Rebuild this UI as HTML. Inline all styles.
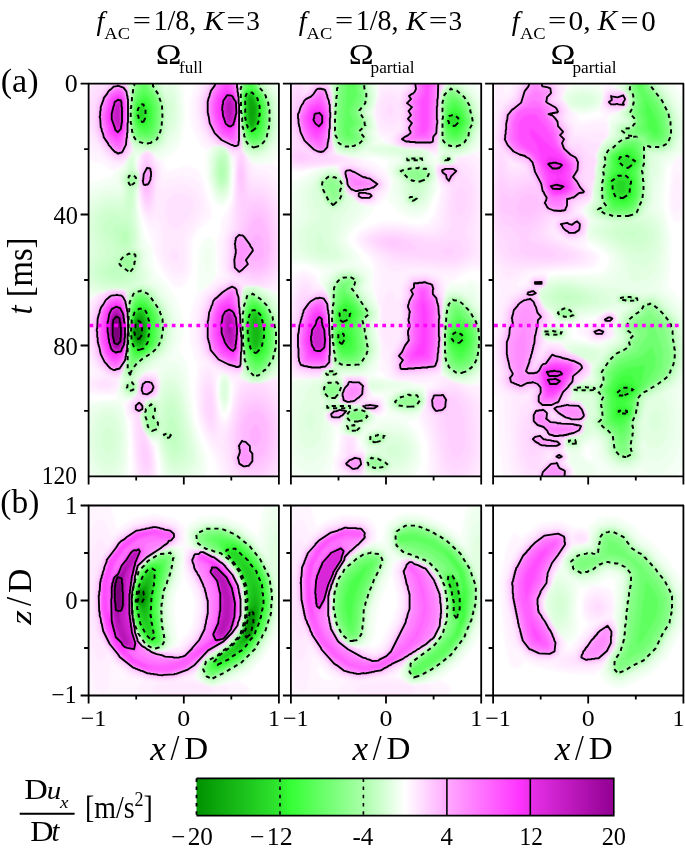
<!DOCTYPE html><html><head><meta charset="utf-8"><style>html,body{margin:0;padding:0;background:#fff}svg{display:block}</style></head><body>
<svg width="685" height="853" viewBox="0 0 685 853" font-family="Liberation Serif">
<defs>
<filter id="bl" x="-5%" y="-5%" width="110%" height="110%"><feGaussianBlur stdDeviation="0.9"/></filter>
<clipPath id="ca0"><rect x="88.6" y="83.6" width="190.3" height="392.8"/></clipPath>
<clipPath id="cb0"><rect x="88.6" y="505.5" width="190.3" height="190.0"/></clipPath>
<clipPath id="ca1"><rect x="290.9" y="83.6" width="190.3" height="392.8"/></clipPath>
<clipPath id="cb1"><rect x="290.9" y="505.5" width="190.3" height="190.0"/></clipPath>
<clipPath id="ca2"><rect x="493.1" y="83.6" width="190.3" height="392.8"/></clipPath>
<clipPath id="cb2"><rect x="493.1" y="505.5" width="190.3" height="190.0"/></clipPath>
<filter id="gs" x="0" y="0" width="100%" height="100%" filterUnits="userSpaceOnUse"><feOffset dx="0" dy="0"/></filter>
<linearGradient id="cbg" x1="0" x2="1" y1="0" y2="0">
<stop offset="0.0000" stop-color="#009100"/>
<stop offset="0.0250" stop-color="#069c06"/>
<stop offset="0.0500" stop-color="#0ca70c"/>
<stop offset="0.0750" stop-color="#12b212"/>
<stop offset="0.1000" stop-color="#18bc18"/>
<stop offset="0.1250" stop-color="#1ec71e"/>
<stop offset="0.1500" stop-color="#24d224"/>
<stop offset="0.1750" stop-color="#2add2a"/>
<stop offset="0.2000" stop-color="#30e830"/>
<stop offset="0.2250" stop-color="#34ff34"/>
<stop offset="0.2500" stop-color="#45ff45"/>
<stop offset="0.2750" stop-color="#56ff56"/>
<stop offset="0.3000" stop-color="#67ff67"/>
<stop offset="0.3250" stop-color="#77ff77"/>
<stop offset="0.3500" stop-color="#88ff88"/>
<stop offset="0.3750" stop-color="#99ff99"/>
<stop offset="0.4000" stop-color="#aaffaa"/>
<stop offset="0.4250" stop-color="#bfffbf"/>
<stop offset="0.4500" stop-color="#d4ffd4"/>
<stop offset="0.4750" stop-color="#eaffea"/>
<stop offset="0.5000" stop-color="#ffffff"/>
<stop offset="0.5250" stop-color="#ffeaff"/>
<stop offset="0.5500" stop-color="#ffd4ff"/>
<stop offset="0.5750" stop-color="#ffbfff"/>
<stop offset="0.6000" stop-color="#ffaaff"/>
<stop offset="0.6250" stop-color="#ff99ff"/>
<stop offset="0.6500" stop-color="#ff88ff"/>
<stop offset="0.6750" stop-color="#ff77ff"/>
<stop offset="0.7000" stop-color="#ff67ff"/>
<stop offset="0.7250" stop-color="#ff56ff"/>
<stop offset="0.7500" stop-color="#ff45ff"/>
<stop offset="0.7750" stop-color="#ff34ff"/>
<stop offset="0.8000" stop-color="#e830e8"/>
<stop offset="0.8250" stop-color="#dd2add"/>
<stop offset="0.8500" stop-color="#d224d2"/>
<stop offset="0.8750" stop-color="#c71ec7"/>
<stop offset="0.9000" stop-color="#bc18bc"/>
<stop offset="0.9250" stop-color="#b212b2"/>
<stop offset="0.9500" stop-color="#a70ca7"/>
<stop offset="0.9750" stop-color="#9c069c"/>
<stop offset="1.0000" stop-color="#910091"/>
</linearGradient>
</defs>
<g clip-path="url(#ca0)"><g filter="url(#bl)"><path fill="#fff5ff" fill-rule="evenodd" d="M115 171l-6-2-8-6-8-1-6-7 0-74 40 0 1 3 2 12-1 34 4 21-9 14-9 6zM281 479l-63 0-3-20-12-24-5-14-3-28 3-29-4-7-4-15 0-23 2-12 5-13 9-6 8-8 4-6-1-33 4-13 0-8 8-13 3-9 2-27-2-13-6-9-4-3-9 0-6 5-7-7-7-13-3-15 0-15 5-19 44-1 1 43 3 27 10 13 20 0 8 7 0 122-7-1-16-6-13 0-2 2-2 25 2 57-4 7 12 6 10 0 20-7 0 103zM181 287l-5 0-4-2-9-13-8-16-5-20-9-22-3-17 1-24-3-9 4-9 7-5 6 3 4 5 6 3 4 10 20-5 10 3 6 11 8 29 1 9-13 11-6 9-1 7 0 19-1 9-4 9-6 5zM111 395l-13 0-11-2 0-19 2-2-2-6-1-5 0-60 21-11 15-1 4 1 1 3 1 11-1 53-5 18-3 5 1 4-2 7-2 3-5 1zM158 479l-25 0-2-56-4-6-3-14 7-4 6-6 0-13 3-3 6-5 10-2 4 11-1 12-3 5-7 1-4 3-1 8-4 7 3 12 12 18 2 16 1 16zM226 419l5-11 2-21-5-11-5-3-4 4 0 2-2 0 0 16 4 21 3 3 2 0z"/><path fill="#ffefff" fill-rule="evenodd" d="M119 167l-7-2-12-10-6-2-6-9-2-14 1-48 40-1 1 3 2 12-1 34 4 21-9 14-5 2zM281 479l-57 0-6-23-13-22-6-15-1-15 0-17 2-14 4-10-5-7-4-15 0-21 2-12 6-15 12-11 9-6-3-12 1-21 11-45 2-37-9-13-4-2-12 1-6-6-6-12-3-14 0-15 6-18 38-1 1 43 3 27 11 16 16 6 11 12 0 102-7 5-16-6-13 0-2 2-2 25 2 57-4 7 12 6 10 0 20-7 0 103zM181 279l-4 0-4-1-9-11-6-14-2-22-9-9-5-11-3-17 0-21-2-9 3-9 7-5 6 4 7 10 3 16 19-4 11 2 7 6 5 15 1 13-16 24-2 8 0 24-3 7-4 4zM110 393l-14-1-5-1-4-4 0-7 9-6-7-14-2-8 0-43 3-9 7-6 14-5 11 0 4 1 1 3 1 11-1 53-5 18-3 5 1 4-2 6-8 3zM156 479l-20 0-5-60-4-5-1-4 2-9 9-8 0-13 7-7 5-1 6 0 3 2 2 7 0 9-4 8-7 1-4 3-1 8-4 7 3 12 10 16 3 18 0 16zM225 423l4-6 2-8 4-28-4-2-6-6-5 2-4-2 2 38 4 11 3 1z"/><path fill="#ffe9ff" fill-rule="evenodd" d="M121 164l-6-1-7-3-10-13-4-2-4-8-3-12 0-21 0-10 3-12 37-1 1 3 2 12-1 34 4 21-7 11-5 2zM239 378l-10-3-17-8-11-12-3-15 0-20 1-10 5-13 12-12 13-8-5-8 0-26 2-8 2-4 6-30 2-44-4-1-3-4-7-6-10 0-6-7-6-11-2-13-1-14 4-13 4-6 34-1 1 43 3 27 5 9 5 15 11 2 6 4 6 6 5 9 0 84-12 10-11-4-13 0-2 2-2 25 2 57-4 8zM180 272l-4 0-4-2-7-10-2-9 0-18-4-13-2-3-6 3-3-1-6-10-3-17 0-19-1-6 2-4 1-8 6-5 7 5 1 6 4 5 1 11-1 7 2 7 15-6 10 0 10 5 5 10 0 6-1 6-16 25 1 26-2 6-3 3zM109 391l-12-1-4-2-2-3 3-6 9-3-7-8-5-11-4-19 1-21 3-13 6-9 14-6 11 0 4 1 1 3 1 11-1 53-5 18-5 6 0 5-8 5zM281 479l-52 0-9-29-13-17-6-16-2-15 1-16 3-12 5-7 3 1 2 4 5 42 2 10 3 4 4-3 3-7 9-40 12 5 10 0 14-4 4 5 2 3 0 7 0 85zM154 479l-16 0-3-19-2-43-5-7 2-8 7-9 0-13 9-7 10 2 4 6 0 9-3 7-11 4-2 9-4 5 3 14 8 12 2 8 2 17-1 13z"/><path fill="#ffe2ff" fill-rule="evenodd" d="M120 162l-6-1-9-7-14-24-3-13 1-15 2-13 4-7 6 0 3 2 3-2 5-1 15 0 1 3 2 12-1 34 4 20-6 9-7 3zM240 375l-5 0-9-3-13-7-10-11-4-15 0-18 2-10 6-15 11-10 15-8-6-7-1-12 1-7-1-9 2-8 3-4 3-25 3-51-6-1-5-6-4-2-7 0-7-8-6-11-3-13 0-13 4-13 4-6 32-1 2 57 2 13 3 4 4 21 3 5 11 2 7 5 5 9 5 11 0 65-7 9-8 5-5 1-3-2-13 0-2 2-2 25 2 57-3 5zM150 215l-3-1-3-4-5-21 0-21 2-13 3-3 3-2 5 4 6 18-2 12 0 20-3 8-3 3zM178 229l-4 0-5-4-3-9-1-9 2-6 4-5 5-3 6 0 9 4 2 5 1 5-5 11-11 11zM177 263l-4-2-3-4 1-6 3-3 3 2 2 5 0 5-2 3zM118 378l-6 0-5-2-9-9-5-10-5-25 2-15 4-14 6-9 11-5 15 1 2 14-1 53-5 18-4 3zM151 479l-10 0-2-5-3-18-2-40-4-6 0-6 7-11 1-13 4-4 4-1 9 1 5 7 0 7-3 7-11 4-2 9-4 5 3 14 6 10 4 14 1 16-3 10zM217 435l-4 0-5-5-6-17 0-25 3-9 4-4 3 3 2 11 4 40-1 6zM108 388l-8 0-3-2 0-3 5-4 8 1 2 5-4 3zM277 479l-43 0-4-8-5-21-1-11 7-20 7-31 5-8 8 3 10 0 7-2 7 7 6 10 0 74-4 7z"/><path fill="#ffdcff" fill-rule="evenodd" d="M121 160l-5 0-4-2-8-8-7-10-6-21 0-14 3-12 3-4 5 0 7-7 18 0 2 6 1 11-1 31 3 19-5 8-6 3zM261 285l-8 0-7-2-11-6-7-7 0-27 1-7 5-6 2-15 0-47 2-14-8-3-8-5-4-1-8-7-7-12-2-12 0-13 3-12 5-7 30-1 2 57 8 45 3 4 10 1 7 5 5 8 4 11 3 15 0 38-8 13-5 4-7 3zM150 211l-3 0-2-3-4-18-2-2 0-17 2-4 2-14 4-2 3 1 7 20-3 29-4 10zM239 374l-12-3-13-7-9-10-4-15 0-19 2-10 5-13 11-10 13-7 7 2 4 5-2 26 2 57-2 3-2 1zM116 377l-9-3-8-8-5-9-3-13-1-15 3-20 8-13 6-5 15-1 4 1 1 2 1 51-2 19-3 9-1 3-6 2zM148 478l-3 0-2-2-4-8-2-17-1-35-4-3-1-4 0-5 5-5 2-11 0-7 5-4 3-1 9 2 4 9-3 9-12 5 0 9-4 5 3 14 4 7 5 21 0 14-4 7zM213 429l-3-2-3-4-4-14 1-17 2-6 3-3 3 4 3 24 0 13-2 5zM272 479l-33 0-5-10-4-13-2-19 10-40 4-9 8-5 12 0 6 4 7 10 6 12 0 52-4 10-5 8z"/><path fill="#ffd6ff" fill-rule="evenodd" d="M120 159l-4 0-5-3-12-15-4-12-1-11 2-18 8-12 8-6 12 0 3 1 3 13-1 34 2 16-5 10-6 3zM239 151l-6 0-14-6-9-8-5-11-3-12 0-13 4-12 4-7 29 0 1 42 3 21-1 4-3 2zM149 208l-2-1-3-2-4-18 0-15 4-16 3-3 3 4 2 7 2 3 2 5-3 27-4 9zM260 282l-8 0-9-5-6 0-8-8 1-29 1-5 6-5 0-6 0-55 1-11 3-5 2 2 2 7 4 29 3 2 10 1 6 5 6 10 3 15 3 25-2 15-7 12-11 6zM241 372l-6 0-20-9-9-10-4-14 0-18 2-10 5-13 11-10 12-7 7 3 3 7-1 13 0 27 2 37-2 4zM118 375l-5 0-5-2-8-7-5-10-4-24 1-15 4-12 7-10 6-4 6-1 9 1 3 2 1 11-1 53-4 15-1 2-4 1zM149 399l-8-1-3-5 1-11 6-5 9 1 4 8-2 8-7 5zM265 479l-20 0-10-12-3-8-1-23 7-32 6-12 10-4 9 2 8 7 6 13 3 15 1 19-3 14-6 13-7 8zM212 421l-2 0-2-3-2-9 0-11 3-6 2 2 2 12 0 10-1 5zM148 473l-3 0-2-3-3-11-1-43-5-3-2-3 0-6 7-5 6 3-1 8-4 5 0 2 11 39 0 11-3 6z"/><path fill="#ffcfff" fill-rule="evenodd" d="M120 158l-4-1-4-2-12-15-4-12-1-10 1-11 4-11 11-13 6-1 10 2 2 4 1 8-1 34 1 16-4 9-6 3zM239 150l-6 0-14-7-8-7-5-11-3-11 0-13 4-11 4-8 28 0 1 42 3 21-1 3-3 2zM149 204l-2 0-2-2-3-13-2-5 0-10 4-14 3-3 4 8 3 3 1 4-3 25-3 7zM260 279l-8 0-8-5-6 2-8-7 1-29 2-5 6-5 1-10 1-12-4-33 2-13 2-5 3 9 3 31 3 2 11-1 5 4 6 10 3 15 2 22-1 13-6 11-10 6zM241 371l-6 0-19-8-9-10-4-14 0-18 2-10 5-13 10-9 12-7 7 3 3 7-1 39 2 35 0 4-2 1zM118 374l-5 0-4-2-8-7-5-11-4-23 1-13 5-13 5-8 6-5 8-2 7 2 3 3 1 23 0 26-2 19-3 9-5 2zM149 398l-8-1-3-5 1-9 6-5 9 1 3 7-1 7-7 5zM258 477l-8-1-12-8-3-2-2-7 2-6-1-21 5-24 6-10 5-4 5-1 9 3 7 8 5 13 2 16-1 16-4 13-7 10-8 5zM141 414l-4-1-4-3 0-6 6-4 6 3-1 7-3 4zM147 467l-3-2-2-7-1-11 2-6 3 4 3 10 0 9-2 3z"/><path fill="#ffc9ff" fill-rule="evenodd" d="M239 149l-6 0-14-6-7-7-5-11-3-11 0-13 4-11 4-8 27 0 1 42 2 21-3 4zM120 157l-7-3-12-15-4-11-1-10 1-11 4-10 5-8 6-5 6-2 8 3 3 4 1 7-1 50-4 8-5 3zM148 201l-3-3-5-17 4-17 3-4 6 8 1 4-3 23-3 6zM242 193l-2-4-2-11 1-10 2-6 2 3 1 12 0 11-2 5zM259 276l-7-1-6-3-5 3-3 0-6-5-1-7 2-26 4-5 5-1 5-22 5-4 6-2 6 4 5 8 4 14 2 20-1 10-3 8-5 6-7 3zM241 370l-7 0-18-8-8-10-4-13 0-18 6-21 10-10 12-7 7 5 3 8-1 35 2 35 0 2-2 2zM118 373l-5 0-4-2-7-7-5-9-4-24 1-13 4-12 9-11 10-4 7 2 3 4 1 21 0 26-2 19-3 7-5 3zM149 397l-7 0-3-5 1-9 5-4 8 1 3 6-1 7-6 4zM259 471l-17-2-6-3-2-7 2-7 0-23 4-16 6-10 9-4 7 2 7 7 4 11 2 13-1 14-3 12-5 8-7 5zM141 413l-3 0-5-3 1-6 5-4 6 5-1 5-3 3z"/><path fill="#ffc2ff" fill-rule="evenodd" d="M236 149l-16-7-8-7-5-11-2-10 0-13 3-11 5-8 26 0 3 60-2 5-4 2zM120 156l-7-2-12-15-3-11-1-10 1-11 3-10 11-12 6-2 7 3 4 4 1 6-2 50-4 8-4 2zM148 197l-3-2-5-14 2-7 5-10 5 3 1 5 0 9-5 16zM242 182l-2-5 1-9 1 6 0 8zM242 274l-4 0-6-5 1-31 5-6 6 1 6-18 5-5 5 0 6 6 3 11 3 20-1 13-3 7-6 5-8 1-7-4-5 5zM238 370l-10-3-11-6-9-9-3-13 0-18 6-21 10-10 11-6 7 4 3 13-1 30 2 35-2 3-3 1zM115 373l-6-2-3-4-8-11-3-13-1-13 1-12 4-12 9-11 9-3 6 2 4 4 1 46-3 22-4 5-6 2zM148 397l-6-1-3-5 2-8 5-4 7 1 3 7-2 6-6 4zM140 413l-6-3 0-5 5-4 3 2 2 3-1 5-3 2zM249 469l-6 0-6-4-2-6 2-7-1-6 3-5 0-14 4-13 6-8 7-2 7 3 5 9 4 12 0 13-3 11-4 8-5 5-7 1-4 3z"/><path fill="#ffbfff" fill-rule="evenodd" d="M237 148l-6-1-11-6-7-6-5-11-2-10 0-13 3-10 5-9 25 0 2 59-1 5-3 2zM121 155l-3 0-4-2-12-14-3-11-1-10 1-11 3-10 10-11 6-2 7 2 3 5 2 8-1 34-1 12-4 8-3 2zM148 192l-2-1-5-10 1-7 5-8 4 2 2 4-1 8-4 12zM240 274l-7-6 1-30 5-5 8 2 5-14 4-4 3 0 5 4 4 12 2 15-2 11-3 6-4 3-6 1-6-2-9 7zM239 369l-11-3-11-5-8-10-3-12 0-18 1-9 5-12 10-9 10-6 6 4 3 12 0 30 2 28-1 8-3 2zM116 372l-7-2-6-6-4-8-3-13-1-13 1-12 4-12 8-10 9-3 6 1 4 6 1 34-2 29-5 7-5 2zM148 396l-6-1-2-4 1-7 5-4 7 1 2 6-1 5-6 4zM141 412l-3 0-4-2 1-5 4-4 5 5 0 4-3 2zM250 468l-7 0-5-3-2-6 2-7-1-6 5-7 0-11 3-10 5-6 6-2 6 3 4 7 2 10 0 10-4 14-4 4-5 2-5 8z"/><path fill="#ffbaff" fill-rule="evenodd" d="M237 148l-6-1-11-6-7-6-5-11-2-10 0-13 3-10 5-9 25 0 2 59-1 5-3 2zM121 155l-3 0-4-2-12-14-3-11-1-10 1-11 3-10 10-11 6-2 7 2 3 5 2 8-1 34-1 12-4 8-3 2zM148 192l-2-1-5-10 1-7 5-8 4 2 2 4-1 8-4 12zM240 274l-7-6 1-30 5-5 8 2 5-14 4-4 3 0 5 4 4 12 2 15-2 11-3 6-4 3-6 1-6-2-9 7zM239 369l-11-3-11-5-8-10-3-12 0-18 1-9 5-12 10-9 10-6 6 4 3 12 0 30 2 28-1 8-3 2zM116 372l-7-2-6-6-4-8-3-13-1-13 1-12 4-12 8-10 9-3 6 1 4 6 1 34-2 29-5 7-5 2zM148 396l-6-1-2-4 1-7 5-4 7 1 2 6-1 5-6 4zM141 412l-3 0-4-2 1-5 4-4 5 5 0 4-3 2zM250 468l-7 0-5-3-2-6 2-7-1-6 5-7 0-11 3-10 5-6 6-2 6 3 4 7 2 10 0 10-4 14-4 4-5 2-5 8z"/><path fill="#ffafff" fill-rule="evenodd" d="M237 147l-3 0-13-7-7-6-5-10-2-11 0-12 3-10 5-9 23 0 2 21 0 38-1 5-2 1zM121 154l-3 0-4-1-11-15-4-20 1-11 3-9 6-8 5-4 4-1 6 2 1 2 2 3 2 8-2 45-4 8-2 1zM146 186l-2-1-2-4 1-7 5-7 3 2 1 8-3 7-3 2zM240 273l-6-5 1-30 4-4 4 0 7 8 5-7 4-1 3 3 2 8 0 7-1 6-3 3-4 1-4-1-2-4-3 4 2 4-9 8zM239 368l-10-3-11-5-8-9-3-13 0-17 6-20 9-9 10-6 5 4 3 12 2 50-1 13-2 3zM116 371l-5-2-4-3-7-11-3-12-1-13 1-12 4-11 7-10 9-3 6 1 3 7 2 32-2 27-5 8-5 2zM148 395l-5-1-2-3 1-7 4-3 6 1 2 5-1 4-5 4zM141 411l-2 1-4-2 0-4 4-4 4 4 0 4-2 1zM257 446l-5-2-3-7 2-9 4-4 4 2 2 8-1 8-3 4zM249 467l-5 0-6-4 0-17 4-6 5 1 4 5 0 4 2 4 0 8-4 5z"/><path fill="#ffa6ff" fill-rule="evenodd" d="M236 146l-15-6-6-6-5-10-2-11 0-13 2-7 6-11 21 0 2 23 0 36-1 4-2 1zM120 153l-5-2-11-13-3-9-1-11 1-12 3-8 6-8 8-4 5 1 2 3 3 10 0 23-2 22-4 7-2 1zM146 185l-2 0-1-4 1-7 3-5 3-1 1 4-1 8-2 4-2 1zM241 271l-2 0-4-3-1-5 2-9-1-13 1-3 4-3 4 2 9 13-7 10 2 4-7 7zM238 367l-10-3-9-5-8-8-3-13 0-19 6-19 9-8 9-5 4 2 1 3 3 23 1 44-1 7-2 1zM115 370l-4-2-6-5-4-8-3-11-1-14 1-13 4-11 4-6 5-4 6-1 5 1 1 2 4 11 1 35-3 17-5 7-5 2zM148 394l-4 0-2-3 0-5 4-4 5 0 2 5-1 4-4 3zM140 411l-4-2 0-3 3-3 3 4 0 2-2 2zM249 466l-6 0-4-2-1-4 2-7-1-7 4-5 3 1 4 4 0 5 2 3 0 8-3 4z"/><path fill="#ff9dff" fill-rule="evenodd" d="M236 146l-15-6-6-6-6-13-1-19 2-9 6-11 21 0 2 23 0 23 0 13-1 4-2 1zM120 153l-2 0-5-4-9-11-3-9-1-12 1-11 3-8 6-8 8-4 5 1 2 3 3 10-1 38-1 7-4 7-2 1zM148 184l-3 0-1-3 1-7 4-5 1 7-2 8zM241 270l-1 0-4-2-1-6 2-23 3-3 3 1 9 13-7 10 2 4-6 6zM238 367l-10-3-9-5-8-8-3-13 0-19 5-17 10-10 9-4 4 1 1 3 3 23 1 36-1 14-2 2zM115 370l-4-2-6-5-4-8-3-13-1-12 1-13 4-11 4-6 5-4 6-1 5 1 3 5 2 11 1 22-3 27-5 7-5 2zM147 394l-3-1-1-5 1-4 5-1 2 1 2 4-2 3-4 3zM140 410l-3-1 2-5 3 3 0 2-2 1zM249 465l-4 1-5-4 0-16 3-4 6 4 0 5 3 4 0 6-3 4z"/><path fill="#ff95ff" fill-rule="evenodd" d="M237 145l-5-1-10-5-6-6-6-10-2-10 0-11 3-10 6-10 19 0 3 25-1 34-1 4zM121 152l-3 0-3-1-10-14-4-10-1-10 1-9 4-10 5-7 4-3 4-1 6 3 4 10-2 38-1 7-4 7zM147 183l-2 0 0-5 4-8 0 6-2 7zM240 267l-2-6 1-7 0-11 2-4 8 11-6 9 0 5-3 3zM239 366l-11-2-9-5-7-9-4-12 1-22 6-16 8-7 9-5 4 2 4 25 1 36-2 15zM116 369l-2 0-5-3-7-12-4-12-1-12 1-11 5-13 4-6 4-3 6-2 5 1 3 6 3 16 0 16-4 27-4 6-4 2zM147 392l-2-1 0-4 2-3 2 1 2 3-4 4zM247 463l-4-1-2-3 3-14 3 3 0 4 2 4 0 4-2 3z"/><path fill="#ff8cff" fill-rule="evenodd" d="M237 144l-2 1-13-7-6-5-5-10-2-10 0-11 3-10 5-10 19 0 3 25-2 37zM119 152l-6-4-8-11-4-20 4-18 5-8 8-4 5 1 2 4 2 9-1 40-4 9-3 2zM238 366l-9-3-10-5-7-8-3-12 0-16 6-21 8-7 9-5 3 1 2 8 2 17 2 36-2 13-1 2zM115 369l-4-2-5-5-4-8-4-24 1-11 3-11 5-8 5-3 5-1 5 1 3 5 3 16 0 16-3 25-6 8-4 2z"/><path fill="#ff80ff" fill-rule="evenodd" d="M236 144l-14-6-6-5-5-10-2-11 1-10 3-10 5-10 17 0 4 25-1 29-2 8zM119 151l-8-6-6-8-4-20 4-18 5-7 8-4 4 1 3 3 2 10-1 35-2 8-3 5-2 1zM238 365l-9-2-11-6-5-7-4-13 1-18 5-17 8-7 9-5 2 1 3 7 2 17 2 36-3 14zM116 368l-7-3-6-10-4-13-1-12 1-11 3-11 8-9 7-3 5 2 3 5 2 10 1 20-4 26-5 8-3 1z"/><path fill="#ff6fff" fill-rule="evenodd" d="M235 141l-12-4-6-5-4-10-2-19 3-10 6-11 13 0 4 12 1 20 0 14-3 13zM119 149l-7-5-6-8-4-19 1-8 4-10 4-6 7-4 4 1 2 3 3 14-1 25-3 12-4 5zM237 363l-7-1-10-6-6-7-3-12 1-20 5-15 15-10 4 11 4 22 0 26-3 12zM117 366l-3 0-3-2-7-10-4-13-1-10 1-11 3-11 7-9 7-2 4 0 3 5 2 10 1 15-2 25-2 7-6 6z"/><path fill="#ff5eff" fill-rule="evenodd" d="M233 139l-9-3-5-5-4-9-2-10 0-9 2-7 8-14 7 0 6 12 2 8-1 25-4 12zM119 145l-5-3-6-7-4-18 4-17 4-6 6-3 3 0 3 4 2 12-1 24-3 9-3 5zM236 361l-6-1-9-5-5-7-4-12 1-16 3-12 3-5 12-8 6 14 2 17 0 24-3 11zM116 364l-7-4-4-7-4-12 0-11 0-10 3-11 5-6 4-3 4-1 3 0 2 4 3 7 2 23-1 12-2 10-2 4-6 5z"/><path fill="#ff4dff" fill-rule="evenodd" d="M232 135l-6-1-5-5-4-8-3-10 1-7 2-9 10-12 8 11 3 13-2 19-4 9zM118 142l-9-8-3-17 3-17 9-7 6 5 1 10-1 23-6 11zM234 359l-5-2-8-5-3-6-4-11 2-21 4-9 9-6 7 11 3 16-1 24-4 9zM116 361l-5-2-5-6-3-12-1-15 3-16 5-6 7-3 5 3 3 9 1 20-2 19-4 6-4 3z"/><path fill="#ff3cff" fill-rule="evenodd" d="M230 132l-4-1-5-4-4-16 1-12 8-10 8 5 3 13-2 19-5 6zM117 138l-6-6-3-11-1-7 4-13 7-6 4 3 2 3 0 20-1 10-3 5-3 2zM116 358l-3-1-5-6-3-11-1-14 4-17 3-4 6-3 5 4 2 7 2 20-1 10-2 9-7 6zM233 356l-10-6-3-5-3-11 1-19 4-8 6-4 7 8 3 15 0 23-5 7z"/><path fill="#f432f4" fill-rule="evenodd" d="M230 129l-6-4-4-14 1-11 5-7 7 2 3 8 1 10-3 12-4 4zM119 134l-3 0-2-2-4-13 3-17 5-4 4 2 1 8-1 21-3 5zM116 355l-4-2-3-3-3-19 1-17 4-6 5-3 5 2 2 4 3 17-2 20-2 4-6 3zM233 353l-7-4-4-5-3-10 2-19 3-6 5-2 5 5 4 14-2 23-3 4z"/><path fill="#e32de3" fill-rule="evenodd" d="M232 126l-3 0-4-3-3-13 1-8 5-7 4 1 4 7 0 12-3 10-1 1zM118 132l-3-2-3-13 2-13 4-4 3 1 1 7-1 21-3 3zM119 352l-3 1-5-4-3-13 1-21 2-4 5-4 4 1 3 6 2 14-1 17-3 6-2 1zM233 351l-8-8-3-8 0-16 2-5 5-4 5 4 3 12-2 23-2 2z"/><path fill="#d827d8" fill-rule="evenodd" d="M231 126l-5-3-3-13 1-8 4-6 4 0 4 7 0 12-3 10-2 1zM119 131l-1 0-2-1-4-11 0-5 3-11 5-2 2 7-1 15-1 6-1 2zM119 352l-3 0-4-3-4-17 2-17 2-5 4-2 4 0 3 6 2 14-1 17-3 6-2 1zM233 351l-7-8-4-10 1-14 2-6 4-2 5 3 3 12-2 22-2 3z"/><path fill="#cd21cd" fill-rule="evenodd" d="M231 125l-4-2-3-13 1-8 3-5 4 1 3 5 0 5-2 13-2 4zM118 130l-5-11 0-4 3-11 4-2 1 20-1 6-2 2zM120 351l-4 0-4-2-4-17 2-17 3-5 3-2 4 2 2 4 2 9 0 19-4 9zM234 349l-3-1-5-6-3-9 1-16 2-4 3-2 3 3 3 9 1 11-2 15z"/><path fill="#c21bc2" fill-rule="evenodd" d="M231 123l-3-1-3-12 1-7 3-5 2 1 1 3 2 6-3 15zM118 127l-3-12 2-10 2-2 0 18-1 6zM120 350l-4 0-3-2-4-16 0-9 2-8 2-4 4-2 2 1 3 6 2 13 0 13-4 8zM233 348l-6-6-3-10 1-12 2-6 2-1 3 2 3 12-2 21z"/><path fill="#b715b7" fill-rule="evenodd" d="M230 121l-3-11 1-7 2-2 2 8-2 12zM119 349l-4 0-2-3-4-14 2-14 3-6 3-2 5 6 2 13-1 13-4 7zM232 344l-3-3-3-9 1-14 2-3 3 5 1 8-1 16z"/><path fill="#ac0fac" fill-rule="evenodd" d="M119 348l-3 0-3-3-3-13 1-13 3-5 3-2 4 5 2 12-1 13-3 6zM230 336l-2-5 0-7 2-4 1 8-1 8z"/><path fill="#a109a1" fill-rule="evenodd" d="M118 347l-5-3-2-13 1-11 2-4 3-2 4 3 1 12 0 13-4 5z"/><path fill="#960396" fill-rule="evenodd" d="M118 346l-4-3-2-8 1-15 4-5 3 4 2 10-1 13-3 4z"/><path fill="#8d008d" fill-rule="evenodd" d="M118 344l-4-1-1-7 0-15 3-4 3 2 2 9-1 13-2 3z"/><path fill="#840084" fill-rule="evenodd" d="M118 344l-3-1-2-7 1-15 3-3 2 1 1 10 0 12-2 3z"/><path fill="#7b007b" fill-rule="evenodd" d="M118 342l-2-1-1-6 0-10 2-6 2 10-1 13z"/><path fill="#f5fff5" fill-rule="evenodd" d="M205 479l2-10 0-10-13-37-6-55-3-8-6-8 5-19-2-18-6-16-10-15-9-9-4-8 0-16-3-6-5-5-7-34 1-32-3-9 4-9 7-5 6 3 4 5 6 2 13-9 5-9 4-26-2-31 0-3-4-1-51 0 2 15-1 34 4 21-9 14-10 7-1 4-26 8-1 116 13-7 12-4 15 1 1 3 1 11 0 30-2 29-7 17 1 4-4 11 2 4-31 3-1 77 42 0 0-52-5-24 8-4 6-6 1-7-1-6 6-6 6-3 7-1 4 11 0 9-4 8-4 0-7 4-1 8-4 7 4 14 14 18 4 30 43 0zM263 164l9-1 9-9 0-72-41-1 0 43 3 27 10 13 10 0zM223 206l5-5 3-8 2-31-2-7-5-7-4-2-9 0-7 7 1 25 7 23 5 4 4 1zM199 292l7-4 7-7 3-7 0-27-2-7-4-3-6 2-5 8-2 43 0 2 2 0zM261 383l20-8 0-81-17-5-6-3-13 0-3 6-1 12 2 66-4 7 12 6 10 0zM226 413l4-13 1-18-3-6-5-3-4 7 0 16 3 15 2 2 2 0z"/><path fill="#efffef" fill-rule="evenodd" d="M197 479l5-9 1-11-10-36-7-42-3-10-4-7-5-3-7-1 4-5 5-12 2-12-1-15-8-19-8-11-7-6-6-17 0-10-5-9-6-40 2-27-3-12 1-8 2 1 1-3 7-5 6 3 4 4 9-5 10-9 4-9 2-13-1-29-3-10-50-1 2 15-1 34 4 21-9 14-5 6-2 12-18 4-12 7 0 101 6 2 6-4 12-4 11 0 4 2 2 13-1 53-5 18-3 5 1 4-2 8 7 7 6 0 6-6 1-7-1-6 7-7 8-2 8-4-2 5 2 9-1 12-3 5-4 0-7 4-1 8-4 5 3 14 10 13 3 0 2 2 6 35 33 0zM260 162l11-5 10-14 0-50-7-11-34-1 0 43 3 27 9 11 8 0zM224 202l5-6 2-9 1-29-6-10-4-2-9 0-3 3-2 11 2 23 6 17 5 3 3-1zM208 273l3-16-1-6-2-3-3 3-1 6 2 11 2 5zM261 383l20-8 0-76-6-6-5-3-12-4-13 0-3 6-1 12 2 66-4 7 12 6 10 0zM226 410l3-11 1-17-2-6-5-3-3 6-1 18 3 11 2 2 2 0zM124 479l2-15 1-21-2-23-2-13-3-4-6-1-13 0-9 3-5 4 0 66 2 4 35 0z"/><path fill="#e9ffe9" fill-rule="evenodd" d="M132 398l5-5 1-7-1-6 7-7 15-10 8-8 5-10 3-13-1-14-3-10-12-20-9-6 0-8-5-11 1-10-5-7-4-40 2-33-3-8-1-10 1-2 4 2 7-5 9 4 9-6 5-8 3-1 2-3 4-12 1-16-2-16-4-10-46-1 2 15-1 34 4 21-6 8-2 9-5 6-1 8 2 6-3 2-9 0-9 2-7 5-6 6 0 87 9 4 15-5 11 0 4 1 1 3 1 41-1 23-5 18-2 5 1 3-2 5 5 9 4 1 4 0zM259 159l10-5 9-12 3-12-1-31-9-17-31-1 0 43 3 27 6 7 10 1zM222 200l5-4 3-8 1-30-5-10-4-2-9 1-3 15 0 18 6 15 3 4 3 1zM261 383l13-5 7-9 0-63-4-7-8-8-11-5-13 0-3 6-1 12 2 66-3 7 11 6 10 0zM188 479l6-4 4-6 2-7-1-8-8-29-8-42-6-11-4-3-4 0-5 3-4 6 0 12-3 7-1 1-4 0-7 4-1 8-4 7 3 12 5 8 4 3 6-1 6 29 4 10 20 1zM226 407l3-9 0-14-2-8-4-2-3 9 0 14 3 9 2 2 1-1zM118 479l4-9 3-14 0-21-2-19-3-6-3-4-6-1-9 1-9 5-5 10-1 6 1 31 4 12 6 9 20 0z"/><path fill="#e2ffe2" fill-rule="evenodd" d="M142 153l5-3 5 2 2 0 9-5 3-3 4-10 3-1 3-6 2-17-2-17-4-7-2-1-4 3-4-6-35 0 3 14-1 28 1 16 4 10 8 3zM257 157l10-4 8-11 4-17 0-15-2-11-9-17-28-1 0 43 4 27 6 5 7 1zM224 197l4-5 2-9 0-28-4-7-4-2-7 1-4 14 0 18 6 15 3 3 4 0zM132 397l5-4 1-7-1-6 6-8 23-19 5-11 1-17-1-12-7-13-9-13-9-4 1-8-4-10 0-12-4-6 0-12-3-21 0-21 3-6 0-14-3-5-2-12-2-3-4 6-2 10-5 8 0 6 2 6-1 4-3 2-10 0-9 3-8 6-5 9-1 60 1 12 6 4 8 3 10-3 11 0 4 1 1 3 1 41-1 23-6 21 2 3-2 7 4 8 7 1zM261 383l11-6 9-13 0-52-7-12-12-11-4-2-13 0-3 5-1 12 2 66-2 6 10 7 10 0zM182 476l8-4 4-5 2-6 0-8-14-63-5-10-7-3-4 1-4 5-5 16-5-1-7 4-1 8-4 7 3 12 6 8 3 1 6 0 6 23 4 11 6 4 8 0zM226 404l2-15-1-9-2-4-3 6-1 11 2 9 1 2 2 0zM112 474l5-4 4-9 2-25-5-21-3-5-7-1-8 2-5 7-4 12-1 15 3 13 5 10 7 6 7 0z"/><path fill="#dcffdc" fill-rule="evenodd" d="M152 151l11-7 7-16 4-4 2-13-2-14-3-5-4 3-6-13-33 0 2 14-1 34 3 15 2 3 8 3 5-1 5 1zM258 155l8-4 8-10 3-16-1-25-10-18-26-1 0 43 4 27 8 4 6 0zM223 195l4-4 2-7 1-23-2-10-6-4-4 0-5 11-1 17 4 15 4 4 3 1zM131 396l6-3 1-8-2-5 6-10 22-18 5-10 2-12-1-12-5-13-11-16-12-6 2-6-3-10 1-12-1-4-4-3 1-12-3-23 0-22 4-4 0-14-4-4-3-13-2 2-3 12-4 7-1 6 3 6-2 9-3 2-10 0-7 2-7 5-5 8-2 13 4 22-6 15 0 7 0 7 9 7 10 4 16-1 4 1 1 3 1 51-2 19-4 13 2 5-2 7 4 6 5 2zM261 383l12-10 8-13 0-43-7-15-8-9-10-6-7 0-5 1-3 16 2 66-1 4 9 9 10 0zM225 400l2-10-2-9-2 3-1 9 1 7 2 0zM179 472l6-3 5-4 3-6 0-8-12-56-5-9-6-3-4 2-3 4-4 13-7-3-6 3-2 8-4 7 4 12 3 5 5 3 7-1 6 22 4 10 4 3 6 1zM111 465l4-3 3-6 2-19-4-17-4-3-4-2-6 3-4 6-2 9-1 11 2 10 4 7 5 4 5 0z"/><path fill="#d6ffd6" fill-rule="evenodd" d="M149 150l9-4 5-4 5-12 1-10 2 0 2-4-1-12-1-4-3 2-9-20-31 0 2 14-1 34 3 14 10 5 7 1zM256 154l9-4 7-9 4-16-2-25-9-18-25-1-1 21 3 42 2 4 2 2 6 3 4 1zM224 192l5-9 1-17-3-13-2-4-3-2-4 3-3 6-2 17 4 16 4 3 3 0zM131 395l6-3 1-9-3-4 3-6 6-7 18-14 5-10 2-12 0-12-3-8-12-19-11-6-13 2 6-3 4-5-1-10 2-11-1-6-5-3 1-13-3-21 2-25 4-4 0-13-5-3-2-9-2 2-2 8-3 3-2 6 3 9-2 15-3 2-9-2-7 2-6 4-4 7-2 12 5 22-8 21 3 8 9 6 13 2 15 0-3 4 1 42-1 23-4 16 3 7-3 5 0 5 4 4 4 1zM259 382l13-10 7-11 2-7 0-31-3-8-6-13-8-8-7-6-4-1-7 2-3 3-2 22 2 38 0 20 8 9 8 1zM179 467l6-3 3-4 2-12-10-46-5-9-5-3-6 5-4 12-3-4-4-3-3 0-4 3-2 7-3 7 3 12 5 5 4 2 7-2 6 21 4 9 4 3 5 0zM225 392l0-2 0 2zM110 454l4-6 1-10-2-8-5-4-5 5-2 11 3 9 3 3 3 0z"/><path fill="#cfffcf" fill-rule="evenodd" d="M153 148l9-6 4-12 1-25-4-12-5-11-28 0-1 48 3 13 4 3 7 2 10 0zM258 152l7-3 6-9 4-15-1-15-1-10-9-15 0-3-24-1 0 43 3 20 1 3 4 3 5 2 5 0zM224 190l4-8 1-15-2-13-5-4-3 2-3 6-2 15 4 14 3 3 3 0zM121 286l8-2 6-4 5-21-1-6-6-4 2-13-4-22 3-25 5-5 0-9-6-4-1-6-3 7-4 3-1 5 3 9-1 21-3 2-10-3-7 2-6 5-2 8 1 9 7 17-1 4-10 14 0 8 4 4 6 3 16 3zM132 394l4-2 2-5-5-8 7-11 22-17 4-10 2-10-1-13-4-12-11-16-10-4-10 2-4 7 0 49-2 19-3 10 3 5 4 2-4 2-2 6 3 6 5 0zM258 381l5-2 8-7 7-11 3-12 0-21-4-13-6-12-7-8-11-6-7 1-3 4-2 20 2 38-1 9 3 13 7 6 6 1zM178 462l6-5 2-9-5-31-4-14-5-6-5 2-4 7-2 14-3-3 0-12-5-4-3 0-4 3-2 6-3 5 3 14 6 5 4 1 6-3 2-6 0 6-1 4 7 19 5 6 5 1z"/><path fill="#c9ffc9" fill-rule="evenodd" d="M152 147l9-6 4-11 1-11 0-15-9-22-26 0-2 27 2 30 6 6 7 2 8 0zM258 151l6-3 6-8 3-15 0-15-1-10-5-9-4-5-1-4-22-1 0 43 3 19 4 5 5 3 6 0zM223 188l4-6 1-13-1-11-2-4-3-1-5 6-2 13 3 12 3 4 2 0zM131 197l2-9 6-5-1-7-6-5-5 3-2 7 4 7 1 7 1 2zM120 283l9-3 7-9 3-16-2-4-6-2 2-14-4-14-17-6-7 5-2 8 2 6 9 13 1 7-12 11-3 8 2 4 5 3 13 3zM133 378l6-11 22-17 4-9 2-10-1-12-4-12-11-16-9-4-10 3-4 7 0 47-2 19-2 8 4 7 5 0zM257 380l5-2 6-5 8-12 4-13 0-18-4-14-6-12-7-8-10-6-8 3-3 11-1 27 2 21 0 9 3 12 6 6 5 1zM133 393l3-2 1-5-3-5-2-1-6 3-2 5 4 5 5 0zM154 434l6-3 1-8-4-6 1-11-7-5-5 4-4 11 3 13 6 5 3 0zM177 456l5-6 0-13-6-25-3-6-3-1-5 7-1 19-3 4 2 5 3 1 5 12 3 3 3 0z"/><path fill="#c2ffc2" fill-rule="evenodd" d="M152 146l8-5 4-12 2-16-2-10-3-9-5-9 0-3-24 0-2 10 1 45 6 7 7 3 8-1zM258 150l5-2 6-9 4-14-2-24-5-10-4-5 0-4-22-1 1 43 2 17 5 7 5 2 5 0zM224 185l3-6 0-11-1-9-4-4-5 6-1 12 3 10 3 2 2 0zM133 187l5-4 0-5-3-5-3-1-5 3-1 7 3 5 4 0zM125 250l3-2 2-5 0-12-4-6-10 0-3 3 1 7 6 11 5 4zM120 279l5-2 2-3 5 0 3-3 3-13 0-4-2-2-5-2-8 3-7 8 0 3-9 5-1 4 3 3 5 2 6 1zM132 377l7-11 21-16 4-8 2-11-1-12-4-12-11-15-8-4-10 3-4 8 0 45-3 27 3 6 4 0zM257 379l4-1 9-8 6-10 3-12 0-18-4-14-6-12-7-7-9-6-7 2-4 11 0 27 1 21 0 9 3 12 7 6 4 0zM131 393l4-2 1-4-3-7-6 2-2 6 3 4 3 1zM155 433l4-2 1-8-4-6 1-3 0-8-6-4-6 5-2 9 3 12 5 5 4 0zM176 447l2-6-1-10-3-11-3-4-3 5-1 10-5 4 2 4 5 2 4 6 3 0z"/><path fill="#bfffbf" fill-rule="evenodd" d="M149 146l10-5 4-9 2-12-1-15-4-11-5-9 0-3-22 0-3 16 1 38 6 7 12 3zM255 150l8-3 6-8 3-14-2-24-4-9-4-6-1-4-21 0 1 42 2 16 5 7 7 3zM223 183l3-5 1-9-2-8-3-3-4 5-1 9 2 8 2 2 2 1zM134 186l3-3 1-5-4-4-2-1-4 2-2 7 4 5 4-1zM126 243l2-3 0-5-1-3-3-1-3 3 0 4 3 5 2 0zM131 274l4-5 2-11 0-4-5-3-9 3-6 8 4 6 7 5 3 1zM131 377l7-11 21-17 5-9 1-9 0-12-5-11-9-14-9-5-9 2-5 11 0 42-2 26 2 6 3 1zM259 378l10-8 6-10 3-12 0-18-4-14-5-12-7-7-9-5-7 2-4 13 0 24 2 21-1 9 5 12 6 5 5 0zM133 392l3-6-4-5-5 2-2 5 4 4 4 0zM155 432l4-3 1-6-5-6 2-10-6-4-6 5-2 8 3 12 6 5 3-1zM170 439l2-4-3-4-6 3 2 5 5 0z"/><path fill="#baffba" fill-rule="evenodd" d="M149 146l10-5 4-9 2-12-1-15-4-11-5-9 0-3-22 0-3 16 1 38 6 7 12 3zM255 150l8-3 6-8 3-14-2-24-4-9-4-6-1-4-21 0 1 42 2 16 5 7 7 3zM223 183l3-5 1-9-2-8-3-3-4 5-1 9 2 8 2 2 2 1zM134 186l3-3 1-5-4-4-2-1-4 2-2 7 4 5 4-1zM126 243l2-3 0-5-1-3-3-1-3 3 0 4 3 5 2 0zM131 274l4-5 2-11 0-4-5-3-9 3-6 8 4 6 7 5 3 1zM131 377l7-11 21-17 5-9 1-9 0-12-5-11-9-14-9-5-9 2-5 11 0 42-2 26 2 6 3 1zM259 378l10-8 6-10 3-12 0-18-4-14-5-12-7-7-9-5-7 2-4 13 0 24 2 21-1 9 5 12 6 5 5 0zM133 392l3-6-4-5-5 2-2 5 4 4 4 0zM155 432l4-3 1-6-5-6 2-10-6-4-6 5-2 8 3 12 6 5 3-1zM170 439l2-4-3-4-6 3 2 5 5 0z"/><path fill="#afffaf" fill-rule="evenodd" d="M151 144l7-4 4-11 1-24-4-11-5-8 0-4-20 0-4 27 0 14 2 13 6 6 6 2 7 0zM257 148l5-2 5-6 3-11 0-18-1-10-5-9-4-5-1-5-18 0-1 19 4 39 5 6 5 2 3 0zM223 177l1-7-2-5-2 8 1 3 2 1zM131 186l6-4 0-4-3-4-5 1-2 6 2 4 2 1zM131 273l3-4 2-11 0-4-4-2-8 3-6 7 3 6 10 5zM131 375l6-10 21-16 4-9 2-9-1-12-3-10-10-14-8-5-8 2-5 10-2 68 2 5 2 0zM256 377l4-1 7-6 7-11 3-11 0-17-4-14-6-12-14-12-6 2-3 7-2 12 0 17 2 30 4 11 6 5 2 0zM133 391l2-5-2-4-5 1-2 5 2 3 5 0zM153 432l4-2 2-7-5-6 2-3-1-7-4-3-6 5-1 6 3 12 6 5zM170 438l1-3-2-3-6 3 2 3 5 0z"/><path fill="#a6ffa6" fill-rule="evenodd" d="M151 143l6-4 4-9 1-24-4-12-5-7 0-5-18 0-4 27 0 17 2 10 5 5 6 2 7 0zM256 147l6-3 5-8 3-11-2-23-4-9-4-5-1-6-16-1-2 2 0 30 3 23 1 4 5 5 4 2 2 0zM131 185l5-3 0-4-3-3-4 2-1 4 3 4zM130 272l3-3 2-11 0-3-3-2-8 3-5 6 3 4 8 6zM131 373l5-9 16-11 6-6 3-6 2-11-1-12-3-8-10-14-7-5-6 1-3 3-4 13-1 62 2 3 1 0zM256 376l6-3 5-5 6-9 3-12 0-16-4-15-5-10-6-7-8-5-6 3-3 8-1 41 2 16 3 8 7 6 1 0zM130 391l3-1 1-3-2-5-5 4 0 3 3 2zM153 431l4-2 1-6-5-5 2-10-4-3-5 4-1 6 3 12 5 4zM169 438l1-3-1-2-5 2 1 3 4 0z"/><path fill="#9dff9d" fill-rule="evenodd" d="M151 143l6-4 4-9 1-24-4-12-5-7 0-5-18 0-4 27 0 14 2 12 5 6 7 2 6 0zM256 147l6-3 5-8 2-12-1-22-4-9-5-5-1-6-15-1-2 8 0 24 3 23 1 4 5 5 6 2zM132 183l2-2-1-4-3 3 1 3 1 0zM130 269l2-8 0-5-6 2-4 5 8 6zM131 373l6-10 20-15 4-7 2-11-1-12-3-8-10-14-7-5-8 3-5 14-1 62 3 3zM256 376l10-7 7-10 3-12 0-16-4-15-5-10-14-12-5 2-4 9-1 10 0 31 2 16 3 8 8 6zM131 388l0-3-1 3 1 0zM155 429l2-5-5-6 2-9-2-3-5 4 0 6 3 11 3 2 2 0z"/><path fill="#95ff95" fill-rule="evenodd" d="M148 143l8-4 4-8 2-12-1-13-4-12-5-7 0-5-16 0-5 27 0 14 2 12 5 5 10 3zM257 146l4-1 3-4 4-13 1-17-1-9-4-9-5-5-1-6-15 0-2 7 0 24 4 26 6 6 3 2 3-1zM131 371l6-8 20-15 3-7 2-11 0-10-4-10-9-14-7-4-8 2-4 14-2 43 1 19 1 2 1-1zM258 375l8-7 6-9 3-12 0-16-3-15-6-10-13-11-5 1-4 15-1 35 2 14 4 10 6 5 3 0z"/><path fill="#8cff8c" fill-rule="evenodd" d="M148 142l8-4 4-10 1-22-4-11-5-8-1-5-15 0-5 27 2 20 1 6 4 5 7 2 3 0zM256 146l5-2 3-4 4-10 1-19-2-9-4-9-5-5 0-6-15 0-2 7 1 24 4 26 4 5 6 2zM130 370l6-7 20-15 5-9 0-6 0-13-3-10-10-14-6-3-7 1-4 9-3 43 2 24zM258 374l8-6 6-11 3-10 0-16-3-14-6-11-13-11-4 1-5 15 0 35 2 14 4 9 5 5 3 0z"/><path fill="#80ff80" fill-rule="evenodd" d="M150 141l5-3 4-9 2-11-1-12-3-10-6-9-1-5-13 0-5 22 0 19 3 12 3 4 7 2 5 0zM257 145l3-1 4-5 4-11 0-16-1-10-4-9-5-5-1-6-14 0-2 19 4 32 1 6 4 4 4 2 3 0zM131 368l5-6 20-14 4-9 1-9 0-10-4-10-9-14-7-3-6 3-5 12-2 38 3 22zM258 373l8-6 5-9 3-12 1-15-4-13-5-12-13-10-4 1-2 4-3 14 0 30 2 15 5 9 4 4 3 0z"/><path fill="#6fff6f" fill-rule="evenodd" d="M149 139l5-3 4-9 1-20-4-11-6-8-2-6-7 0-6 18-1 22 3 12 3 3 6 2 4 0zM255 144l7-4 3-7 2-10 0-17-3-10-7-8-2-6-10 0-3 15 2 30 3 12 4 4 4 1zM132 363l16-9 7-7 3-7 2-11-1-10-3-9-9-13-6-2-4 1-3 4-4 14-1 32 3 17zM257 371l7-5 6-10 3-10 1-14-4-14-5-11-5-5-8-5-4 5-4 13 0 30 4 16 4 8 5 2z"/><path fill="#5eff5e" fill-rule="evenodd" d="M255 142l7-5 2-6 2-9 0-16-4-10-9-14-6 0-5 13 2 27 4 16 7 4zM149 136l3-2 3-7 2-19-4-12-9-11-7 11-3 9 0 17 5 12 6 2 4 0zM136 359l11-6 7-7 3-6 1-11 0-10-3-8-8-11-6-3-3 1-5 6-3 16 0 26 3 13 3 0zM257 368l6-4 6-10 3-8 0-14-3-14-5-10-5-5-7-3-5 6-2 9 0 30 4 14 6 8 2 1z"/><path fill="#4dff4d" fill-rule="evenodd" d="M256 139l4-3 3-9 1-21-3-11-11-12-6 9-1 25 3 12 2 6 5 4 3 0zM148 133l4-5 2-6 0-14-4-10-6-6-8 11-2 13 1 6 3 6 5 5 5 0zM138 356l9-4 6-7 2-6 1-11 0-8-3-8-6-9-6-3-5 3-3 6-3 23 2 19 3 6 3-1zM258 364l5-4 5-8 2-20-5-19-6-8-6-3-4 5-3 9 0 29 5 13 5 5 2 1z"/><path fill="#3cff3c" fill-rule="evenodd" d="M256 136l4-6 3-8 0-16-5-11-4-5-4-2-4 2-2 7 0 22 4 13 4 3 4 1zM147 129l4-8 1-13-4-8-3-3-9 8-1 11 3 9 7 4 2 0zM139 354l7-3 6-7 2-16-2-15-5-7-5-3-4 1-4 6-4 16 1 17 1 6 4 5 3 0zM258 360l8-10 2-19-4-17-6-7-4-2-5 4-3 11 1 24 3 10 4 4 4 2z"/><path fill="#32f432" fill-rule="evenodd" d="M254 133l5-4 2-8 0-15-4-10-4-5-3 0-4 1-1 5 0 22 2 10 4 3 3 1zM145 125l3-5 1-11-3-6-2-2-6 4-2 10 3 8 6 2zM140 352l5-2 4-5 2-11 0-13-1-7-4-7-4-1-3 1-5 5-4 20 3 16 4 3 3 1zM258 356l6-7 2-11 0-11-3-12-6-6-2-1-5 3-3 9 0 13 1 12 3 7 4 3 3 1z"/><path fill="#2de32d" fill-rule="evenodd" d="M253 131l4-3 2-8 0-15-3-9-3-3-5 0-3 5 0 21 3 9 4 3 1 0zM143 122l2-3 1-10-3-5-4 3-1 8 2 6 3 1zM140 350l4-2 3-4 2-9 0-14-2-7-3-5-5 0-4 3-4 14 1 17 4 5 3 2 1 0zM257 353l5-7 2-8 0-11-3-11-5-6-6 3-2 8 0 12 2 15 4 4 3 1z"/><path fill="#27d827" fill-rule="evenodd" d="M252 131l4-3 3-8 0-13-3-10-3-4-5 0-3 5 0 21 3 9 4 3zM143 120l1-10-1-4-3 1-1 7 2 6 2 0zM141 349l3-1 4-6 1-21-5-11-4-1-4 3-3 7-2 13 1 10 3 5 4 2 2 0zM257 352l4-6 2-8 1-11-4-11-4-6-5 2-2 7-1 14 3 15 3 3 3 1z"/><path fill="#21cd21" fill-rule="evenodd" d="M253 130l2-2 3-8 1-13-4-10-3-3-4-1-2 5 0 20 3 10 4 2zM142 348l5-7 1-19-4-11-3-1-5 3-2 4-3 15 1 10 3 3 4 3 3 0zM256 351l5-6 2-8 0-9-3-12-5-4-3 1-3 8 0 11 1 12 3 6 3 1z"/><path fill="#1bc21b" fill-rule="evenodd" d="M253 129l4-9 1-13-4-10-2-3-3 0-2 5 0 19 3 9 3 2zM142 347l4-6 1-15-2-10-2-4-2-1-4 2-3 5-2 14 2 10 3 5 5 0zM256 349l2-2 3-10 0-9-3-10-3-5-4 9 0 10 1 11 2 6 2 0z"/><path fill="#15b715" fill-rule="evenodd" d="M254 127l3-8 0-11-2-8-5-5-2 4 0 19 2 9 4 0zM141 346l4-5 2-14-2-9-4-5-3 1-3 5-3 13 2 10 4 4 3 0zM256 346l3-10 0-7-3-10-1-2-2 5 0 9 1 12 2 3z"/><path fill="#0fac0f" fill-rule="evenodd" d="M253 126l2-7 1-11-2-7-3-5-2 3 0 18 2 9 2 0zM141 344l4-7 1-10-2-7-3-5-6 5-2 12 2 9 4 3 2 0z"/><path fill="#09a109" fill-rule="evenodd" d="M253 122l1-13-3-10-1 18 3 5zM140 343l3-3 2-7-1-10-3-6-4 2-2 3-2 10 2 8 5 3z"/><path fill="#039603" fill-rule="evenodd" d="M140 341l3-6 0-8-1-6-3-2-4 6-1 8 2 6 4 2z"/><path fill="#008d00" fill-rule="evenodd" d="M139 339l3-4 0-8-3-6-4 5-1 7 2 5 3 1z"/><path fill="#008400" fill-rule="evenodd" d="M139 338l2-3 0-7-2-6-3 4-1 6 2 5 2 1z"/><path fill="#007b00" fill-rule="evenodd" d="M139 335l0-11-2 8 1 3 1 0z"/></g><path fill="none" stroke="#000" stroke-width="1.85" stroke-linejoin="round" d="M236.1,146 234.1,146 232.6,145 231.6,145 221.6,140 214.7,133.1 209.7,123.1 208.7,116.1 208.2,115.6 208.2,113.6 207.7,113.1 207.7,101.1 208.2,100.6 208.2,99.1 209.7,95.6 209.7,94.1 210.7,92.1 210.7,91.1 214.7,85.6 216.2,81.6 237,81.6 237,87.6 237.5,88.1 237.5,92.1 238,92.6 238.1,96.1 238.6,96.6 238.6,103.6 239.1,104.1 239,141.1 238.5,141.6 238.5,144.1 238,145.1 236.1,146ZM118.6,153.5 117.6,153.5 116.6,152.5 115.1,152 111.2,148.1 111.2,147.6 108.7,145.1 108.2,143.6 103.7,137.1 103.2,134.1 101.7,130.6 101.7,129.1 100.7,127.1 100.2,118.1 99.7,117.6 99.7,116.1 100.2,115.6 100.2,111.1 100.7,110.6 100.7,107.1 103.7,99.1 103.7,98.1 107.2,93.6 108.2,91.6 110.1,89.7 110.6,89.7 113.6,86.7 117.1,86.2 117.6,85.7 123.5,87.6 126.5,91.6 127,95.6 127.5,96.1 127.5,98.6 128,99.1 128,122.6 127.5,123.1 127.5,132.6 127,133.1 127,137.6 126.5,138.1 126,144.6 122.5,151.6 121.6,152.5 119.1,153 118.6,153.5ZM145.6,185 143.7,184.6 142.7,180.6 143.2,180.1 143.7,174.1 147.1,167.7 147.6,168.2 149.6,168.2 150.5,169.1 150.5,171.1 151,171.6 151,176.6 150.5,177.1 150.5,179.6 148.5,183.6 147.6,184.5 146.1,184.5 145.6,185ZM239.1,271.9 234.8,267.6 234.3,259.1 234.8,258.6 234.8,256.6 235.3,256.1 235.3,254.1 235.8,253.6 235.8,249.1 235.3,248.6 235.3,245.1 234.8,244.6 234.8,243.6 235.3,243.1 235.3,240.6 235.8,240.1 235.8,238.1 239.1,234.8 239.6,234.8 240.1,235.3 242.6,235.3 244.4,237.1 249.9,244.6 250.4,246.1 252.4,248.6 252.9,250.6 245.9,260.1 247.9,264.1 242.6,269.4 239.1,271.9ZM238.1,367 236.1,367 235.6,366.5 228.6,364.5 218.6,359.5 210.7,350.1 209.2,342.6 208.7,342.1 208.7,340.6 208.2,340.1 208.2,338.6 207.7,338.1 207.7,321.1 208.2,320.6 209.2,312.1 210.2,310.6 210.2,309.6 211.2,307.6 211.2,306.6 212.2,305.1 213.2,301.1 215.6,298.2 216.1,298.2 222.6,292.2 227.1,289.2 232.1,286.7 235.1,288.2 236.5,289.6 237,293.1 238.5,297.1 239,307.1 239.5,307.6 239.6,313.6 240.1,314.1 240.6,331.6 241.1,332.1 241.1,336.6 241.6,337.1 241.5,351.6 241,352.1 240.5,364.6 239.6,366.5 238.6,366.5 238.1,367ZM115.1,370 113.6,370 110.6,368.5 107.2,365.1 107.2,364.6 104.7,362.1 100.7,354.1 99.2,346.6 98.7,346.1 98.7,344.6 98.2,344.1 98.2,342.6 97.7,342.1 97.7,337.6 97.2,337.1 97.2,331.6 96.7,331.1 96.7,329.1 97.2,328.6 97.7,318.1 98.2,317.6 98.2,316.1 98.7,315.6 98.7,314.6 99.7,312.6 99.7,311.1 101.2,307.1 103.2,304.6 105.7,300.1 109.1,297.2 111.1,295.7 116.1,295.2 117.1,294.7 117.6,295.2 121.6,295.7 123,297.1 125.5,301.6 125.5,303.6 126,304.1 126.5,308.1 127,308.6 127.1,311.1 127.6,311.6 127.6,317.1 128.1,317.6 128.1,333.6 127.6,334.1 127.6,344.1 127.2,344.6 127.1,350.1 126.6,350.6 126.5,353.1 126.1,353.6 126,356.1 125.5,356.6 125.5,359.1 125,359.6 125,360.6 119.6,368.5 115.6,369.5 115.1,370ZM147.1,394.4 142.8,393.6 142.8,392.6 141.8,390.6 141.8,387.6 142.3,387.1 142.8,384.1 143.6,383.3 144.1,383.3 145.6,381.8 149.1,381.8 149.6,382.3 151.4,382.6 153.4,386.6 153.4,388.1 152.4,389.6 152.4,390.6 151.1,391.9 147.1,394.4ZM139.6,410.9 138.6,410.9 135.8,409.1 135.8,405.6 139.1,402.8 140.9,404.1 142.4,406.1 142.4,409.1 140.6,409.9 139.6,410.9ZM245.6,466.4 243.6,466.4 239.3,463.6 238.3,458.6 237.8,458.1 239.8,452.6 239.8,449.6 239.3,449.1 239.3,446.6 238.8,446.1 242.1,440.8 242.6,441.3 245.6,441.8 249.9,446.1 249.9,450.6 252.4,453.6 252.4,461.1 248.6,465.9 246.1,465.9 245.6,466.4Z"/><path fill="none" stroke="#000" stroke-width="1.95" stroke-dasharray="4.2 3.9" d="M148.5,143.1 150.6,143 151.6,142 156.6,139.5 157.5,138.6 157.5,137.6 160.5,131.1 161,128.6 161.5,128.1 162,119.6 162.5,119.1 162,105.1 158.5,95.6 158.5,94.6 155.5,90.1 155,88.6 153,86.1 153,81.6 134.7,81.6 134.2,85.6 133.7,86.1 133.7,88.6 133.2,89.1 132.7,93.6 132.2,94.1 131.7,102.6 131.2,103.1 131.2,107.6 130.7,108.1 130.7,123.1 131.2,123.6 132.2,132.1 132.7,132.6 132.7,135.1 135.7,139.6 137.6,141.5 143.1,143 143.6,143.5 148.1,143.5 148.5,143.1ZM255,147.1 260.6,145.5 265,140.6 266.5,138.1 268,130.6 268.5,130.1 268.5,128.6 269,128.1 269,125.1 269.5,124.6 269.5,110.1 269,109.6 268,101.1 266,97.6 266,96.6 264,92.6 259,87.1 259,83.6 258.5,83.1 258.5,81.6 241.7,81.6 241.2,82.6 241.2,87.6 240.7,88.1 241.1,112.6 241.6,113.1 241.6,117.6 242.1,118.1 242.6,127.1 243.1,127.6 243.6,133.1 244.1,133.6 244.2,136.1 244.7,136.6 244.7,139.1 247.7,143.6 249.6,145.5 253.6,147.5 255,147.1ZM131.4,184.6 132.6,184.4 135.9,181.6 135.9,177.6 133.1,174.8 131.6,174.8 128.8,176.1 128.3,180.1 127.8,180.6 129.3,184.1 130.1,184.9 131.4,184.6ZM130.4,271.6 133.4,268.1 133.9,264.6 134.4,264.1 134.4,262.1 134.9,261.6 134.9,258.6 135.4,258.1 135.4,255.1 134.6,254.3 133.6,254.3 131.1,252.8 129.6,253.8 128.6,253.8 126.1,255.3 124.1,255.8 118.8,262.1 119.8,264.6 122.1,266.9 128.6,271.4 129.6,271.9 130.4,271.6ZM130.5,374.1 130.5,373.1 132.5,369.1 137,363.1 137.6,363 142.1,359 151.6,353 157.5,347.6 161.5,339.1 162.5,330.6 163,330.1 162.5,319.1 162,318.6 161.5,315.6 160,312.6 160,311.6 158.5,308.6 149.5,295.6 147.6,293.7 144.6,292.2 143.6,292.2 141.1,290.7 140.6,291.2 139.1,291.2 137.1,292.2 134.1,292.7 129.7,302.1 129.1,312.6 128.6,313.1 128.6,336.1 128.1,336.6 128.1,344.1 127.6,344.6 127.7,370.1 129.7,374.1 130.1,374.5 130.5,374.1ZM256,375.6 258.1,375.5 259.1,375 264.6,370 265.1,370 267.5,367.6 272,359.6 273,358.6 274,353.6 274.5,353.1 274.5,351.6 275,351.1 275,349.6 275.5,349.1 275.5,347.6 276,347.1 276,330.1 274.5,326.1 274.5,324.6 273.5,322.1 273.5,320.6 273,320.1 272.5,316.6 267,305.6 260.1,298.7 252.6,293.7 252.1,294.2 250.1,294.2 247.7,295.1 246.7,297.1 246.7,298.1 245.2,300.6 244.7,304.1 244.2,304.6 243.1,313.1 242.7,313.6 242.6,332.6 243.1,333.1 243.1,345.6 243.6,346.1 243.7,350.6 244.2,351.1 244.7,360.1 246.2,363.1 248.2,369.6 248.7,370.6 254.1,376 255.6,376 256,375.6ZM130.3,390.6 132.1,390.3 133.3,389.6 133.3,388.6 134.3,386.6 134.3,385.6 132.1,382.4 128.1,383.9 127.4,385.6 127.4,387.1 126.9,387.6 129.1,390.8 130.3,390.6ZM152.9,430.6 156.9,429.1 157.4,428.1 157.4,425.6 157.9,425.1 157.9,422.6 152.9,417.1 154.9,413.6 154.9,407.1 151.1,404.3 145.8,409.1 145.8,411.1 145.3,411.6 145.3,414.1 144.8,415.1 147.3,421.6 147.8,426.6 152.1,430.9 152.9,430.6ZM169.3,437.6 170.8,435.1 168.1,432.9 163.9,434.6 165.1,437.8 169.3,437.6Z"/><path fill="none" stroke="#000" stroke-width="1.85" stroke-linejoin="round" d="M230.6,126.5 228.6,126 225.6,123.6 223.6,117.1 223.1,116.6 222.6,110.6 222.1,110.1 222.6,104.6 223.1,104.1 223.1,101.1 227.1,95.2 231.6,95.7 233,97.1 233.5,98.6 235.9,102.1 236.4,113.1 235.5,115.6 235.5,117.1 235,117.6 235,119.1 234.5,119.6 234.5,121.1 233.5,123.1 233.5,124.6 230.6,126.5ZM118.1,132 117.6,132 115.1,129.6 115.1,128.6 111.7,119.1 111.7,117.1 111.7,113.1 112.2,112.6 112.2,111.1 112.6,110.6 112.7,109.1 113.1,108.6 113.2,107.1 114.1,105.1 114.7,102.1 118.1,99.7 118.6,100.2 120.6,100.2 121,100.6 121,101.6 121.5,102.1 121.5,106.6 122,107.1 122,122.6 121.5,123.1 121.5,125.6 121,126.1 121,128.6 118.1,132ZM116.6,352.5 115.6,352.5 114.6,351.6 113.1,351.1 111.1,348.6 109.6,343.1 109.1,342.6 109.1,339.6 108.6,339.1 108.1,333.1 107.6,332.6 107.6,321.6 108.1,321.1 109.2,314.1 111.7,309.1 116.1,306.7 120.1,308.2 123,313.6 123,314.6 123.5,315.1 123.5,318.1 124,318.6 124,321.6 124.5,322.1 124.5,327.1 125,327.6 125,337.6 124.5,338.1 124.5,342.6 124,343.1 124,344.6 121.5,349.6 121.5,350.6 120.6,351.5 117.1,352 116.6,352.5ZM233.1,351 230.6,349.6 227.6,346.6 224.6,342.1 224.6,341.1 221.6,333.1 221.6,321.6 222.1,321.1 222.6,316.1 225.1,311.6 229.1,309.7 232.1,311.2 233.5,312.6 234.5,314.6 234.5,315.6 236,318.1 236.5,325.1 237,325.6 237,334.6 236.5,335.1 236.5,340.1 236,340.6 236,344.1 235.5,344.6 235.5,348.1 233.1,351Z"/><path fill="none" stroke="#000" stroke-width="1.95" stroke-dasharray="4.2 3.9" d="M252.6,130.6 256.6,127.6 256.6,126.6 259.1,120.1 259.1,116.1 259.6,115.6 259.6,106.1 258.1,102.1 257.6,98.6 256.1,96.6 252.1,92.6 247.1,92.7 245.2,97.1 245.2,105.1 244.7,105.6 244.7,108.6 245.2,109.1 245.2,118.6 245.7,119.1 245.7,120.6 246.2,121.1 246.2,122.6 246.7,123.1 246.7,124.6 247.7,126.6 247.7,127.6 251.6,131 252.6,130.6ZM143.5,121.6 145,118.6 145,116.6 145.5,116.1 145.5,108.1 144,106.1 143.5,104.6 142.1,104.2 138.7,106.1 138.7,107.6 137.7,110.1 137.7,115.1 138.2,115.6 139.2,120.6 140.1,121.5 141.6,121.5 142.1,122 143.5,121.6ZM140,349.6 143.6,348.5 147,343.6 148,341.6 148.6,335.1 149.1,334.6 149.1,320.6 148.6,320.1 147.5,314.6 145,310.1 143.6,308.7 139.1,308.7 134.7,312.1 131.7,320.1 131.7,324.6 131.2,325.1 131.2,330.6 130.7,331.1 130.7,332.6 131.2,333.1 131.7,342.1 134.2,347.1 135.6,348.5 138.6,350 140,349.6ZM256.6,352.6 261.6,347.6 263.1,340.1 263.6,339.6 263.6,338.1 264,337.6 264,326.1 263.5,325.6 263.5,324.1 262.5,322.1 262.5,320.6 262,320.1 262,318.6 261.5,318.1 261,315.6 255.6,309.7 255.1,310.2 253.1,310.2 250.7,311.1 250.7,312.1 247.7,320.1 247.7,333.1 248.2,333.6 248.7,344.1 250.2,346.6 250.2,347.6 252.6,351.5 255.6,353 256.6,352.6Z"/><path fill="none" stroke="#000" stroke-width="1.85" stroke-linejoin="round" d="M117.6,344.5 115.1,343.5 114.2,342.6 113.7,339.1 113.2,338.6 113.2,336.6 112.7,336.1 112.7,323.1 113.2,322.6 113.2,320.1 116.1,316.7 118.6,317.7 119.5,318.6 120,322.6 120.5,323.1 120.5,327.1 120.9,327.6 120.9,337.1 120.5,337.6 120.5,341.1 117.6,344.5Z"/><path fill="none" stroke="#000" stroke-width="1.95" stroke-dasharray="4.2 3.9" d="M139.5,338.6 142,334.6 142,326.6 141.5,326.1 140.5,322.1 138.1,320.7 135.3,325.1 135.3,327.6 134.8,328.1 134.3,332.6 134.8,333.1 134.8,334.6 135.7,336.6 135.8,337.6 136.6,338.5 137.6,338.5 138.1,339 139.5,338.6Z"/></g>
<g clip-path="url(#cb0)"><g filter="url(#bl)"><path fill="#fff5ff" fill-rule="evenodd" d="M242 698l-154 0-2-12 0-150 1-20 3-12 20 0 7 25 15-10 21-5 7 1 16 4 9 8 0 17-2 2-12 1-14 6-9 6-8 8-4 7-4 18 1 28 7 20 5 6 9 5 12 0 11-6 11-13 4-6 3-22-3-12-8-16 0-30 18 3 13 5 11 7 8 9 7 14 2 12 0 20-3 12-5 8-9 9-18 11-6 6-7 14 7 7 7 3 8 0 20-6 4 2 6 4 3 4-2 4-6 4zM126 678l-7-5 3 5 4 0z"/><path fill="#ffefff" fill-rule="evenodd" d="M219 698l-73-1-8-3-2-4 2-4 7-4-16-6-17-14-3 10 0 16-6 5-6-3-3-8-7-36-1-56 1-40 5-20 6-10 4-1 3 3 6 16 5-4 17-12 19-4 7 0 15 4 4 2 4 6 1 8-3 6-2 2-7 1-12 5-11 7-9 9-5 14-2 10 0 22 3 14 8 16 11 7 12 0 7-3 7-1 11-13 4-8 3-14 0-10-3-10-9-20-2-7 0-9 4-8 3-1 11 2 13 5 11 7 8 9 7 14 2 12 0 20-3 12-5 8-9 9-18 11-6 6-6 12-3 4 16 8 16-2 3 2 2 4-1 2-10 6z"/><path fill="#ffe9ff" fill-rule="evenodd" d="M164 683l-18-3-16-6-14-11-9-11-5 8-4 0-6-14-3-25-1-25 1-24 3-20 5-10 2-2 3 0 5 8 9-12 16-11 20-5 7 0 16 5 5 5 1 8-2 4-4 4-4 1-12 5-11 7-9 9-2 4-5 20 0 22 5 20 8 12 9 5 12 0 3-2 12 0 12-13 4-8 3-16 0-10-3-12-10-20-2-8 2-10 4-4 14 2 14 6 7 5 11 15 4 8 2 12 0 20-3 12-5 8-9 9-18 11-6 6-6 11-3 2-17 7-12 1zM187 698l-25-2-8-4-1-2 3-4 6-2 21-2 21 2 6 2 3 4-1 2-5 3-20 3z"/><path fill="#ffe2ff" fill-rule="evenodd" d="M170 681l-9 0-15-2-15-6-14-11-15-21-4-3-5-18 0-35 2-15 3-8 3-2 0-2 17-22 17-11 17-4 6 0 17 5 4 6 1 6-5 7-16 7-11 7-9 9-3 6-4 18 0 22 5 20 8 12 9 5 23 1 4-2 13-14 5-8 3-16 0-10-3-12-10-20-3-10 3-8 4-3 12 1 14 6 7 5 11 15 4 8 2 12 0 20-3 12-5 8-9 9-18 11-6 6-5 9-9 5-18 5z"/><path fill="#ffdcff" fill-rule="evenodd" d="M170 680l-9 0-16-3-14-5-14-10-11-15-7-13-4-18-1-20 1-14 8-24 15-20 17-12 17-4 6 0 16 5 4 5 1 6-2 4-7 6-13 5-9 6-9 9-3 6-4 18 0 22 5 20 8 12 9 5 22 2 6-1 13-14 5-10 3-16 0-10-3-12-10-20-3-10 3-8 3-2 12 0 14 6 7 5 11 15 4 8 2 12 0 20-3 12-5 8-9 9-18 11-6 6-4 7-11 6-17 5z"/><path fill="#ffd6ff" fill-rule="evenodd" d="M170 679l-9 0-16-3-13-5-14-11-11-14-7-12-4-18-1-20 1-14 8-24 15-20 16-11 18-4 21 5 3 4 1 6-2 3-9 7-10 5-9 6-9 9-3 6-4 18 0 22 5 20 8 12 9 5 24 3 6-2 12-14 5-10 3-16 0-10-3-12-10-20-3-8 2-8 4-3 6-2 5 1 14 6 7 5 11 15 4 8 2 12 0 20-3 12-5 8-9 9-18 11-10 11-8 6-12 4-8 2z"/><path fill="#ffcfff" fill-rule="evenodd" d="M170 678l-9 0-14-2-15-6-13-10-12-14-7-14-4-20 0-16 1-14 7-24 15-20 17-10 17-4 20 4 3 4 1 6-3 4-9 7-17 10-9 9-3 6-4 18 0 22 5 20 8 12 9 5 24 4 6-3 13-14 5-10 3-16 0-10-4-12-10-20-2-8 2-8 3-3 5-1 6 0 12 5 8 7 10 12 6 10 2 12 0 20-3 12-6 8-9 8-15 9-12 13-7 5-14 6-7 1z"/><path fill="#ffc9ff" fill-rule="evenodd" d="M164 678l-17-2-14-6-14-11-11-13-7-14-4-20-1-16 2-14 7-24 15-19 16-11 17-3 20 4 3 5 0 4-2 4-11 8-15 9-9 9-3 6-4 18 0 22 5 20 8 12 9 5 24 4 7-2 12-15 5-10 3-16 0-10-3-12-10-20-2-8 4-10 7-2 4 0 10 5 9 7 10 12 6 12 3 11 0 19-4 12-5 7-9 9-15 9-13 13-8 6-14 5-11 1z"/><path fill="#ffc2ff" fill-rule="evenodd" d="M169 677l-8 0-15-2-13-6-14-10-11-13-7-14-4-20 0-16 1-14 7-24 15-18 16-11 17-4 19 4 3 3 1 6-3 4-11 8-14 9-9 9-3 6-4 18 0 22 5 20 8 12 9 5 24 5 7-3 13-14 5-13 3-14 0-10-3-12-11-22-2-8 4-8 10-2 20 12 10 12 6 12 2 12 0 18-3 10-6 8-8 9-16 10-12 13-7 4-13 6-8 1z"/><path fill="#ffbfff" fill-rule="evenodd" d="M163 677l-15-2-12-5-17-12-10-13-7-13-4-20-1-16 2-14 7-23 16-20 14-9 17-4 18 3 3 3 1 4-2 5-32 24-5 9-4 18 0 22 7 26 6 6 13 7 20 3 7-2 13-14 5-12 3-16 0-10-3-12-10-22-2-8 4-7 9-2 11 5 8 6 11 12 5 12 3 12 0 18-4 10-14 16-15 10-13 14-8 5-13 5-12 1z"/><path fill="#ffbaff" fill-rule="evenodd" d="M163 677l-15-2-12-5-17-12-10-13-7-13-4-20-1-16 2-14 7-23 16-20 14-9 17-4 18 3 3 3 1 4-2 5-32 24-5 9-4 18 0 22 7 26 6 6 13 7 20 3 7-2 13-14 5-12 3-16 0-10-3-12-10-22-2-8 4-7 9-2 11 5 8 6 11 12 5 12 3 12 0 18-4 10-14 16-15 10-13 14-8 5-13 5-12 1z"/><path fill="#ffafff" fill-rule="evenodd" d="M163 676l-15-2-14-6-14-10-11-14-6-12-4-20-1-16 2-14 6-22 13-17 7-6 11-7 16-3 18 3 3 4 1 2-3 5-31 23-3 2-2 8-4 18 0 22 6 26 4 6 14 7 10 3 13 1 6-3 14-14 5-12 3-14 0-12-3-14-12-26 0-4 3-4 9-2 19 11 10 11 5 12 3 12 0 18-3 10-14 16-14 8-14 15-9 5-12 5-12 1z"/><path fill="#ffa6ff" fill-rule="evenodd" d="M169 675l-11 0-14-3-10-4-14-10-10-14-6-12-5-20 1-30 7-22 16-20 13-9 17-4 18 4 3 3 0 2-2 4-25 17-9 9-6 26 0 22 5 24 5 8 11 7 6 2 20 3 6-2 14-16 6-12 3-14 0-14-3-12-10-18-3-10 4-6 7-2 11 5 9 7 9 10 6 12 2 12 0 18-3 10-4 6-10 10-13 8-15 15-10 6-16 4z"/><path fill="#ff9dff" fill-rule="evenodd" d="M169 675l-11 0-14-3-10-4-14-10-10-14-7-14-4-18 1-30 7-22 16-20 13-9 17-4 18 4 3 3 0 2-2 4-25 17-10 9-5 26 0 22 4 24 6 8 15 9 9 2 13 1 6-2 14-16 6-12 3-14 0-14-3-12-12-28 3-6 7-2 11 5 11 9 7 8 6 12 2 14-1 20-2 6-6 8-8 8-14 8-14 14-6 5-13 5-7 1z"/><path fill="#ff95ff" fill-rule="evenodd" d="M165 675l-21-3-10-4-13-10-10-14-7-14-4-18 0-30 7-22 16-20 13-9 17-4 18 4 3 3 0 2-2 4-22 14-13 12-5 26 0 22 4 24 6 9 13 8 10 2 14 1 6-2 15-16 6-14 3-12 0-14-3-12-12-26 2-7 7-3 11 5 11 9 7 9 6 11 2 14 0 14-3 12-13 15-15 9-14 14-9 6-12 4-9 1z"/><path fill="#ff8cff" fill-rule="evenodd" d="M162 675l-15-3-13-5-13-10-10-13-6-12-5-22 1-28 7-22 15-19 13-9 17-4 18 3 3 3 0 2-2 4-18 9-8 7-8 9-3 9-3 18 0 22 5 26 9 12 7 3 12 3 14 0 6-2 5-4 14-18 6-20 0-14-3-12-13-26 2-7 7-2 11 5 11 8 6 8 6 11 3 15 0 14-4 12-12 15-14 8-15 15-10 6-11 3-12 2z"/><path fill="#ff80ff" fill-rule="evenodd" d="M168 674l-6 0-16-2-12-5-13-10-10-13-6-13-5-21 1-28 7-22 15-19 13-9 17-4 17 4 3 2 0 2-2 4-19 8-14 17-4 11-2 16 0 22 5 26 8 12 7 4 11 3 16 0 9-5 17-20 6-20 0-14-3-14-13-24 1-6 5-3 13 5 14 12 9 16 2 14 0 14-2 10-9 12-4 5-16 9-13 13-8 5-19 6z"/><path fill="#ff6fff" fill-rule="evenodd" d="M168 673l-21-2-17-7-8-8-8-8-9-18-4-22 0-26 7-22 15-19 13-9 17-4 17 4 2 2 1 2-2 4-16 1-9 3-1 8-9 16-4 24-1 22 8 40 12 6 11 2 17-2 9-5 20-19 6-20 1-18-3-14-6-10-1-6-8-8 0-4 4-3 15 7 12 11 8 15 2 14 1 10-4 16-8 10-3 4-16 10-23 18-17 5z"/><path fill="#ff5eff" fill-rule="evenodd" d="M167 672l-20-1-16-7-5-4-11-12-3-4-7-16-4-20 1-26 7-22 12-17 6-5 10-6 17-3 16 3 2 2 0 4-4 1-16-3-13 3-6 4-7 5-10 14-6 20-1 26 1 6 0-28 2-8 5-4 3-8 8-12 6-5 5-1 3 2-1 2-4 12-6 30 0 24 2 14 4 12-1 4-2 3-7-1 7 8 14 6 7 1 11 0 12-3 35-24-1-4 5-12 2-12 0-16-3-12-7-10 2-6-12-6-1-4 3-2 15 6 12 12 7 14 3 18 0 8-4 16-10 12-16 9-24 18-17 5z"/><path fill="#ff4dff" fill-rule="evenodd" d="M153 668l-6 0-15-6-16-14-10-22-4-18 0-14 1-12 7-22 12-15 15-11 18-3 7 3-9-1-14 5-14 10-6 8-6 10-5 18 0 10 0 14 2 6 0-28 2-8 5-4 3-8 10-14 4-3 5-1 2 4-5 12-5 30 0 24 2 14 4 12-1 4-2 3-8-1 8 8 13 8 7 2-1 0zM195 656l-2 0 20-18-1-4 5-12 2-12 0-16-2-10-8-12 2-6-10-8 1-3 13 6 12 11 8 15 3 21-4 20-7 8-3 4-29 16z"/><path fill="#ff3cff" fill-rule="evenodd" d="M126 655l-8-7-10-22-3-18 0-12 1 12 4 9 1-1 0-30 2-8 4-4 4-8 9-14 4-2 5-2 2 4-5 12-6 30 1 24 5 26-2 6-10-2 2 7zM213 644l-3 0 4-6-2-4 5-12 2-12 0-16-3-12-6-10 2-6-2-4 1-1 7 4 10 11 6 12 3 20-6 22-8 10-10 4zM108 577l0-2 0 2zM107 580l0-2 0 2zM106 592l0-10 0 10zM121 644l-2-2 0 2 2 0z"/><path fill="#f432f4" fill-rule="evenodd" d="M134 650l-11-3-2-5-5-2-7-18 2-6 0-30 2-8 18-26 8-3 1 3-7 22-3 20 0 20 2 16 4 14-2 6zM216 642l-3-8 5-14 2-26-3-12-7-10 2-5 4-1 11 10 6 11 3 21-1 10-4 12-8 10-7 2z"/><path fill="#e32de3" fill-rule="evenodd" d="M134 649l-10-3-9-10-3-14 0-34 2-10 4-4 5-10 10-13 6-2 1 3-8 22-3 20 0 20 2 16 4 14-1 5zM220 640l-3 0-4-6 6-14 1-26-2-12-7-10 2-5 4 1 10 10 5 10 3 14-1 16-3 12-7 8-4 2z"/><path fill="#d827d8" fill-rule="evenodd" d="M134 649l-10-3-8-10-4-22 0-26 2-10 5-6 4-8 10-13 6-1 0 4-8 22-2 18 0 22 5 28 0 5zM222 639l-5 0-3-5 5-14 2-20-3-18-7-10 2-5 4 1 10 10 4 10 3 14 0 14-4 14-8 9z"/><path fill="#cd21cd" fill-rule="evenodd" d="M132 647l-7-1-8-12-5-20 0-26 3-10 4-4 3-8 10-13 3-2 3 1 0 2-9 24-3 38 7 26-1 5zM222 638l-4 0-2-4 5-20 1-14-3-16-7-12 1-4 5 1 8 9 5 12 2 10 0 16-3 12-4 6-4 4z"/><path fill="#c21bc2" fill-rule="evenodd" d="M129 646l-3 0-3-2-8-18-2-20 0-18 2-10 4-4 4-8 12-15 3 1 0 2-9 16-3 10 0 26-2 8 1 12 6 16 0 2-2 2zM223 636l-4-1-2-3 5-16 1-16-3-16-8-12 2-3 4 1 9 12 5 18-1 18-4 12-4 6z"/><path fill="#b715b7" fill-rule="evenodd" d="M127 646l-3-2-8-18-3-20 0-20 3-8 4-4 3-7 12-15 2 2 0 2-10 14-3 8 1 28-2 4-3 2 2 14 6 16 0 2-1 2zM223 634l-3 0-1-2 5-16 1-16-4-16-8-12 1-3 3 1 8 10 5 20-1 20-6 14z"/><path fill="#ac0fac" fill-rule="evenodd" d="M120 629l-6-23-1-20 3-8 4-3 9-13-6 16 1 28-2 4-3 2 1 17zM121 631l0-2 0 2z"/><path fill="#a109a1" fill-rule="evenodd" d="M118 616l-3-8-1-22 3-8 6-4 1 30-2 6-3 2-1 4z"/><path fill="#960396" fill-rule="evenodd" d="M118 612l-2-1-1-5-1-20 3-8 5-1 1 27-2 6-3 2z"/><path fill="#8d008d" fill-rule="evenodd" d="M121 611l-4-1-2-4 0-18 3-11 4 3 1 24-2 7z"/><path fill="#840084" fill-rule="evenodd" d="M121 610l-4 0-1-4-1-18 3-10 3 2 1 24-1 6z"/><path fill="#7b007b" fill-rule="evenodd" d="M120 609l-2-1-1-8 0-12 2-9 1 1 1 12 0 12-1 5z"/><path fill="#f5fff5" fill-rule="evenodd" d="M217 686l22-6 11-7 15-17 16-28 0-125-17 1-6 32-15-12-20-8-21 0-12 7-4 4-1 19 11 3 6 0 20 9 12 12 8 18 1 28-4 14-13 15-18 11-6 6-7 14 1 2 6 5 7 3 8 0zM166 650l8-3 4-5-4-32 2-16 7-17 0-30-12 0-14 6-9 6-9 9-2 4-5 20 0 22 3 14 5 12 5 6 9 5 12-1z"/><path fill="#efffef" fill-rule="evenodd" d="M217 686l10-4 20-12 16-15 11-21 6-18 1-18 0-87-4-5-5 2-4 7-6 31-7-8-14-11-18-8-20 1-11 6-5 6 2 14 16 4 14 6 7 5 10 13 6 14 1 28-4 14-13 15-18 11-6 6-6 14 1 2 5 5 7 3 8 0zM166 650l6-2 2-6-3-32 1-14 6-16 5-20-1-6-4-6-7-1-14 6-9 6-9 9-2 4-5 20 0 22 3 14 5 12 5 6 9 5 12-1z"/><path fill="#e9ffe9" fill-rule="evenodd" d="M215 686l31-17 15-15 11-20 6-18 3-22 0-68-5-6-4 2-3 6-4 25-11-13-13-11-17-7-20 0-11 6-4 4 0 6 3 10 13 2 14 6 7 5 10 13 6 14 1 28-4 14-13 15-18 11-5 4-6 12 3 8 2 2 7 4 6 0zM166 650l3-2 3-6-3-18 0-18 2-12 6-16 4-20-1-4-4-6-5-1-14 6-9 6-8 8-4 7-4 18 0 22 3 14 5 12 5 6 9 5 12-1z"/><path fill="#e2ffe2" fill-rule="evenodd" d="M214 684l31-16 15-15 10-19 7-20 0-28 4-11 0-30-2-8-3-4-3 2-2 5-3 20-16-20-13-11-14-5-21-1-10 6-3 3-1 6 3 8 3 3 6 0 13 5 11 7 10 13 6 14 1 28-4 14-13 15-21 14-7 11 5 11 7 3 4 0zM166 650l5-10-4-22 1-20 7-20 4-20-1-4-5-6-16 5-9 6-9 9-7 24 0 22 3 14 5 12 5 6 9 5 12-1z"/><path fill="#dcffdc" fill-rule="evenodd" d="M213 684l31-17 15-15 11-18 6-20 1-14-3-24-10-20-12-14-13-11-17-7-18 0-10 6-3 4 2 10 3 4 6 1 17 7 10 8 7 10 6 14 1 28-4 14-13 15-18 11-6 6-3 6 4 11 7 4 3 1zM164 650l6-10-4-30 2-16 6-16 4-20-2-7-5-3-14 5-9 6-9 9-7 24 0 22 3 14 5 12 5 6 9 5 10-1z"/><path fill="#d6ffd6" fill-rule="evenodd" d="M213 682l30-16 15-14 11-18 5-18 2-24-3-16-9-18-12-16-14-11-13-5-19-1-13 7 1 12 5 4 20 8 11 8 6 10 5 10 2 12 0 20-4 14-13 15-18 11-5 6-3 5-1 3 4 8 7 4 3 0zM162 650l3-2 4-8-3-14-1-16 2-16 6-16 4-20-2-6-4-3-14 4-9 6-9 9-7 24 0 22 5 20 8 12 9 5 8-1z"/><path fill="#cfffcf" fill-rule="evenodd" d="M214 682l29-16 15-15 10-17 5-18 2-24-3-16-9-18-12-15-13-11-14-6-18 0-12 6 1 12 5 4 19 8 10 8 9 12 4 8 1 12 0 20-3 14-14 15-20 13-6 10 4 10 7 4 3 0zM159 650l5-2 4-8-3-14-1-16 3-18 5-14 5-20-3-6-3-2-14 3-9 6-9 9-7 24 0 22 5 20 8 12 9 5 5-1z"/><path fill="#c9ffc9" fill-rule="evenodd" d="M214 680l28-14 15-16 10-16 6-18 1-24-2-16-10-18-11-14-14-12-13-5-18-1-12 8 1 10 8 6 17 6 10 7 6 9 6 12 2 12 0 20-6 16-8 11-14 11-11 6-4 8 4 10 6 3 3-1zM158 650l6-2 3-8-3-14-1-16 2-16 7-16 4-20-5-8-14 3-9 6-8 9-8 24 0 22 5 20 8 12 9 5 4-1z"/><path fill="#c2ffc2" fill-rule="evenodd" d="M213 680l29-15 14-15 11-18 6-18 1-14-3-24-10-18-11-14-13-11-16-6-15 0-8 4-4 3 2 10 10 7 14 5 10 6 7 10 6 16 1 24-4 16-3 8-7 8-13 10-13 8-3 6 3 8 2 2 7 2zM156 650l7-2 4-8-3-14-1-16 2-16 6-16 4-20 0-2-4-5-14 2-9 6-8 9-8 24 0 22 6 20 7 12 11 4z"/><path fill="#bfffbf" fill-rule="evenodd" d="M214 680l28-16 14-14 10-18 5-14 2-26-3-16-8-16-12-16-13-10-11-5-5-2-15 0-11 7 1 10 10 6 15 5 10 9 7 8 5 14 2 18-1 14-5 16-8 10-14 11-13 7-2 8 3 6 7 4 2 0zM157 650l6-3 3-7-3-14-1-16 3-18 5-14 5-20 0-2-4-5-12 2-12 7-9 12-6 20 0 22 6 20 7 12 9 4 3 0z"/><path fill="#baffba" fill-rule="evenodd" d="M214 680l28-16 14-14 10-18 5-14 2-26-3-16-8-16-12-16-13-10-11-5-5-2-15 0-11 7 1 10 10 6 15 5 10 9 7 8 5 14 2 18-1 14-5 16-8 10-14 11-13 7-2 8 3 6 7 4 2 0zM157 650l6-3 3-7-3-14-1-16 3-18 5-14 5-20 0-2-4-5-12 2-12 7-9 12-6 20 0 22 6 20 7 12 9 4 3 0z"/><path fill="#afffaf" fill-rule="evenodd" d="M214 678l27-14 14-14 10-18 6-16 2-24-4-16-8-17-12-15-13-10-13-5-17-1-10 6 1 8 9 7 14 5 11 8 8 10 5 14 2 18-1 14-5 16-9 10-14 12-12 6-2 6 2 8 7 3 2-1zM157 648l5-2 3-6-2-14-1-18 2-14 6-18 4-18-3-6-12 2-12 8-9 10-6 20 0 22 6 20 8 11 8 4 3-1z"/><path fill="#a6ffa6" fill-rule="evenodd" d="M212 678l28-14 15-16 10-16 6-18 1-14-3-24-8-16-11-14-11-9-6-4-12-4-15 0-6 3-4 2 1 8 10 7 14 4 7 5 9 10 8 18 1 28-3 14-4 8-7 9-14 11-12 6-3 8 4 6 5 2zM155 648l7-2 2-6-3-32 2-16 9-26 1-8-2-5-11 1-13 8-9 10-6 20 0 22 6 20 9 11 8 3z"/><path fill="#9dff9d" fill-rule="evenodd" d="M212 678l28-14 15-16 10-16 6-18 1-14-3-24-8-16-11-14-11-9-6-4-12-4-14 0-7 4-3 1 1 8 9 7 14 4 7 5 9 10 8 18 1 28-3 14-4 8-7 9-14 11-12 6-3 8 3 6 6 2zM155 648l7-2 2-6-3-32 2-16 9-26 1-8-2-5-11 1-12 7-10 11-5 20 0 22 3 14 10 16 9 4z"/><path fill="#95ff95" fill-rule="evenodd" d="M213 678l27-15 14-13 11-18 6-18 1-14-3-23-9-17-11-14-11-8-17-9-14 1-4 2-6 4 2 6 8 6 17 7 9 8 6 9 6 14 1 28-3 14-4 8-7 9-14 11-11 6-3 8 3 6 5 2 1 0zM157 648l5-3 2-5-3-32 2-16 9-28 1-6-3-4-10 1-12 7-10 10-5 20 0 22 6 20 8 11 8 3 2 0z"/><path fill="#8cff8c" fill-rule="evenodd" d="M214 676l27-14 13-13 10-17 6-18 1-16-2-20-12-22-8-10-13-10-16-6-13 1-8 5 0 6 8 5 17 8 8 7 7 10 6 14 1 28-3 14-4 8-7 9-14 11-11 6-3 6 3 6 5 3 2-1zM156 648l5-2 3-6-4-32 2-16 9-26 1-8-2-3-11 1-13 8-7 8-6 20 0 22 6 20 8 10 8 4 1 0z"/><path fill="#80ff80" fill-rule="evenodd" d="M213 676l28-14 13-13 10-17 6-20 1-14-3-20-9-19-11-13-10-8-18-7-13 1-6 4-1 4 7 6 15 7 9 9 8 10 6 14 1 28-3 14-4 8-7 9-25 17-2 6 1 4 2 3 5 1zM155 648l6-3 2-5-3-32 2-16 8-26 1-8-2-3-9 1-11 6-10 10-5 15-1 23 1 10 5 14 7 9 9 5z"/><path fill="#6fff6f" fill-rule="evenodd" d="M215 674l25-13 13-13 11-18 5-18 1-14-3-20-9-18-10-13-11-7-17-7-12 2-4 3 0 1 5 5 12 7 9 8 9 13 6 14 2 18-1 14-5 16-9 11-24 18-2 5 3 6 3 1 3-1zM155 646l5-2 2-4-2-12-1-20 2-16 7-22 0-12-8 0-14 8-7 9-6 17 0 18 4 16 4 10 6 7 8 3z"/><path fill="#5eff5e" fill-rule="evenodd" d="M216 672l23-12 13-12 7-12 6-12 3-12 1-14-3-20-9-18-10-12-8-6-6-3-13-3-11 2 23 23 7 11 6 14 2 18-1 14-5 16-9 11-23 19-1 4 2 4 6 0zM155 646l4-2 2-4-3-32 2-16 6-28 0-4-4 0-12 3-9 9-6 16-2 14 2 18 6 13 7 10 7 3z"/><path fill="#4dff4d" fill-rule="evenodd" d="M217 670l22-11 12-12 11-18 6-25-2-22-8-18-11-12-8-8-7-3-7-1-7 0 6 14 16 17 5 13 2 20 0 10-6 20-9 11-22 19 2 6 5 0zM156 644l4-4-4-28 2-20 5-22 0-6-2-1-10 1-9 8-7 16-2 14 3 18 5 12 8 11 7 1z"/><path fill="#3cff3c" fill-rule="evenodd" d="M218 668l20-10 12-12 10-18 6-24-1-20-6-14-9-12-8-9-5-4-7-2-5 1-1 6 2 4 14 17 5 13 2 20-1 14-5 16-9 12-19 16 0 6 5 0zM153 642l5-4-4-26 2-18 5-24-1-4-6-1-7 3-6 8-5 14-2 12 3 18 5 12 7 10 4 0z"/><path fill="#32f432" fill-rule="evenodd" d="M218 666l20-11 10-9 7-9 4-9 6-24-2-20-5-14-13-16-10-8-8 2-2 2 1 4 14 16 6 14 2 18-1 16-5 16-10 12-12 8-6 8 2 4 2 0zM154 640l2-2 0-2-4-24 6-42-1-2-4-1-6 3-5 7-6 13-1 12 4 20 4 10 8 9 3-1z"/><path fill="#2de32d" fill-rule="evenodd" d="M218 664l23-13 9-11 10-20 3-14-1-20-5-14-9-12-13-11-8 1-1 2 14 18 6 14 2 18-1 16-5 16-10 12-12 8-6 8 4 2zM152 640l2-4-3-26 4-38-3-3-5 2-6 9-4 10-1 12 4 22 5 10 7 6z"/><path fill="#27d827" fill-rule="evenodd" d="M219 662l23-12 11-14 7-16 2-14 0-18-7-16-9-11-11-10-6 1 13 18 5 16 1 16-1 16-5 16-10 13-14 13-2 2 3 0zM153 638l-3-22 1-20 3-14 0-10-2-2-5 2-5 8-5 10-1 12 5 22 7 11 4 3 1 0z"/><path fill="#21cd21" fill-rule="evenodd" d="M224 658l18-10 10-10 7-18 2-8 1-12-3-14-6-12-13-14 4 8 5 18-2 32-5 16-9 14-10 10 1 0zM150 632l-1-16 4-34-1-11-3 1-6 8-6 10-1 12 7 20 7 10z"/><path fill="#1bc21b" fill-rule="evenodd" d="M146 622l5-30 0-12-1-5-6 5-6 10-2 12 10 20zM235 650l8-4 8-8 7-18 2-18-3-12-4-8-6 36-4 16-8 16z"/><path fill="#15b715" fill-rule="evenodd" d="M145 614l4-16 0-18-11 10-1 8 0 4 8 12zM242 644l10-8 6-16 1-14-4-12-6 14-2 10-7 26 2 0z"/><path fill="#0fac0f" fill-rule="evenodd" d="M145 608l3-10-1-13-9 5-1 12 5 6 2 1 1-1zM243 642l5-2 4-4 3-10 3-14-2-9-7 7-6 32z"/><path fill="#09a109" fill-rule="evenodd" d="M144 606l3-8 0-8-2-2-7 2-1 12 5 3 2 1zM248 638l4-4 3-10 1-12-1-4-5 1-6 21 0 8 4 0z"/><path fill="#039603" fill-rule="evenodd" d="M143 604l3-6-1-6-1-2-4 0-3 12 6 2zM248 638l3-4 3-10 1-12-4-3-6 21 0 8 3 0z"/><path fill="#008d00" fill-rule="evenodd" d="M142 602l2-4 0-4-1-2-3-2-2 12 4 0zM247 636l4-2 2-10 0-10-2-4-5 18-1 6 2 2z"/></g><path fill="none" stroke="#000" stroke-width="1.85" stroke-linejoin="round" d="M162.6,675.4 157.6,674.9 157.1,674.4 154.1,674.4 153.6,673.9 150.6,673.9 150.1,673.4 147.6,673.4 142.1,670.9 141.1,670.9 139.6,669.9 138.6,669.9 137.1,668.9 136.1,668.9 134.6,667.9 133.6,667.9 119.7,657 118.2,654.5 109.7,644 103.2,631 101.7,623.5 101.2,623 100.7,618.5 99.7,616 99.7,612 99.2,611.5 98.7,595.5 99.2,595 99.2,591.5 99.7,591 100.2,582 100.7,581.5 100.7,579.5 101.7,577.5 101.7,576 102.7,574 102.7,572.5 104.2,569 104.2,567.5 106.7,561.5 106.7,560 116.2,547.5 118.7,543.5 121.1,541.1 124.6,539.1 126.1,537.6 136.6,530.6 140.6,530.1 141.1,529.6 145.1,529.1 145.6,528.6 149.6,528.1 150.1,527.6 152.1,527.6 152.6,527.1 156.6,527.1 157.1,527.6 158.6,527.6 161.1,528.6 162.6,528.6 164.6,529.6 170.1,530.6 173.5,533.5 174,534.5 174,537 171.1,540.4 168.5,541 168,542.5 166.6,543.9 164.1,545.4 160.6,548.3 146.6,557.4 137.5,566 137.5,567.5 137,568 137,569.5 136.5,570 136.5,571.5 136,572 136,573.5 135,576 134.5,582 133.7,584 133.7,586 133.2,586.5 133.2,588.5 132.2,591.5 132.2,595 131.7,595.5 132.2,614.5 132.7,615.5 132.7,619 133.2,619.5 133.5,622.5 134,623 134,626.5 134.5,627 135,632.5 137.5,639.5 137.5,641 142.1,646.1 145.1,647.6 147.6,649.7 149.1,650.2 151.6,652.2 156.6,654.2 161.6,655.2 165.1,656.6 173.1,657.1 173.6,657.6 179.1,657.6 179.6,657.1 182.6,656.6 185.1,655.6 192.2,648.5 192.2,648 199.2,640 204.7,629 204.7,627 205.2,626.5 205.3,624.5 205.8,624 206.3,619.5 206.8,619 206.8,617 207.3,616.5 207.3,614.5 207.8,614 207.8,600.5 207.3,600 207.3,598.5 206.8,598 205.8,592.5 205.3,592 205.3,590.5 204.8,590 204.8,588.5 203.3,586 203.3,585 198.8,575.5 197.8,574.5 196.8,572 195.8,571 194.3,568 193.7,564.5 192.7,562.5 192.2,560 193.7,557 193.7,556 195.1,554.1 198.6,554.1 200.6,552.1 203.1,552.1 212.6,557.1 213.6,557.1 220.1,562.1 222.1,563.1 225.5,566.5 225.5,567 232.5,575 238,586 238,588 238.5,588.5 239,593 239.5,593.5 239.5,595.5 240,596 240,598 240.5,598.5 240.5,615.5 239.5,617.5 239.5,619 238,622.5 237.5,625.5 232,633 229.6,635.4 229,635.5 229,636 223.6,641.4 208.1,650.4 194.6,664.9 187.1,669.9 176.1,673.9 174.6,673.9 174.1,674.4 163.1,674.9 162.6,675.4Z"/><path fill="none" stroke="#000" stroke-width="1.95" stroke-dasharray="4.2 3.9" d="M212.5,678.5 226.1,671.9 229.6,669.4 232.1,668.4 235.6,665.9 240.6,663.4 255,649 259,641.5 261.5,638 262.5,635.5 265,632 270,616 270.5,615.5 270.5,614 271,613.5 271.5,600 272,599.5 272,592.5 271.5,592 271.5,589.5 271,589 271,586.5 270.5,586 269.5,577.5 260,559 249.6,546.1 235.6,534.6 221.1,528.6 205.6,528.7 204.6,529.7 198.6,532.7 196.3,534.5 196.8,539.5 197.3,540 197.3,542.5 198.6,543.9 206.1,548.9 207.1,548.9 209.1,549.9 210.6,549.9 214.1,551.4 215.6,551.4 221.1,553.4 222.6,554.9 231.1,561 238.6,571 244.6,586 245.1,596 245.6,596.5 245.6,602 246.1,602.5 246.1,604 245.6,604.5 245.6,614 245.1,614.5 245.1,618.5 244.1,620.5 242.6,628 241.1,631.5 240.6,634 239.1,636 231.1,645 220.6,652.5 218.1,655 218.1,655.5 206.6,661.1 205.7,662 205.7,663 203.2,668.5 203.2,669.5 205.2,673.5 205.2,674.5 206.6,676.4 211.6,678.9 212.5,678.5ZM155.5,648.5 159.1,647.4 160.6,646.4 161.6,646.4 165,640 164.5,639.5 164.5,637.5 164,637 164,635 163.5,634.5 162.5,627.5 162,627 162,621.5 161.5,621 161.5,611.5 161,611 161,608 161.5,607.5 161.5,604 162,603.5 162,600.5 162.5,600 163,593 163.5,592.5 164,589.5 165,588 165,587 166,585.5 166,584.5 167,583 167,582 169.5,576.5 169.5,575 170,574.5 171,569 171.5,568.5 171.5,567 172,566.5 172,564.5 172.5,564 173,558.5 173.5,558 173.5,557 170.1,552.6 169.6,553.1 166.1,553.1 165.6,553.6 159.1,554.1 147.2,561.5 147.2,562 144.2,565 144.2,565.5 141.2,568.5 138.2,572.5 138.2,573.5 135.2,580 135,582 134,584 134,586 133,589 133,591 132.5,591.5 132.5,595 132,595.5 132,605.5 132.5,606.5 132.5,614.5 133,615 133,619 133.5,619.5 133.5,621 134.5,623 135.2,626 138.2,632.5 138.2,633.5 146.1,644.9 154.1,648.9 155.5,648.5Z"/><path fill="none" stroke="#000" stroke-width="1.85" stroke-linejoin="round" d="M134.1,649.2 127.1,647.8 124.6,646.9 122.2,644.5 121.7,643 115.7,637 114.6,632 114.2,631.5 114.1,630 113.6,629.5 113.6,628 113.1,627.5 113.1,626 112.6,625.5 112.6,624 112.1,623.5 112.2,622 111.7,621.5 111.2,599.5 111.7,598 111.7,587 112.2,586 112.2,583.5 113.2,581.5 113.7,578.5 114.7,577 118.2,574 121.7,565.5 126.2,560 130.7,553 133.1,550.6 134.6,550.1 136.1,550.6 138.6,549.2 139.9,551.5 134.9,563.5 134.9,565.5 134.4,566 132.3,575.5 131.9,576 131.3,582 130.9,582.5 130.8,586 130.4,586.5 130.4,589.5 129.9,590 129.9,593.5 129.4,594 129.4,615 129.8,615.5 129.9,619 130.3,619.5 130.4,622.5 130.8,623 130.9,626.5 131.3,627 131.9,632.5 135.3,643 134.1,649.2ZM217.1,640.3 215.7,640 213.3,635 213.3,634 218.3,623 218.8,617.5 219.3,617 219.8,611.5 220.3,611 220.3,593 219.8,592.5 217.2,581 210.7,572.5 210.7,570.5 211.7,569.5 211.8,567.5 212.6,567.1 213.1,567.6 216.1,567.5 217.6,568.5 226.5,577.5 232,588.5 232.5,592 233,592.5 233,594.5 233.5,595 233.5,597 234,597.5 234,599.5 234.5,600 234.5,602 235,602.5 234.4,617.5 233.5,619.5 233.4,621 232.5,623 232.4,624.5 231.5,626.5 230.9,629.5 225.9,636 223.1,638.8 220.1,639.3 219.6,639.8 217.6,639.9 217.1,640.3Z"/><path fill="none" stroke="#000" stroke-width="1.95" stroke-dasharray="4.2 3.9" d="M218,664.5 228.6,659.4 233.1,655.9 236.6,653.9 238.1,652.4 241.6,650.4 245.5,646.5 250.6,639.5 252.6,637.5 255.1,633 256.1,629.5 260,621 260.5,617.5 261,617 261,615 261.5,614.5 261.5,612.5 262,612 262,610 262.5,609.5 262.5,607.5 263,607 263,605 263.5,604.5 263.5,599.5 263,599 263,593.5 262.5,593 262.5,587.5 262,587 262,585 261,583.5 261,582.5 260,581 260,580 259,578.5 259,577.5 258,576 258,575 257,573.5 256.5,571.5 248,561 248,560.5 242.6,555.1 242.1,555.1 235.1,548.6 230.1,549.2 229.6,549.7 227.1,549.7 226.3,550.5 226.4,553 240.5,571 246.4,586 246.9,596 247.4,596.5 247.4,602 247.8,602.5 247.3,605 247.2,614 246.8,614.5 246.7,618.5 245.7,620.5 244.2,628 242.3,634 240.8,636 231.6,646.3 220.6,654.4 214.3,661.5 214.6,662.3 215.1,662.3 217.6,664.9 218,664.5ZM151.4,640 154.5,637.5 154.5,635.5 153.5,633 153.5,631.5 152.5,629.5 152,623.5 151.5,623 151.5,620 151,619.5 151,616.5 150.5,616 151.6,595.5 152.1,595 152.1,593 152.5,592.5 153,588 153.5,587.5 153.5,585.5 154,585 154,583 154.5,582.5 154.5,572 155,571.5 155,570.5 154.5,570 152.1,568.6 148.1,569.6 146.2,571.5 142.2,577.5 138.1,588.5 138.1,589.5 137.1,590.5 136.6,596.5 136.1,597 136.1,600.5 135.6,601 137.1,603 137.2,609 137.7,609.5 137.7,611.5 138.2,612 138.2,614 138.7,614.5 138.7,616.5 139.2,617 139.2,619 139.7,619.5 140.2,623.5 146.3,635 150.8,639.5 151.1,640.3 151.4,640Z"/><path fill="none" stroke="#000" stroke-width="1.85" stroke-linejoin="round" d="M120.6,610.8 118.1,610.9 115.8,610 115.3,602 114.8,601.5 114.8,586.5 115.3,586 115.3,583.5 116.3,581.5 116.3,580 117.6,577.2 121.1,578.1 121.9,579 121.9,583.5 122.4,584 122.4,591 122.9,592 122.9,605.5 121.4,610 120.6,610.8Z"/><path fill="none" stroke="#000" stroke-width="1.95" stroke-dasharray="4.2 3.9" d="M141.9,602.5 144.4,598 144.4,595.5 143.9,595 143.4,592 142.9,591.5 139.1,590.4 139,592.5 138.5,593 138.5,596.5 138,597 138,600.5 137.5,601.5 140.6,602.7 141.9,602.5ZM246.9,637 250.8,634 252.4,626.5 252.9,626 252.9,624.5 253.4,624 253.4,613 250.6,610.3 249.4,613.5 249.4,615 248.5,617 248.5,618.5 247.5,620.5 245.5,630 245,630.5 244.9,632.5 245.9,635 245.8,636.5 246.6,637.3 246.9,637Z"/></g>
<g clip-path="url(#ca1)"><g filter="url(#bl)"><path fill="#fff5ff" fill-rule="evenodd" d="M373 207l-13-3-13-11-4-14-7-13-15 1-23 5-9-1 0-90 39 0 1 2 3 11 0 47 3 12 10 3 26 5 14 9 5 10 0 8-3 8-9 9-5 2zM435 158l-1-4-4-3-34-5-12-4 0-3-4-2-2-3-2-16-2-4 4-16 1-17 67 0-6 17-2 53-1 5-2 2zM483 479l-57 0 2-19 0-14-4-13-6-14 8-17 0-16-13-4-16-1-8-2-4-2-2-5-4-2 2-24-4-21 3-6 0-11-7-21 1-14-1-9-3-6-12-12-3-6 1-5 5-5 19-8 12-1 26 4 10-2 7-10 5-22-4-19 0-9 5 1 11 0 3-1 1-6 12-2 13-5 2 0 0 13 0 108-9-1-7 2-12 8-4 1-6 9-3 22 1 4-2 59 12 6 16 4 7-1 7-3 0 98zM311 379l-14 0-8-2 0-95 5-8 8-4 8 2 7 5 3 7 7 9 3 9 2 66-7 2-3 3-1 5-10 1zM379 417l-17-9-3-4-5 2-2-2-7 0-6-2 4-14 0-12 18-1 7 2-1 7 3 8 5 4 7 0 3 7 1 9-7 5zM337 428l-9-7-2-7 5-4 15-1 1 3-6 12-4 4zM365 479l-25 0-1-3-5-6 0-11 4-6 2-16 2-3 10 1 6 3 1 7 4 3 2 4 0 27z"/><path fill="#ffefff" fill-rule="evenodd" d="M373 205l-5 0-8-1-13-11-4-14-7-13-37 4-10-2 0-87 39 0 1 2 3 11 0 47 3 12 10 3 14 3 4 2 0 3 13 5 8 6 4 6 0 5-1 5-14 14zM436 155l-2 0-4-4-7-2-19-1-14-4-1-8-11-3-4-22 4-13 0-11 4-5 15 0 4 3 1-3 4-1 40 0-6 17 0 26-2 27-2 4zM483 479l-51 0-2-37-4-13-6-14 7-13-1-11 7-5 1-5-20 1-17-1-4-2-4-4-2-9-6-11 0-9-4-21 3-6 0-11-3-7 4-20-1-11-5-11-14-13-3-6 1-4 5-5 16-5 13-1 28 3 11-3 5-8 5-28-4-7-2-10 0-9 5 1 11 0 3-1 1-6 16-3 2 0 4 4 5 8 0 99-13 2-17 8-12 0 3 5 2 7-3 12-1 13 1 4-2 59 12 6 30 7 0 91zM311 379l-13-1-5-2-4-5 1-72 5-19 4-5 5-1 6 2 7 8 5 2 5 7 3 9 2 66-7 2-3 3-1 5-10 1zM378 415l-16-7-3-4-5 2-2-2-7 0-6-2 4-14 0-12 19-1 6 2-1 7 1 5 4 5-1 3 10 2 4 5-1 6-6 5zM340 425l-7 0-3-2-3-4-1-5 5-4 15-1 1 3-7 13zM355 479l-11 0-2-5-5-7 0-6 3-5 2-21 13 1 3 3 0 10 7 3-1 23-9 4z"/><path fill="#ffe9ff" fill-rule="evenodd" d="M371 204l-11 0-13-11-3-14-6-9 1-5-40 4-10-3 0-71 1-13 16 0 1 3 3-3 18-1 1 2 3 11 0 47 3 12 19 6 2 2-1 2 20 8 10 10 0 8-7 6-2 6-5 3zM433 153l-10-4-19-1-11-3-1-6 2-7-7 0-5-3-4-5-2-8 1-16 7-11 8-2 7 5 6-6 0-4 1-1 40 0-5 11-1 6 0 26-2 27-5 2zM395 272l-6-2-10-12-15-13-2-4 1-4 8-6 13-4 12 0 27 4 12-2 5-8 5-33-8-11-1-11 2-2 14 0 3-1 1-5 4-1 10 2 7 9 5 19 0 19-3 26 4 13 0 12-4 3-26 11-40-3-18 4zM416 379l-17 0-4-2-4-4-2-16 1-7-5-5-3-12 0-22 2-12 4-8 3-1 2 2 5 11 3-8 0-8 5-10 6-4 15-1 13 6 5 14-3 20 1 4-2 58-8 3-17 2zM321 378l-11 0-12-3-6-4-3-8 0-37 3-27 5-15 3-4 4-2 6 2 5 8 9 1 4 6 2 7 2 66-7 2-3 3-1 5zM397 339l1-1-1 1zM377 414l-2 0-13-6-3-4-5 2-2-2-7 0-6-2 5-14 0-11 18-1 5 3 1 10 2 2-2 8 12 1 3 5 0 5-6 4zM476 479l-39 0-5-42-9-27 4-8-1-8 4-5 6-1 3-3 3-9 11 5 9 3 17 11 4 4 0 65-4 11-3 4zM341 423l-11-1-3-3-1-5 5-4 15-1 1 3-6 11zM351 478l-3 0-9-12 0-5 3-4 2-22 11 2 1 13 9 3-1 20-3 2-9 2-1 1z"/><path fill="#ffe2ff" fill-rule="evenodd" d="M303 167l-7 0-7-3 1-22-1-42 2-11 3-7 8 0 4 8 8-8 13 0 3 3 2 9 0 47 3 10-1 3 12 4 3 3-9 3-37 3zM432 151l-17-3-11 0-7-2-3-7 2-5 5-4 0-5-2-7-4 6-5 2-5-2-4-6-1-10 3-9 4-4 4-1 4 2 4 5 3-9 5-5 0-5 39 0-5 10-1 6 0 26-2 24-6 3zM400 117l0-4 0 4zM455 267l-61-3-24-17-5-7 5-6 14-4 13 0 30 5 7-1 6-3 4-7 4-36-11-12-1-7 4-5 12 0 10-2 5 2 4 5 5 17 2 20-5 27 4 18-5 7-17 9zM370 203l-11-1-12-9-3-14-5-7 3-7 5-2 6 1 21 9 9 7 1 4 0 4-7 6-2 6-5 3zM416 377l-15 0-5-2-4-6-1-14 9-17 1-25-1-8 3-10 0-8 7-11 16-2 13 6 2 6 1 6 2 3-2 17 1 4-2 56-5 3-20 2zM321 376l-10 0-12-3-5-3-3-7-1-29 4-31 4-13 6-7 4 1 5 6 12 0 3 5 2 7 2 66-7 2-4 6zM376 413l-4 0-10-5-3-4-5 2-2-2-7 0-6-2 5-14 1-10 4-2 11 0 7 5 2 11-1 5-3 4 14 0 3 4-1 5-5 3zM468 479l-24 0-1-2-4-11-5-34-8-25 1-10 3-6 9-2 12-7 7 3 14 12 5 5 2 8 2 27-1 17-5 16-7 9zM341 422l-8 0-4-1-3-5 1-3 10-4 9 0 1 3-6 10zM356 475l-7-1-6-5-3-3 1-5 4-4 2-21 6 1 2 15 7 1 3 2-1 15-4 4-4 1z"/><path fill="#ffdcff" fill-rule="evenodd" d="M433 149l-29-1-6-3-2-3 0-6 6-5 1-7-2-5 1-10-2-6 3-10 6-5-1-6 37 0-5 16 0 26-2 22-5 3zM306 165l-10 0-7-5 0-7 4-9-3-26 1-22 3-8 3-4 4 1 3 8 10-10 9-1 7 3 2 9 0 47 2 7-3 7 7 2 4 3-8 3-28 2zM391 116l-3-1-2-4 1-5 3-2 3 2 1 4-1 4-2 2zM370 202l-10 0-13-9-3-14-4-5 0-4 3-4 10-1 20 9 9 7 1 6-8 7 0 5-5 3zM453 264l-58-5-19-11-7-7 1-3 4-3 11-3 14 0 31 6 10-1 7-4 4-7-2-20 3-20-5-1-3-2-6-8-1-5 4-5 12-1 6 3 3 5 6 6 4 10 1 12-1 12-6 20 4 15 0 5-7 8-10 4zM408 376l-8 0-5-3-3-16 1-4 9-15 1-25-2-9 4-9 0-7 4-9 4-2 14-1 10 5 3 6 0 5 3 6-2 71-6 4-27 3zM322 374l-11 0-12-2-4-3-3-7-1-29 6-33 3-7 4-4 3 0 4 4 8-2 8 2 3 9 2 66-7 2-3 4zM354 406l-2-2-7 0-6-3 5-13 0-7 5-4 12 1 7 7-2 12-6 6-6 3zM459 477l-5 0-5-3-6-10-7-40-2-8-5-5-2-7 2-10 4-3 18-3 6 1 10 8 6 11 3 26-1 20-6 15-5 5-5 3zM376 412l-4 0-8-3-4-3 0-2 2-2 7-1 10 1 2 3 0 3-5 4zM341 421l-11-1-3-3 0-4 10-4 9 0 1 3-6 9zM356 474l-7-2-6-4-2-3 1-4 5-5 1-10 2-4 2 12 7 0 5 3 0 12-4 4-4 1z"/><path fill="#ffd6ff" fill-rule="evenodd" d="M432 148l-27-1-6-3-2-3 1-5 6-5 1-7-2-5 1-4 0-7-2-5 2-9 6-5 0-7 34 0-5 25 1 17-2 20-2 2-4 2zM302 164l-7-1-5-5 6-14-5-23 2-24 4-7 3 0 3 5 5-3 7-8 10 0 5 3 2 7 1 53-1 3-5 6 6 2 1 2-32 4zM306 151l-4-4 4 4zM371 201l-11 0-5-5-8-4-3-13-3-4 2-8 9-1 20 8 9 7 1 3-1 3-8 6 2 5-4 3zM450 185l-4-1-7-9-1-5 3-4 13-1 6 5-1 4-9 11zM461 216l-2 0-3-3-2-10 2-12 5-5 4 4 2 10-2 11-4 5zM454 260l-9 0-50-5-17-8-4-4 0-3 5-4 11-2 12 1 28 8 26-4 6 4 2 8-3 5-7 4zM416 374l-15 0-3-1-3-5 1-7-2-6 9-16 1-26-1-8 3-10 0-7 6-10 14-1 11 5 2 5-1 5 5 10-2 65-5 5-20 2zM322 373l-11 0-14-4-3-7-1-14 0-14 7-34 4-5 5 1 10-4 9 3 2 7 0 27 2 21 0 18-7 2-3 3zM355 405l-10-1-4-1-1-2 4-18 5-5 12 1 6 7-2 11-10 8zM460 468l-4 1-4-2-6-8-8-43-5-2-4-7-1-8 5-7 10-1 4 1 9 0 6 5 5 9 3 19 1 22-4 14-7 7zM376 411l-5 1-5-2-4-2-2-3 2-2 7-1 10 1 2 5-5 3zM341 420l-11-1-2-6 3-2 6-2 9 0 1 3-6 8zM356 473l-6-1-6-4-2-3 1-3 4-5 8-3 7 1 2 3 0 9-4 5-4 1z"/><path fill="#ffcfff" fill-rule="evenodd" d="M432 147l-27-1-7-5 1-5 6-4 0-5 1-3-2-5 1-4-1-3 1-4-2-5 2-4 0-5 6-5 0-7 32 0-4 25 1 17-1 12-3 9-4 2zM325 156l-6 0-6-2-12-10-6-13-2-9 0-14 3-11 2-2 3 3 8-6 5-6 4-2 10 2 4 10 1 47-2 7-6 6zM304 162l-6 0-4-3-1-4 4-5 4 0 13 8-10 4zM371 200l-11 0-4-2 0-3-9-4-5-15 0-5 2-3 8-1 20 8 8 7 1 4-4 4-4 2 1 5-3 3zM450 184l-4-1-6-9-1-4 2-3 13-1 5 4 0 3-9 11zM403 252l-9-1-8-3-6-4 0-4 6-3 11 0 12 4 8 6-2 3-12 2zM452 254l-6 0-5-2 4-3 6-1 3 3-2 3zM416 373l-17 0-3-3 0-5 1-4-2-5 9-17 1-26-1-8 4-10-1-6 5-9 14-2 10 5 2 5-1 4 3 5 3 8-2 58-2 5-3 2-20 3zM322 372l-11 0-13-4-3-6-1-14 1-23 6-20 9-8 9-4 8 2 3 7 0 27 2 21 0 16-2 3-8 3zM356 404l-11 0-4-1-1-3 4-16 4-5 12 0 6 6-1 11-9 8zM458 458l-5-1-3-6-7-37-8 0-5-6-1-8 4-8 11 0 4 5 5 0 4 2 4 6 3 13 2 24-3 11-5 5zM375 411l-9-1-5-3 0-2 8-3 10 2 1 4-5 3zM340 420l-9-1-2-3 0-3 2-2 6-2 9 0 1 2-1 3-6 6zM356 472l-6-1-7-6 1-3 4-5 7-2 7 1 2 5 0 5-4 5-4 1z"/><path fill="#ffc9ff" fill-rule="evenodd" d="M432 146l-27-1-6-4 1-4 6-5 0-4 1-4-2-5 1-4-1-4 2-3-3-5 2-4 0-4 6-6 0-7 30 0-3 25 1 17-1 11-3 9-4 2zM325 155l-6 0-5-1-12-11-5-9-3-15 3-15 7-7 6-4 5-6 3-2 10 3 4 11 0 43-2 7-5 6zM304 159l-5 0-2-3 2-2 3 0 3 3-1 2zM450 183l-3 0-7-9 0-4 1-2 12-2 5 4 0 3-8 10zM370 200l-9 0-4-2-1-4-8-4-5-14 1-7 8-1 19 8 8 6 1 2-1 3-9 5 4 4-4 4zM400 246l-9 0-4-4 4-2 7 1 4 3-2 2zM416 372l-17-1-2-4 1-6-2-5 9-16 1-27-1-8 4-10-1-6 5-9 13-1 9 5 1 9 3 4 3 8 1 11-2 45-3 7-2 1-20 3zM322 371l-11 0-12-3-3-6-1-14 0-14 6-25 8-11 6-3 5-1 6 2 4 6 2 48 0 14-5 6-5 1zM354 404l-11-1-3-6 4-12 5-6 11 1 6 6-2 10-10 8zM442 413l-7 0-4-5-1-8 3-7 11-1 4 7-1 10-5 4zM376 410l-10 0-4-2-1-2 2-2 6-1 9 1 2 3-4 3zM341 419l-10 0-2-5 3-3 14-1 1 1-1 3-5 5zM358 471l-7 0-7-5 0-4 5-4 5-3 7 2 3 8-6 6z"/><path fill="#ffc2ff" fill-rule="evenodd" d="M432 145l-26-1-7-4 2-3 6-5-1-4 2-4-3-5 2-4-1-4 2-3-4-5 3-4 0-4 6-6-1-7 29 0-2 52-4 9-3 2zM321 155l-7-2-11-10-5-10-3-14 0-5 7-15 8-5 5-7 4-1 9 3 4 14 0 31-2 14-5 6-4 1zM449 183l-8-9-1-4 5-3 9 0 4 5-9 11zM371 199l-10 0-4-2 0-4-9-3-2-4-3-11 2-6 6-1 20 9 8 5 0 4-3 3-9 3 6 3 0 2-2 2zM407 372l-6 0-3-2-1-5 2-4-3-5 10-16 1-27-2-8 5-10-2-5 5-9 13-1 9 4 0 9 4 4 2 8 1 36-2 20-2 6-3 2-28 3zM323 370l-12 0-10-2-3-2-2-8-1-24 6-24 8-11 10-4 7 2 4 7 2 59-5 6-4 1zM350 404l-8-2-1-5 1-6 6-11 12 1 5 5-1 9-8 7-6 2zM438 413l-3 0-3-4-2-9 4-6 10-1 4 7-1 8-4 4-5 1zM375 410l-9 0-4-4 8-3 8 2 1 2-4 3zM340 419l-9-1-1-4 2-3 14-1 1 1-1 3-6 5zM355 471l-3 0-6-4-2-4 5-5 5-2 7 1 2 8-4 5-4 1z"/><path fill="#ffbfff" fill-rule="evenodd" d="M433 144l-27-1-6-3 1-3 7-5-1-4 2-4-3-5 2-4-1-4 2-3-4-5 3-4 0-4 4-3 2-3-1-7 27 0-2 52-5 10zM322 154l-8-2-11-10-4-9-3-14 0-5 7-14 7-5 6-7 3-1 8 2 5 16 0 24-3 19-4 5-3 1zM450 182l-3-1-5-7 0-5 11-2 5 4-8 11zM370 199l-9 0-3-2 0-4-9-3-3-5-2-10 1-5 6-1 20 8 7 6 1 2-4 4-13 3 9 1 2 4-3 2zM408 371l-9-1-1-5 2-4-3-5 10-16 1-27-2-8 4-10-1-5 3-3 1-5 13-2 8 4 1 9 3 5 2 8 1 35-2 20-2 6-2 1-27 3zM324 369l-13 0-10-2-2-1-2-8-1-24 6-24 8-10 9-4 7 2 3 6 1 5 1 54-4 5-3 1zM353 403l-6 0-4-2-2-7 3-7 5-6 10 0 6 5-1 9-11 8zM441 412l-6 0-4-5 0-7 3-6 10 0 4 6-1 8-6 4zM375 409l-9 1-4-4 8-2 8 1 1 2-4 2zM340 418l-9 0-1-4 3-3 4-1 9 0 1 2-1 2-6 4zM358 470l-7-1-6-3 0-3 4-4 6-3 6 2 2 7-5 5z"/><path fill="#ffbaff" fill-rule="evenodd" d="M433 144l-27-1-6-3 1-3 7-5-1-4 2-4-3-5 2-4-1-4 2-3-4-5 3-4 0-4 4-3 2-3-1-7 27 0-2 52-5 10zM322 154l-8-2-11-10-4-9-3-14 0-5 7-14 7-5 6-7 3-1 8 2 5 16 0 24-3 19-4 5-3 1zM450 182l-3-1-5-7 0-5 11-2 5 4-8 11zM370 199l-9 0-3-2 0-4-9-3-3-5-2-10 1-5 6-1 20 8 7 6 1 2-4 4-13 3 9 1 2 4-3 2zM408 371l-9-1-1-5 2-4-3-5 10-16 1-27-2-8 4-10-1-5 3-3 1-5 13-2 8 4 1 9 3 5 2 8 1 35-2 20-2 6-2 1-27 3zM324 369l-13 0-10-2-2-1-2-8-1-24 6-24 8-10 9-4 7 2 3 6 1 5 1 54-4 5-3 1zM353 403l-6 0-4-2-2-7 3-7 5-6 10 0 6 5-1 9-11 8zM441 412l-6 0-4-5 0-7 3-6 10 0 4 6-1 8-6 4zM375 409l-9 1-4-4 8-2 8 1 1 2-4 2zM340 418l-9 0-1-4 3-3 4-1 9 0 1 2-1 2-6 4zM358 470l-7-1-6-3 0-3 4-4 6-3 6 2 2 7-5 5z"/><path fill="#ffafff" fill-rule="evenodd" d="M433 143l-23 0-9-3 9-7-2-5 2-5-3-4 3-4-2-4 2-3-4-5 4-4-2-3 5-4 2-3-1-7 25 0-1 47-5 14zM322 153l-7-2-11-9-4-9-3-14 0-5 6-13 8-6 5-6 3-1 7 2 5 15 0 8-3 35-6 5zM449 182l-7-9 0-4 11-1 4 3-8 11zM358 192l-7-2-3-4-3-11 1-5 5 0 13 7 6 1 8 6-4 4-16 4zM370 198l-9 0-3-1 0-3 2-2 10 1 2 3-2 2zM408 370l-8-1-1-4 2-5-3-4 10-16 1-28-2-6 5-11-2-5 3-3 1-4 12-1 7 3 1 9 3 4 2 8 1 35-2 20-2 5-2 1-26 3zM323 368l-11 0-12-2-2-5-1-13 0-14 6-24 7-9 6-4 4 0 5 1 3 6 3 32-1 27-4 4-3 1zM353 402l-5 1-5-2-1-8 7-12 10 1 5 4-1 9-10 7zM441 411l-5 1-3-4-2-7 3-6 9-1 3 5 0 9-5 3zM375 409l-9 0-3-3 7-2 8 2-3 3zM339 418l-7-1-1-3 7-4 8 1-3 5-4 2zM358 469l-5 1-8-6 4-4 6-3 5 1 2 6-4 5z"/><path fill="#ffa6ff" fill-rule="evenodd" d="M432 142l-22 0-5-1-3-2 8-5-1-6 2-5-3-4 2-3-1-5 2-4-4-4 3-3-1-4 5-3 2-4 0-8 23 1-2 25 1 17-1 9-5 9zM321 152l-6-2-11-9-4-9-2-13 0-5 6-13 7-4 5-7 3-1 6 1 1 3 5 20-4 34-3 4-3 1zM449 181l-3-6-3-2-1-2 2-2 9 0 2 2-6 10zM358 191l-7-2-3-3-3-11 2-4 3-1 5 2 8 5 7 2 7 5-5 4-14 3zM369 198l-7 0-3-2 0-2 11 0 1 3-2 1zM407 369l-5 0-2-1 2-8-3-4 10-16-1-8 2-6-2-5 0-17 4-8-1-6 3-2 0-4 11-2 8 4 0 8 4 5 2 7 1 35-2 19-3 6-28 3zM323 367l-11 0-11-2-3-7 0-26 5-21 8-10 5-3 4 0 4 1 4 6 2 20 0 37-4 4-3 1zM350 402l-6-2 0-9 5-9 10 0 4 5-1 7-5 5-7 3zM438 411l-3 0-2-5 0-7 2-4 8 0 3 6-1 6-2 3-5 1zM375 408l-9 0-2-1 6-2 7 1-2 2zM340 417l-8 0 0-3 6-4 7 1-1 3-4 3zM355 469l-3 0-6-5 8-6 6 1 1 5-3 4-3 1z"/><path fill="#ff9dff" fill-rule="evenodd" d="M432 142l-22 0-5-1-2-2 7-5-1-6 3-5-4-4 3-3-2-5 3-4-4-4 3-3-1-4 4-3 2-4 0-8 22 1-2 25 1 17-1 9-3 4-1 5zM324 151l-4 1-5-2-10-9-6-17-1-9 4-9 4-6 6-3 5-7 2-1 4 1 3 3 4 20-2 29-1 5-3 4zM449 178l-5-7 10 0-5 7zM360 190l-4 0-5-2-3-4-2-9 1-4 3 0 5 2 8 4 7 2 6 5-4 3-12 3zM369 196l-6 0-2-1 8 1zM407 369l-5 0-1-1 2-8-4-4 10-16-1-8 2-6-1-5 0-17 3-8-1-5 3-3 1-4 10-2 7 4 1 8 3 5 2 7 1 35-2 19-2 6-28 3zM323 367l-11 0-11-2-2-7-1-23 6-24 7-10 5-2 4-1 4 1 3 6 2 20 0 37-3 4-3 1zM352 401l-4 0-4-1-1-5 1-4 5-8 10 0 3 4 0 7-10 7zM440 410l-4 0-3-4 0-5 2-5 7 0 3 4-1 7-4 3zM374 407l-8 0 8 0zM340 416l-6 1-2-2 5-3 7 0-4 4zM357 468l-4 0-6-4 8-5 4 1 1 4-3 4z"/><path fill="#ff95ff" fill-rule="evenodd" d="M431 142l-21-1-5-1-2-1 8-6-1-5 2-5-3-4 2-3-1-5 2-4-4-4 3-3-1-4 5-3 2-4-1-7 22 0-2 51-5 9zM321 151l-5-1-10-9-5-9-2-14 2-10 4-7 7-4 7-7 5 1 1 2 4 10 1 10-1 15-3 19-5 4zM357 190l-5-2-2-2-3-13 3-1 19 8 6 5-7 3-11 2zM414 368l-12 0-1-2 2-6-3-4 10-16-1-8 2-6-2-5 1-9-1-6 4-11-1-5 3-2 0-4 10-1 7 3 0 8 4 5 2 7 1 11-1 36-4 13-20 2zM320 367l-8 0-10-3-3-7 0-16 1-15 4-15 7-9 9-4 4 2 3 5 3 35-1 22-4 4-5 1zM349 400l-4-2 0-3 2-6 4-5 7 0 2 3 0 7-7 5-4 1zM441 407l-3 1-2-2-1-4 2-4 4 0 2 3-2 6zM354 467l-5-3 8-3 1 3-4 3z"/><path fill="#ff8cff" fill-rule="evenodd" d="M431 141l-15 1-9-1-3-2 7-5-1-6 3-5-4-4 3-3-2-5 3-4-4-4 3-3-1-3 6-7-1-8 21 0-1 46-1 5-4 8zM323 150l-7-1-10-8-4-9-3-14 2-8 4-8 15-12 3 1 2 3 4 12 1 8-2 24-2 9-3 3zM357 188l-4-1-2-3-2-10 20 8 3 3-15 3zM414 368l-12 0-1-2 3-6-4-4 10-15-1-9 2-6-2-6 2-8-2-6 5-11-2-4 3-3 0-3 10-2 6 3 1 9 3 4 2 8 1 33-1 16-3 9-20 3zM322 366l-10 0-10-2-3-17 0-12 6-24 6-8 9-4 3 2 3 4 3 32-1 25-3 3-3 1zM351 397l-3 0 1-6 3-4 5 0 1 2-1 4-6 4z"/><path fill="#ff80ff" fill-rule="evenodd" d="M430 141l-19-1-5-1 6-5-1-6 3-5-4-4 3-3-2-5 3-4-4-4 3-3-2-3 7-7-1-8 20 0-2 46-1 5-4 8zM322 149l-7-2-8-7-4-7-3-15 1-7 5-9 14-11 4 3 4 12 1 8-2 24-2 8-3 3zM362 185l-8 0-2-7 15 6-5 1zM414 367l-11 1-1-2 2-6-3-4 9-15 0-8 2-7-2-6 1-8-1-6 4-11-1-4 2-2 1-4 9-1 6 3 0 8 4 4 2 8 0 45-3 13-20 2zM319 366l-9-1-8-2-2-6-1-21 7-25 5-7 9-4 3 1 2 4 3 10 1 34-1 13-3 3-6 1z"/><path fill="#ff6fff" fill-rule="evenodd" d="M429 139l-19-1 4-3-1-6 2-5-2-5 1-3-1-4 2-5-3-4 7-13 0-8 16 0-2 50-4 7zM322 146l-2 1-3-2-9-6-4-8-3-14 6-14 13-9 2 1 4 9 3 11-1 13-6 18zM406 366l-2 0 2-6-3-4 9-15-1-8 2-6-1-7 1-8-2-6 5-11-1-3 2-5 8-1 4 2 1 7 3 5 2 7 1 33-2 19-2 4-26 3zM321 364l-8 0-9-2-3-20 1-15 5-15 6-7 7-3 4 3 3 11 2 23-3 22-2 2-3 1z"/><path fill="#ff5eff" fill-rule="evenodd" d="M427 137l-11-1 0-7 2-5-2-5 1-3-1-4 2-5-2-4 6-12-1-9 11 0-1 45-4 10zM320 143l-5-2-6-6-5-10-1-8 6-12 11-8 6 10 2 9-1 11-7 16zM414 363l-6 0 0-4-2-3 8-15 0-8 1-6-1-7 1-8-1-6 4-10 0-4 2-4 4 0 3 2 1 6 3 5 2 7 1 32-2 15-1 6-17 2zM321 362l-7 0-8-2-4-18 2-15 5-14 5-7 5-2 3 2 4 10 2 23-1 15-2 6-4 2z"/><path fill="#ff4dff" fill-rule="evenodd" d="M425 133l-5 0 1-9-1-6 1-11-1-5 5-10 0-10 4 0-1 44-3 7zM318 139l-5-3-4-6-3-8-1-5 5-10 9-5 4 5 3 9-1 11-7 12zM414 360l-3 0-1-5 7-13 1-30-1-6 4-9 0-5 3-1 1 7 3 5 2 10 1 27-2 18-15 2zM319 360l-11-2-4-17 2-13 4-12 4-6 4-3 7 9 3 24-2 12-4 7-3 1z"/><path fill="#ff3cff" fill-rule="evenodd" d="M316 134l-6-8-2-8 3-8 7-4 4 3 3 6 0 8-4 8-5 3zM419 356l-4 0-1-1 7-13 1-30-1-6 2-5 2 4 2 9 0 30-2 11-6 1zM319 357l-9-2-4-14 2-13 5-13 4-4 4 2 3 5 3 22-1 9-7 8z"/><path fill="#f432f4" fill-rule="evenodd" d="M319 129l-4-1-4-7 1-8 4-3 4 1 4 5-1 8-4 5zM318 354l-6-1-3-12 1-12 5-11 3-3 5 4 3 21-1 9-4 4-3 1z"/><path fill="#e32de3" fill-rule="evenodd" d="M319 126l-6-6 1-5 3-2 3 0 2 4 0 6-3 3zM320 351l-6-1-3-9 1-11 7-13 3 2 3 21-1 8-4 3z"/><path fill="#d827d8" fill-rule="evenodd" d="M320 350l-5-1-3-9 1-9 6-12 2 1 3 20-1 8-3 2z"/><path fill="#cd21cd" fill-rule="evenodd" d="M319 348l-4-3-1-6 1-7 4-7 3 15-1 6-2 2z"/><path fill="#f5fff5" fill-rule="evenodd" d="M417 218l6-2 5-5 10-22-3-17 1-10 5 2 11 0 2-1 2-6 15-3 12-6 0-46-1-11-8-9-27-1-6 11-1 6-1 53-1 5-3 2-2-4-6-4-23-2-22-6 0-3-5-5-1-11-3-9 4-16 1-17-49 0 3 13 0 47 4 12 19 5 14 1 4-2 16 3-3 11 5 9 0 8-5 10 14 15 8 4 9 1zM413 479l8-14 1-17-5-16-11-11 11-2 4-6 5-11-1-16-18-5-10 0-23-5 4-6 1-4 1-18-4-23 3-6 0-11-7-21 1-14-4-6-7-4-2-7-10-11-2-5 1-5 3-5 18-15 6-8-4 0-12-3-11-9-4-4-2-12-7-13-20 3-3 1-4 4-20 9 0 79 0 2 16 0 17 7-3 9 8 13 3 9 3 66-8 2-3 3-1 5-24 1-8-1 0 97 2 4 38 0 4-17 3-33-9-8-2-7 6-4 15-1 1 3-10 18 3 6 2-2 10 1 6 3 2 3 0 4 6 7-1 26 12 1 36 0zM473 385l10-5 1-65-1-17-2-9-4-7-6-3-7 4-13-1-5 8-4 22 0 63 11 6 10 3 10 1zM379 417l-9-6-8-3-3-4-5 2-2-2-7 0-7-2 5-14 0-12 22-1 4 2-1 7 3 8 4 3 9 0-1 2 5 18-9 2z"/><path fill="#efffef" fill-rule="evenodd" d="M420 213l6-4 4-6 7-20-2-21-4-3 3-3-1-2-10-5-19-1-15-4-12-1 0-15-4-16 4-14 0-16-48-1 4 13 0 47 3 12 19 5 5 0 8-4 29 6-5 5-2 6 4 10-1 9 3 9 5 8 6 4 7 3 6-1zM452 164l2-1 2-6 12-2 6-3 6-9 3-11 0-26-1-5-8-12-7-7-20-1-5 11-2 15 0 17-3 38 4 2 11 0zM402 479l10-7 6-13 0-14-6-13-8-7-11-3-13 1-9 5-1-1 6-6 0-5-14-8-3-4-5 2-2-2-7 0-7-2 5-14 0-12 23 0 5-4 6-9 3-7 0-10-4-21 3-6 0-11-2-6-9-14 1-8-1-6-5-5-10-5 2-3 1-4-9-12-2-5 2-9 15-17 4-8-6-2-14-11-3-14-7-12-14 1-9 7-10 6-9 11-1 7 1 14-5 9 0 35 0 1 2 1 15 3 17 5 9 2-5 5-5 10 6 9 2 9 3 66-8 2-2 3-2 5-23 2-5 2-4 4 0 63 6 15 7 8 8 3 8-2 5-5 4-7 4-19 2-16-6-5-2-7 6-4 15-1 1 3-7 14 0 3 2 5 10 1 7 3 3-1 1 7 3 8-1 23 17 4 20 0zM472 384l11-9 1-47-1-21-3-3-4-15-5-5-3 1-3 3-13-1-5 1-1 2-3 22 0 4-1 44 0 15 11 6 10 3 9 0zM417 416l4-3 5-11-1-12-2-2-10-2-2-3-4-1-37-4-2 1 1 10 3 4 20-1-5 5-1 5 1 6 4 4 12 4 14 0zM368 430l-1-1 4-1-3 2z"/><path fill="#e9ffe9" fill-rule="evenodd" d="M417 210l6-3 5-5 4-8 1-9 4-7-3-12-6-6 3-7-8-4-19-1-12-3-19 0 2-6-2-6 3-7-4-14 3-5 2-9-3-16-45-1 4 13 0 47 3 12 17 4 13-5 35 6 0 4-6 3-3 6 1 5 5 5 1 14 7 11 5 3 6 1zM452 164l2-1 2-6 11-3 5-4 6-8 5-16 0-8-4-17-7-11-10-8-15-1-5 11-1 6 0 26-2 17 0 11 2 2-2 7 2 3 11 0zM338 265l8-3 4-3 0-5-8-11-1-6 4-10 14-22-6-8-7-4-3-14-6-10-10-1-18 13-7 8-2 9 2 17-11 17-1 14 3 7 7 4 23 8 15 0zM313 462l8-7 5-11 3-20-4-8 2-4 10-3 9 0 2 3-5 8-2 9 3 5 13 3 6-4 2-5 8-6 2-4-2-4-11-6-3-4-5 2-2-2-7 0-7-2 5-14-1-13 19 0 5-3 8-9 5-11-5-28 5-6 0-8-15-22 3-7-2-6-3-4-10-4-12 1-7 4-4 4-5 10 7 16 2 66-8 2-2 3-2 6-9 1-13 6-2 4-5 17-1 21 5 20 8 12 5 2 4 0zM466 383l8-4 9-9 0-57-11-22-2 0-4 2-5-2-10-1-5 2-2 7-2 76 11 6 10 2 3 0zM374 391l25-3 5-3-7-2-29-4 1 10 2 2 3 0zM417 414l5-3 4-9-1-8-4-5-15-1-11 4-6 6-1 7 5 6 11 3 13 0zM385 475l12-1 7-2 6-5 5-8 1-10-3-9-5-7-8-5-10-1-13 2-9 2-4 5 0 8 4 4-3 10 0 14 9 3 11 0z"/><path fill="#e2ffe2" fill-rule="evenodd" d="M419 206l5-3 4-5 3-13 5-9-3-10-6-4-1-7 2-3-5-2-19-2-9-2-21 1-6 1 4-7-1-8 3-6-2-9-3-6 4-5 2-8-3-17-43 0 4 12 0 47 3 10 7 3 9 1 9-3 6-4 6 4 29 4 1 7-8 4-1 7 6 7 1 11 5 11 6 3 7 0zM452 164l2-3 0-6 13-3 8-10 7-20-5-19-6-11-11-9-12-1-6 10-1 6-2 51 5 5-4 3 1 7 11 0zM336 262l7-3 2-3-8-14 1-10 4-13 12-19-8-7-3-14-5-8-10-1-9 5-11 15-2 9 4 17-11 15-2 10 4 10 8 6 14 5 13 0zM313 449l5-5 3-8 2-11 0-15 3 2 5-2 15-1 2 3-5 8-1 8 4 6 7 2 7-2 3-3 1-5 6-4 3-4 0-4-11-6-3-3-5 1-2-2-7 0-7-2 5-14 0-8-3-3 1-3 15-1 9-2 7-9 5-11-5-28 4-5 1-7-15-23 3-7-2-5-11-7-11 1-5 2-5 4-5 9 0 6 3 4 2 7 2 66-8 2-2 3-1 3 2 3-3 3-8 2-5 4-10 23-1 14 3 14 6 9 4 1 3 0zM465 381l11-6 7-10 0-48-11-18-10-6-10-2-5 3-3 5-2 73 11 8 12 1zM381 388l4-2 1-1-18-3 1 7 12-1zM412 413l8-3 6-8 0-4-5-7-14-2-11 4-5 5-2 6 4 6 11 3 8 0zM322 409l-3-12 5 5-2 7zM381 474l6-2 5-3 10-2 8-7 2-7-1-8-3-6-6-5-24-4-9 2-3 3 0 9 6 4 0 4-5 2-2 4 0 12 8 4 8 0z"/><path fill="#dcffdc" fill-rule="evenodd" d="M355 153l9-4 7-9-2-8 2-3 1-4-1-7-4-6 5-6 1-7-2-17-41 0 3 12 1 53 2 2 8 4 11 0zM459 153l8-3 7-9 6-19-4-19-7-10-9-8-10-3-5 4-4 12-2 48 7 6 13 1zM414 205l9-5 4-6 2-9 6-10-3-8-7-4 1-5-5-4 2-2-1-2-19-2-17 2 19 5-2 5 2 4-8 3-2 6 8 9 3 20 5 3 3 0zM452 164l2-3-2-6-7-1-4 3 0 4 2 3 9 0zM333 259l5-2 1-3-7-13 0-13-2-10 14-12 4-10-3-5 0-6-2-6-4-6-11-2-10 8-6 16 2 8 8 14-15 13-2 9 2 10 6 6 10 4 10 0zM357 435l6-5-1-4 9-6 1-6-4-4-6-2-3-3-5 1-2-2-7 0-7-2 5-15 0-6-5-3 2-7 21 0 5-3 5-7 4-11-5-27 5-5 1-5-15-24 2-8-1-4-4-4-9-3-8 1-6 4-8 12 0 5 4 10 2 66-8 2-2 3 0 3 3 3-6 7-1 7 7 9-3 4 2 5 3 1 9-3 9 0 2 2-5 9 2 3-1 6 3 5 10 1zM463 380l8-3 4-3 5-5 3-7 0-41-6-11-8-10-7-5-10-2-8 6-2 69 3 5 7 5 11 2zM411 412l8-2 5-7 1-4-5-8-13-1-11 4-5 5-1 5 4 5 10 3 7 0zM312 431l2-5 1-7-2-6-3-2-4 5-1 8 3 6 4 1zM380 473l7-2 4-3 2-4 10-4 3-4 1-6-2-6-4-5-6-2-6 0-3-5-8-1-9 2-3 3 1 8 2 2 9 1 0 7-8-1-4 3-1 13 4 3 11 1z"/><path fill="#d6ffd6" fill-rule="evenodd" d="M353 152l10-4 7-8-3-8 3-3 1-4-1-6-4-7 4-6 2-7-3-17-37 0 2 64 10 6 9 0zM458 152l8-3 7-8 6-19-4-18-6-10-9-8-10-3-6 5-2 4-2 15 1 17-2 20 7 7 12 1zM415 204l9-9 3-10 4-4 2-7-3-8-7-2 2-3-1-5-17-1-3 3 0 4 3 2 6 0-14 3-3 5 10 11 2 11-2 4 1 4 5 2 3 0zM452 163l1-4-2-4-6 0-3 2-1 4 2 2 9 0zM334 210l9-7 3-6-1-12-2-6-4-5-11-2-9 7-2 8 5 14 8 8 4 1zM329 254l1-3-7-9-1-7-4-2-3 5 2 12 5 4 7 0zM336 402l3-3 4-11-1-6-7-4 4-3-1-5 17 0 8-1 7-9 4-9-5-28 5-6 0-5-15-23 3-7-1-4-10-7-10 2-5 3-7 12 0 9 2 5 2 65 1 1-9 2-2 3 2 4 8 2-6 0-4 4-3 4 0 6 8 9 8 0zM465 378l6-3 6-5 6-10 0-35-6-13-9-11-7-5-9-2-8 8-2 63 3 6 7 6 7 1 6 0zM411 411l7-2 6-7 0-3-5-7-12-1-10 3-5 6-1 4 4 4 9 3 7 0zM358 434l4-4-1-5 5-2 5-4-1-7-11-6-5 1-2-2-12-2-15 1-1 5 3 2 10-2 10 1 1 2-4 6 2 5-2 4 2 5 5 2 7 0zM380 445l4-2 2-2 1-5-1-3-8-1-10 3 0 9 6 2 6-1zM397 456l3-4-1-5-5-3-6 2-2 4 1 4 5 2 5 0zM380 472l9-3 2-3-1-4-11-7-10 0-4 4 0 9 4 3 11 1z"/><path fill="#cfffcf" fill-rule="evenodd" d="M353 151l9-4 6-7 0-4-2-4 3-4 1-3-2-6-3-7 4-7 2-6-3-17-35 0 0 59 3 5 7 4 10 1zM458 151l8-3 6-8 6-18-5-18-5-9-9-8-9-3-8 8-2 15 1 17-2 18 7 7 12 2zM423 163l2-4-2-3-16 0-2 2 0 3 2 2 16 0zM451 163l1-3-1-4-8 1 0 5 8 1zM415 203l4-3-1-5 4-3 2-7 6-4 2-5-2-7-3-4-8-1-11 1-8 2-2 3 0 4 11 10 1 6 3 4-5 2-1 5 5 2 3 0zM334 209l9-7 2-5 0-12-2-6-5-4-10-2-9 7-1 7 7 16 6 5 3 1zM360 369l9-9 3-8-5-30 5-5 1-4-15-24 3-8-1-3-9-6-9 1-8 6-4 9 3 77 12 4 15 0zM465 377l5-2 7-6 4-9 2-9 0-23-5-11-9-13-8-7-9-2-7 7-2 10-1 50 3 8 7 6 7 1 6 0zM337 377l2-3-3-6-12 4 0 3 2 2 11 0zM337 401l3-5 3-12-5-5-11 1-6 7 0 7 7 7 9 0zM412 410l6-2 5-6 0-3-5-7-11 0-10 3-5 6 1 4 4 3 7 2 8 0zM358 433l4-4-3-4 6-2 5-5-1-6-9-5-7 0-1-2-24-2-3 2 0 4 2 1 19-1 2 3-4 6 3 5-2 3 1 6 5 1 7 0zM378 445l7-3 2-5-1-3-8-2-10 4 0 8 10 1zM381 471l5-1 3-2 1-3-1-3-10-6-10 0-4 4 1 8 8 3 7 0z"/><path fill="#c9ffc9" fill-rule="evenodd" d="M353 150l9-4 6-7-4-7 4-4 1-3-2-6-3-7 4-7 2-7-3-16-33 0-1 56 5 9 7 3 8 0zM458 150l7-3 6-8 6-17-5-18-5-9-8-7-8-3-9 7-2 15 1 17-2 14 1 5 5 5 8 2 5 0zM424 162l0-4-2-2-15 0-2 3 2 3 17 0zM451 162l-1-5-5-1-2 2 1 4 7 0zM418 190l2-5 9-4 2-5 0-3-3-6-10-2-19 4-1 2 1 3 6 6 8 5 2 4 3 1zM335 208l7-6 2-5 0-6 1-6-2-5-5-5-10-1-8 6 0 9 6 14 5 4 4 1zM414 203l4-3 0-2-3-3-6 0-1 6 6 2zM360 368l8-9 4-8-6-29 5-5 1-4-16-24 4-8-1-3-8-5-9 1-7 5-4 9 0 41 2 35 8 4 19 0zM465 376l5-2 6-6 4-8 3-19-1-13-4-10-9-13-8-7-9-2-6 6-3 11-1 47 4 9 5 5 7 2 7 0zM334 377l3-1 1-2-2-5-12 3 2 5 8 0zM337 400l3-4 3-11-5-5-11 1-5 6 0 7 6 6 9 0zM416 409l7-8-5-8-11-1-9 4-5 5 1 4 3 3 7 1 12 0zM357 433l4-4-4-4 8-3 5-4-2-7-8-4-7 1-1-3-26 0-1 3 2 2 20 0 1 2-4 6 5 5-4 3 2 5 4 2 6 0zM379 444l6-3 1-5-1-2-7-1-9 3 0 7 10 1zM384 470l6-5-4-5-7-4-7-1-6 5-1 4 4 5 6 1 9 0z"/><path fill="#c2ffc2" fill-rule="evenodd" d="M354 149l7-3 6-7-4-7 5-6-1-7-4-7 5-7 1-7-3-16-32 0-1 55 5 9 7 3 9 0zM458 149l6-2 7-8 5-17-4-17-5-9-8-7-8-3-8 7-2 5-1 40 1 5 5 4 7 2 5 0zM423 162l1-3-2-2-15 0-1 2 1 3 16 0zM450 162l1-3-1-2-7 1 1 4 6 0zM421 184l7-3 3-6-4-8-14-1-14 4 0 3 10 8 6 3 6 0zM335 207l7-6 2-4-1-6 2-6-3-6-5-3-9-1-8 6 0 8 7 13 5 5 3 0zM415 202l3-3-2-3-6-1-2 2 1 4 3 1 3 0zM355 368l8-3 8-14-5-29 5-6 0-3-16-24 4-10-10-5-7 1-5 3-6 10 1 61 1 13 2 3 6 2 14 1zM462 376l7-3 4-3 7-10 1-10 0-18-3-12-7-12-10-9-8-2-6 5-3 11-1 46 5 11 7 5 7 1zM336 376l2-2-2-4-11 2 1 4 10 0zM336 400l4-5 3-9-5-5-10 0-6 6 0 7 6 6 8 0zM411 409l6-1 5-7-4-7-11-1-9 3-5 5 1 3 3 3 14 2zM358 432l3-4-6-4 8-2 5-3 1-2-1-6-7-3-9 1-1-4-25 0 1 4 19 0 2 3-3 6 3 4 4 2-6 1 1 6 4 1 7 0zM377 444l7-3 1-6-7-2-9 3 0 7 8 1zM380 470l7-2 2-2 0-3-10-6-9-1-4 6 1 5 7 3 6 0z"/><path fill="#bfffbf" fill-rule="evenodd" d="M355 148l6-3 5-6-4-7 5-6-1-6-4-8 5-8 1-6-2-16-31 0-2 33 1 22 5 8 6 3 10 0zM459 148l5-2 6-7 5-17-4-17-5-9-8-7-7-2-8 7-2 6 0 38 1 4 4 5 7 1 6 0zM423 161l-1-4-14 0-2 2 1 2 16 0zM451 161l-1-4-5 0-2 2 2 3 6-1zM422 183l5-3 3-5-3-8-8-1-10 1-10 4 7 7 5 4 11 1zM335 206l6-5 2-5-1-5 2-6-3-5-4-4-9-1-7 6 0 8 6 13 5 4 3 0zM414 202l4-3-2-3-7 1 0 4 5 1zM356 367l6-2 8-14-5-30 5-5 1-3-17-24 4-10-9-4-7 1-4 3-6 9-1 29 1 32 3 15 6 2 15 1zM463 375l9-5 7-11 2-19-1-12-4-10-8-12-8-7-7-1-6 5-2 10-2 18 1 28 3 9 5 4 4 2 7 1zM334 376l3-2-2-4-10 2 1 4 8 0zM336 399l4-5 3-7-6-6-9 0-5 6 0 7 5 5 8 0zM416 408l6-7-5-7-11 0-8 3-4 5 2 4 2 1 7 1 11 0zM359 423l5-2 4-3-1-7-6-3-9 1-2-4-24 1 1 3 22 1-4 6 3 5 6 2 5 0zM357 432l3-4-5-4-9 2 2 5 9 1zM379 443l5-2 1-6-7-1-9 3 1 6 9 0zM384 469l4-3 1-2-10-6-8-2-5 6 3 6 6 1 9 0z"/><path fill="#baffba" fill-rule="evenodd" d="M355 148l6-3 5-6-4-7 5-6-1-6-4-8 5-8 1-6-2-16-31 0-2 33 1 22 5 8 6 3 10 0zM459 148l5-2 6-7 5-17-4-17-5-9-8-7-7-2-8 7-2 6 0 38 1 4 4 5 7 1 6 0zM423 161l-1-4-14 0-2 2 1 2 16 0zM451 161l-1-4-5 0-2 2 2 3 6-1zM422 183l5-3 3-5-3-8-8-1-10 1-10 4 7 7 5 4 11 1zM335 206l6-5 2-5-1-5 2-6-3-5-4-4-9-1-7 6 0 8 6 13 5 4 3 0zM414 202l4-3-2-3-7 1 0 4 5 1zM356 367l6-2 8-14-5-30 5-5 1-3-17-24 4-10-9-4-7 1-4 3-6 9-1 29 1 32 3 15 6 2 15 1zM463 375l9-5 7-11 2-19-1-12-4-10-8-12-8-7-7-1-6 5-2 10-2 18 1 28 3 9 5 4 4 2 7 1zM334 376l3-2-2-4-10 2 1 4 8 0zM336 399l4-5 3-7-6-6-9 0-5 6 0 7 5 5 8 0zM416 408l6-7-5-7-11 0-8 3-4 5 2 4 2 1 7 1 11 0zM359 423l5-2 4-3-1-7-6-3-9 1-2-4-24 1 1 3 22 1-4 6 3 5 6 2 5 0zM357 432l3-4-5-4-9 2 2 5 9 1zM379 443l5-2 1-6-7-1-9 3 1 6 9 0zM384 469l4-3 1-2-10-6-8-2-5 6 3 6 6 1 9 0z"/><path fill="#afffaf" fill-rule="evenodd" d="M354 147l6-3 5-5-4-7 5-6 0-3-6-11 6-8 1-6-2-16-29 0-2 33 1 21 4 8 6 3 9 0zM458 147l6-2 5-7 5-16-4-17-5-8-7-7-7-2-7 6-2 8 0 36 1 4 3 4 7 1 5 0zM422 161l0-3-15 1 1 2 14 0zM450 161l0-3-6 1 1 2 5 0zM422 182l4-2 3-5-3-7-17 0-9 3 6 7 6 3 10 1zM333 206l7-6 2-4-1-5 2-6-2-4-5-4-8-1-6 5-1 5 7 16 5 4zM414 201l3-2-2-2-5 0 0 3 4 1zM355 366l7-2 7-13-6-30 7-7-17-25 4-9-7-4-7 1-5 3-5 8-2 40 4 35 6 2 14 1zM462 374l10-5 6-10 2-19-1-12-4-9-8-13-8-6-6-1-5 5-2 9-2 18 1 28 4 10 7 4 6 1zM336 375l-1-5-9 2 1 3 9 0zM336 398l4-4 2-7-5-5-9 0-5 6 0 5 6 6 7-1zM416 407l5-6-4-6-9-1-9 3-5 5 3 4 3 1 16 0zM350 409l0-4-22 0-1 2 0 1 6 1 17 0zM359 422l4-1 4-3 0-6-7-3-10 1-4 6 2 4 6 2 5 0zM357 431l2-3-5-4-7 2 2 5 8 0zM377 443l6-2 1-5-6-2-8 3 0 5 7 1zM384 468l3-2 1-2-10-6-7-1-4 5 3 6 14 0z"/><path fill="#a6ffa6" fill-rule="evenodd" d="M355 146l5-3 5-5-5-6 6-6-1-5-5-9 6-9 1-5-3-16-27 0-2 54 4 7 7 3 9 0zM459 146l4-2 6-7 1-8 3-5 0-5-3-13-5-7-8-8-6-2-7 6-2 8 0 34 1 4 4 4 6 1 6 0zM422 160l0-2-14 0-1 2 15 0zM449 160l0-2-4 1 0 1 4 0zM423 181l3-2 2-4-2-6-12-1-13 4 12 9 10 0zM334 205l5-5 2-4-1-5 2-6-7-8-6 0-7 5 0 6 6 13 6 4zM413 201l3-2-1-2-5 0 0 3 3 1zM356 365l5-2 7-13-5-29 6-7-17-25 4-9-6-3-4 0-8 4-4 8-2 28 1 31 2 13 2 1 9 3 10 0zM463 373l4-2 7-5 3-8 3-18-1-11-4-10-6-9-10-9-6-1-5 5-2 9-1 45 5 9 5 4 8 1zM333 375l3-1-1-3-9 2 1 2 6 0zM335 398l4-5 2-6-4-5-9 1-4 5 0 5 5 5 6 0zM411 407l5-1 3-4 0-3-2-4-9 0-9 3-4 4 2 3 3 1 11 1zM350 408l-1-2-22 1 1 1 6 0 16 0zM361 421l6-4-1-5-4-2-12 1-4 5 3 4 5 1 7 0zM356 431l2-3-3-3-8 2 2 3 7 1zM378 442l5-2 0-4-5-1-8 3 1 4 7 0zM379 468l8-3-12-7-4 0-3 3 0 2 2 4 9 1z"/><path fill="#9dff9d" fill-rule="evenodd" d="M354 146l6-3 4-5-5-6 6-6-1-5-5-9 6-9 1-5-3-16-26 0-1 54 3 7 7 3 8 0zM458 146l5-2 5-7 4-16-3-15-4-7-8-8-6-2-6 6-2 8 0 34 4 8 11 1zM421 181l5-2 2-4-2-5-7-2-17 4 11 8 8 1zM334 204l6-8 0-5 1-6-6-7-6-1-6 5 0 6 6 13 5 3zM355 365l6-2 7-13-6-29 6-7-17-25 4-6 0-3-5-3-4 1-7 3-5 8-2 28 0 21 4 24 6 2 13 1zM464 372l9-6 4-8 2-18-1-11-4-10-6-9-9-9-6-1-4 5-2 9-2 18 1 27 3 8 6 5 9 0zM332 374l3-1-5 0 2 1zM335 397l4-4 1-6-3-4-9 1-3 4 0 5 4 4 6 0zM414 406l5-5-3-5-8 0-9 3-3 3 2 2 5 2 11 0zM360 421l7-4-1-5-4-2-12 1-3 5 2 4 11 1zM377 441l5-3-5-1-6 2 1 2 5 0zM378 467l7-2-8-5-5-1-3 3 1 4 8 1z"/><path fill="#95ff95" fill-rule="evenodd" d="M351 146l8-3 4-5-4-6 5-6-1-5-5-9 6-9 1-6-2-15-25 0-2 33 0 21 4 7 6 3 5 0zM456 146l6-2 6-7 4-16-3-15-5-7-7-7-6-2-5 5-3 8 0 34 4 7 9 2zM420 180l5-2 1-3-1-4-10-1-10 3 8 6 7 1zM333 202l6-6-1-6 2-4-5-6-5-1-5 4-1 2 9 17zM356 364l4-1 7-12-5-30 6-7-17-25 3-8-7-3-8 4-4 7-3 28 1 21 4 24 5 2 14 0zM462 372l9-5 5-8 2-10 0-16-3-12-7-10-9-9-6-1-3 4-3 14-2 17 1 22 4 9 6 4 6 1zM334 396l5-8-3-4-7 1-3 4 0 3 4 4 4 0zM414 404l3-3-2-3-7 0-9 4 0 1 7 1 8 0zM357 421l5-1 4-3-1-4-5-2-9 1-3 5 2 2 7 2z"/><path fill="#8cff8c" fill-rule="evenodd" d="M352 145l7-3 3-3-4-8 5-5 0-2-5-13 6-8 1-6-3-15-24 0-2 34 1 19 4 7 5 3 6 0zM457 145l5-2 5-6 5-16-4-15-3-5-9-8-5-2-5 5-2 7 0 34 4 7 9 1zM419 178l5-2-1-3-8-1-6 2 5 3 5 1zM334 198l2-3-1-5 2-4-6-4-4 3 1 2 6 11zM358 363l5-6 3-7-5-29 6-7-17-25 3-8-6-2-7 3-4 8-3 27 1 26 3 18 10 3 11-1zM462 371l8-5 6-8 2-10 0-15-4-12-7-10-9-8-4-1-3 3-3 10-2 17 0 20 1 8 4 7 6 4 5 0zM333 394l3-5-1-2-5 0-2 3 2 3 3 1zM358 420l7-3 0-3-6-3-8 2-2 3 1 3 8 1z"/><path fill="#80ff80" fill-rule="evenodd" d="M352 144l6-3 3-3-4-7 5-7-5-13 6-9 1-5-3-15-21 0-3 34 1 19 4 7 5 2 5 0zM458 144l4-2 4-5 5-15-4-17-5-7-10-6-5 4-3 8 0 32 4 7 10 1zM350 363l8-1 7-12-4-29 6-7-18-24 0-3 3-5-4-1-7 2-4 7-4 27 0 20 5 23 12 3zM461 370l9-5 5-7 2-10 0-14-4-12-4-7-9-9-6-3-4 9-3 13 0 27 1 8 3 6 6 3 4 1zM358 419l4-1 2-3-7-3-5 1-2 3 1 2 7 1z"/><path fill="#6fff6f" fill-rule="evenodd" d="M352 141l5-3-3-7 5-7-5-13 6-10 1-5-3-14-15 0-3 35 1 17 3 6 4 1 4 0zM458 142l3-2 4-4 5-14-5-16-4-6-9-5-3 2-3 7-2 24 3 12 5 2 6 0zM354 360l4-2 5-8-3-29 4-7-6-11-12-13 0-5-1-1-6 6-4 17-1 11 0 25 6 16 7 2 7-1zM461 367l8-4 3-6 4-18-1-9-4-8-10-12-6-3-7 19-1 19 2 12 3 5 6 5 3 0z"/><path fill="#5eff5e" fill-rule="evenodd" d="M351 137l-1-8 5-6-5-8 0-5 7-14-2-14-8 0-3 46 2 8 2 1 3 0zM456 140l3-1 4-4 5-13-5-15-4-6-6-3-5 6-2 6-2 12 2 8 3 8 7 2zM350 358l6-2 3-7-1-27 4-9-9-13-10-9-8 21-1 8 2 7-1 15 6 15 9 1zM462 363l8-7 4-17-1-9-3-6-13-12-7 14-3 15 5 16 5 5 5 1z"/><path fill="#4dff4d" fill-rule="evenodd" d="M456 137l5-4 5-11-4-13-8-7-6 8-3 12 1 6 5 7 2 2 3 0zM347 355l6-2 3-4 0-11-2-8 5-17-4-7-10-9-9 15-1 9 3 6-3 10 1 6 3 7 5 5 3 0zM463 358l7-11 2-8-3-11-10-10-8 10-3 12 3 8 5 8 4 3 3-1z"/><path fill="#3cff3c" fill-rule="evenodd" d="M457 133l6-8 1-4-3-8-6-6-7 7-2 8 2 5 7 6 2 0zM348 350l3-1 2-9-3-11 6-16-2-4-8-7-6 5-3 6 0 8 5 7-6 5 0 9 6 7 6 1zM463 352l5-8 1-5-2-8-7-7-8 6-3 9 4 8 7 5 3 0z"/><path fill="#32f432" fill-rule="evenodd" d="M457 129l5-7-2-6-5-4-7 4-1 6 2 4 8 3zM345 325l6-4 2-8-7-6-7 4-1 7 3 5 4 2zM462 346l4-6-1-6-3-4-5-1-6 5 0 6 3 4 6 2 2 0zM344 346l5-7-2-5-3-3-6 2-1 2 0 7 4 3 3 1z"/><path fill="#2de32d" fill-rule="evenodd" d="M455 126l4-4-1-4-4-3-5 1 0 7 6 3zM344 322l5-3 1-5-5-4-5 4-1 6 5 2zM459 343l4-4-1-4-5-3-4 2-1 5 2 3 5 1zM342 344l2-4 0-4-1-2-4 0 0 8 3 2z"/></g><path fill="none" stroke="#000" stroke-width="1.85" stroke-linejoin="round" d="M430.9,142.5 415.4,142.5 414.9,142 409.9,142 409.4,141.5 405.9,141.5 402,139.1 404.4,137.2 407.4,135.7 410.5,133.1 410.5,131.6 409.5,130.1 409,127.6 412,123.1 408,119.1 408,118.6 411,115.1 408.5,111.1 412,107.1 407,103.1 411,99.1 409,96.1 411.4,94.2 412.9,93.7 414.5,92.1 416,89.1 415,81.6 438.3,81.6 437.8,98.6 437.3,99.1 437.3,106.1 436.8,106.6 436.8,119.6 437.3,120.1 437.3,123.6 436.8,124.1 436.3,133.1 433.3,136.6 432.8,141.6 430.9,142.5ZM321.4,152 317.9,151.5 313.9,149.5 304.5,140.6 300.5,132.1 299.5,126.6 299,126.1 299,124.1 298.5,123.6 298.5,119.1 298,118.6 298,114.1 299,112.6 300.5,107.6 302,104.6 303,103.6 304,101.1 305.9,99.2 310.9,96.7 313.5,94.1 316.5,89.6 318.4,88.7 321.4,88.7 321.9,89.2 323.4,89.2 325.3,90.1 325.3,91.1 326.3,92.6 326.3,93.6 327.3,95.6 327.3,97.1 328.8,100.6 329.3,104.1 329.8,104.6 329.8,112.1 330.3,112.6 330.3,117.6 329.8,118.1 329.8,128.6 329.3,129.1 328.8,138.6 328.3,139.1 328.3,141.6 327.8,142.1 327.3,147.1 323.4,151.5 321.9,151.5 321.4,152ZM448.9,180.9 446.6,178.1 446.1,175.1 442.6,172.6 442.6,171.6 442.1,171.1 442.4,169.8 443.4,169.8 445.4,168.8 452.9,168.8 456.2,171.1 451.2,176.1 448.9,180.9ZM357.9,191 355.4,191 352.4,189.5 351.4,189.5 348.5,186.1 347.5,184.1 347,179.1 346,176.6 346,175.1 345.5,174.6 345.5,172.1 346.4,170.7 350.4,170.2 352.9,171.7 353.9,171.7 363.4,177.2 364.9,177.2 366.9,178.2 369.9,178.7 377.3,184.1 373.4,187.5 372.4,187.5 368.9,189 367.4,189 366.9,189.5 363.9,189.5 363.4,190 358.4,190.5 357.9,191ZM369.4,197.8 361.4,197.8 358.7,196.1 358.7,193.6 359.4,192.9 365.9,192.9 366.4,193.4 369.9,193.9 371.6,195.6 371.6,196.1 369.4,197.8ZM407.4,369 401.4,369 400.5,368.1 400,364.6 403,360.1 399,356.1 399,355.6 402,352.1 405,345.6 409,340.1 408.5,339.1 408.5,335.6 408,335.1 408,331.1 410,326.1 409.5,323.6 409,323.1 409,321.6 408.5,321.1 408.5,318.6 409,318.1 409.5,312.6 410,312.1 408,307.1 408,305.1 408.5,304.6 409.5,300.6 413,294.1 411,290.1 414,287.6 414,283.6 414.4,283.2 418.4,283.2 418.9,282.7 422.9,282.7 423.4,282.2 425.4,282.2 426.9,283.2 430.9,284.2 432.3,285.1 432.8,287.6 433.3,288.1 433.3,289.1 432.8,289.6 432.8,294.1 436.3,298.1 437.3,303.1 437.8,303.6 437.8,305.1 438.3,305.6 438.8,314.6 439.3,315.1 439.3,318.6 438.8,319.1 438.8,336.6 439.3,337.1 439.3,341.1 438.8,341.6 438.8,347.1 438.3,347.6 438.3,352.6 437.8,353.1 437.3,360.1 435.3,365.6 433.9,366.5 427.9,367 427.4,367.5 421.4,367.5 420.9,368 414.9,368 414.4,368.5 407.9,368.5 407.4,369ZM320.4,367.5 311.4,367.5 310.9,367 308.4,367 307.9,366.5 303.9,366 303.4,365.5 300.9,365 299,360.6 299,358.1 298.5,357.6 298.5,348.1 298,347.6 298,334.1 298.5,333.6 299.5,325.1 300,324.6 301,319.6 301.5,319.1 301.5,317.6 302.5,315.6 302.5,314.1 303.5,312.1 303.5,310.6 308.5,303.6 310.9,301.2 315.9,298.2 318.9,298.2 319.4,297.7 323.9,298.7 327.3,304.1 327.8,310.1 328.3,310.6 328.3,313.6 328.8,314.1 329.4,335.1 329.9,335.6 329.8,355.1 329.3,355.6 329.3,362.1 325.4,366.5 320.9,367 320.4,367.5ZM349.9,401.9 347.4,401.9 343.6,400.1 343.1,396.6 342.6,396.1 342.6,393.1 343.6,391.6 343.6,390.6 345.1,387.6 348.1,384.6 348.6,382.6 349.4,381.8 351.4,381.8 351.9,382.3 358.9,382.3 363.2,386.1 362.7,387.1 362.2,394.1 358.4,397.9 357.9,397.9 354.4,400.9 353.4,400.9 352.9,401.4 350.4,401.4 349.9,401.9ZM437.9,410.9 435.9,410.9 433.6,408.1 432.6,406.1 432.1,400.1 433.6,397.1 433.6,396.1 434.4,395.3 441.4,395.3 441.9,394.8 442.9,394.8 446.2,400.1 445.7,401.1 445.2,407.1 442.4,409.9 441.4,409.9 440.9,410.4 438.4,410.4 437.9,410.9ZM374.4,408.3 365.9,408.3 363.2,406.1 365.4,405.9 365.9,405.4 368.9,405.4 369.4,404.9 377.6,406.1 374.4,408.3ZM338.9,417.4 333.4,417.4 332.9,416.9 331.9,416.9 331.1,414.1 334.4,411.3 335.9,411.3 339.9,409.8 346.2,411.1 342.4,415.4 340.9,415.9 338.9,417.4ZM354.9,468.9 352.9,468.9 351.9,468.4 348.9,465.9 346.9,464.9 346.1,463.6 349.9,459.8 350.9,459.8 354.9,457.8 359.9,458.8 361.2,464.1 357.4,468.4 355.4,468.4 354.9,468.9Z"/><path fill="none" stroke="#000" stroke-width="1.95" stroke-dasharray="4.2 3.9" d="M351.8,146.1 353.9,146 356.4,144.5 357.4,144.5 359.4,143.5 363.8,139.1 364.3,138.1 363.3,136.1 361.3,134.1 359.3,131.1 365.3,125.6 364.8,125.1 364.3,120.1 359.3,111.6 359.3,110.6 365.3,103.1 365.8,98.1 366.3,97.6 366.3,93.6 364.3,88.1 364.3,86.1 363.8,85.6 363.8,81.6 337,81.6 337,82.6 337.5,83.1 337.5,88.1 337,88.6 337,95.6 336.5,96.1 336,105.6 335.5,106.1 335.5,113.6 335,114.1 335,130.6 335.5,131.1 335.5,135.6 337,138.1 337,139.1 338.5,141.6 338.5,142.6 339.4,143.5 345.4,146.5 351.4,146.5 351.8,146.1ZM456.8,146.1 462.4,144.5 464.3,142.6 466.8,138.6 468.3,137.1 468.8,133.1 469.8,130.6 469.8,128.6 473.3,122.1 472.8,121.6 471.8,116.1 470.8,114.1 470.8,112.1 470.3,111.6 470.3,109.6 469.8,109.1 469.3,105.1 464.3,97.1 456.9,90.7 451.4,89.2 450.9,88.7 444.5,94.6 444,98.1 442.5,102.1 442.5,111.6 443,112.1 442.9,118.1 442.5,118.6 442.5,137.1 443,137.6 443,140.1 443.5,141.1 446.9,145 447.9,145.5 449.9,145.5 450.4,146 452.4,146 452.9,146.5 456.4,146.5 456.8,146.1ZM422.1,160.1 421.9,158.4 407.2,158.6 407.4,160.3 422.1,160.1ZM449.6,160.1 449.4,158.4 444.7,158.6 444.9,160.3 449.6,160.1ZM420.8,181.1 425.4,179.5 426.8,178.1 428.8,174.1 425.9,168.7 423.4,168.7 422.9,168.2 419.9,168.2 419.4,167.7 418.4,167.7 417.9,168.2 408.9,168.7 408.4,169.2 402.9,170.2 401,171.1 407.4,177.5 411.9,180.5 414.4,181 414.9,181.5 420.4,181.5 420.8,181.1ZM333.7,204.6 339.7,199.1 341.7,195.1 340.2,191.6 340.2,190.1 342.2,186.1 342.2,184.6 340.2,181.1 335.9,177.8 334.9,177.3 332.9,177.3 332.4,176.8 328.4,176.8 322.6,181.6 322.6,182.6 322.1,183.1 322.1,185.6 322.6,186.1 323.1,189.6 328.6,200.6 332.9,204.9 333.7,204.6ZM413.6,200.6 416.6,198.6 414.9,196.9 410.4,196.9 409.7,197.6 409.9,199.8 410.9,199.8 412.4,200.8 413.6,200.6ZM355.3,364.6 358.9,364.5 361.3,362.6 363.8,358.6 365.3,357.1 365.3,356.1 366.8,353.6 366.8,352.6 368.3,350.1 367.8,349.1 367.8,346.6 367.3,346.1 366.8,341.1 366.3,340.6 366.3,338.1 365.8,337.6 365.8,335.1 365.3,334.6 365.3,332.1 364.8,331.6 364.3,326.1 363.8,325.6 362.3,320.1 368.8,314.1 368.8,313.1 358.8,298.6 356.3,294.1 351.3,288.1 354.3,285.1 355.3,281.6 356.3,280.1 349.4,276.7 348.9,277.2 342.9,277.7 341.9,278.7 338.9,280.2 337.5,281.6 336.5,284.1 335.5,285.1 334,288.1 333.5,304.1 333,304.6 333,310.1 332.5,310.6 332.5,315.6 332,316.1 332.5,337.6 332.9,338.1 332.9,343.1 333.4,343.6 334,351.6 334.5,352.1 334.5,355.1 335,355.6 335,358.1 335.5,358.6 335.5,361.1 336,362.1 338.9,363.5 339.9,363.5 341.4,364.5 344.9,364.5 345.4,365 354.9,365 355.3,364.6ZM462.3,372.6 467.4,371 469.9,368.5 470.4,368.5 473.8,365.1 477.3,358.1 477.3,355.6 477.8,355.1 478.3,349.6 478.8,349.1 478.8,340.6 479.3,340.1 478.3,328.1 474.8,319.1 472.8,316.6 470.3,312.1 466.3,307.6 466.3,307.1 458.9,300.7 453.9,300.2 452.9,299.7 448.5,304.6 448.5,306.1 448,306.6 448,308.1 447,310.6 447,312.6 446.5,313.1 446,323.1 445.5,323.6 445.5,330.1 445,330.6 445,352.6 445.5,353.1 445.5,358.6 446,359.1 446,360.6 447,362.1 447,363.1 448.5,365.6 448.5,366.6 450.4,368.5 455.9,372.5 458.4,372.5 458.9,373 461.9,373 462.3,372.6ZM333.1,374.6 335.4,374.3 336.2,373.6 334.9,370.8 333.9,371.3 329.9,371.3 329.4,371.8 326.1,372.1 326.2,373.6 326.9,374.8 333.1,374.6ZM335.2,397.6 339.2,393.1 339.2,392.1 341.2,387.1 336.9,382.3 334.4,382.3 333.9,382.8 328.4,382.8 324.1,387.6 324.1,392.6 328.9,397.9 334.9,397.9 335.2,397.6ZM410.2,406.6 414.9,406.4 415.9,405.9 420.2,400.1 416.9,395.3 409.9,395.3 409.4,394.8 407.9,394.8 407.4,395.3 398.9,397.8 395.1,401.6 396.6,404.6 397.9,405.4 401.9,405.9 404.4,406.9 410.2,406.6ZM350.1,408.1 349.9,405.9 327.2,406.1 327.4,407.8 332.4,407.8 332.9,408.3 350.1,408.1ZM358.3,421.1 362.4,420.5 365.4,418.5 367.3,416.6 366.8,416.1 366.3,412.1 360.4,409.7 355.9,409.7 355.4,410.2 350.4,410.7 348.5,412.6 346.5,415.6 346.5,416.6 348.5,419.6 349.9,420.5 351.4,420.5 353.9,421.5 357.9,421.5 358.3,421.1ZM356.6,430.6 359.1,428.1 353.9,424.9 352.9,425.4 349.9,425.4 349.4,425.9 347.2,426.1 348.9,430.3 350.9,430.3 351.4,430.8 356.6,430.6ZM376.6,442.1 382.4,440.3 383.1,439.6 383.6,436.6 384.1,436.1 377.9,434.9 377.4,435.4 375.9,435.4 375.4,435.9 373.9,435.9 373.4,436.4 371.9,436.4 370.2,437.1 370.4,441.8 373.4,441.8 373.9,442.3 376.6,442.1ZM379.2,467.6 384.4,466.9 385.9,465.9 387.2,464.1 384.9,462.3 377.9,458.8 375.4,458.8 374.9,458.3 371.9,458.3 371.4,457.8 368.1,461.1 367.6,462.6 368.1,463.1 368.6,465.6 369.9,466.9 371.9,466.9 374.4,467.9 379.2,467.6Z"/><path fill="none" stroke="#000" stroke-width="1.85" stroke-linejoin="round" d="M318.9,126.4 315.5,123.6 313.5,120.1 313.5,119.1 314,118.6 314.5,114.6 315.4,113.7 318.9,113.2 319.4,112.8 322.2,116.1 322.2,122.6 318.9,126.4ZM320.4,351 316.9,351 314.5,350.1 313.5,347.6 312,345.6 312,344.6 311.5,344.1 311.5,341.1 311,340.6 311,336.1 311.5,335.6 312,330.1 316,324.1 316.5,320.6 318.9,317.2 320.4,317.7 321.8,319.1 321.8,322.6 322.3,323.1 322.3,325.1 324.3,330.1 324.8,338.6 325.2,339.1 324.3,347.6 320.4,351Z"/><path fill="none" stroke="#000" stroke-width="1.95" stroke-dasharray="4.2 3.9" d="M455.2,125.6 459.2,121.6 458.7,121.1 458.2,118.1 454.4,114.8 452.4,114.9 451.9,115.4 449.4,115.9 448.7,116.6 448.7,118.1 448.2,118.6 448.2,121.1 448.7,121.6 449.2,124.1 453.9,125.9 455.2,125.6ZM343.7,321.6 348.4,319.5 349.3,318.6 349.8,314.1 350.3,313.6 349.9,312.7 344.9,309.8 340.1,312.1 339.6,313.1 339.6,316.1 339.1,316.6 339.1,319.1 341.9,321.4 342.9,321.9 343.7,321.6ZM459.7,342.6 463.2,339.1 462.7,336.6 461.9,334.8 456.9,331.8 453.9,333.4 452.7,334.6 451.7,337.1 451.7,338.6 453.7,341.6 454.9,342.3 456.9,342.4 457.4,342.9 459.7,342.6ZM342.2,343.6 345.3,338.1 344.2,336.6 343.7,334.6 342.9,333.8 338.4,333.8 338.2,341.1 340.9,343.4 341.9,343.9 342.2,343.6Z"/></g>
<g clip-path="url(#cb1)"><g filter="url(#bl)"><path fill="#fff5ff" fill-rule="evenodd" d="M444 698l-155 0-1-158 1-32 1-4 20 0 6 23 10-6 16-6 5 0 19 2 5 3 5 8 1 12-14 8-14 10-10 14-8 22 0 22 2 10 5 10 11 9 8 2 13-1 4 2 6-4 13-26 4-12 0-10-5-20 0-6 3-9 12-3 7 1 13 6 8 9 7 16 2 12 0 14-3 14-5 8-8 9-21 13-8 12-1 4 14 9 15-1 11-4 6 2 6 4 2 4-3 4-5 4zM331 680l2-2-7-4-8-9 0 7 2 5 4 2 7 1z"/><path fill="#ffefff" fill-rule="evenodd" d="M421 698l-67 0-9-2-6-4-1-2 3-4 8-4-9-3-12-8-15-18-4 19-1 16-5 3-6-3-8-29 0-79 0-39 4-14 5-8 3 0 3 2 6 15 17-12 17-6 20 2 5 4 5 6 0 8-1 4-16 10-8 6-10 14-8 22 0 22 2 10 5 10 11 9 16 3 9 3 9-5 13-26 4-14 0-10-6-24 4-12 9-2 7 1 13 6 8 9 7 16 2 12 0 14-3 14-5 8-8 9-20 13-8 11-12 7 14 1 10 6 15-1 3 2 2 4-1 2-10 6z"/><path fill="#ffe9ff" fill-rule="evenodd" d="M368 681l-13 0-15-4-13-10-11-13-7-11-5 14-2 3-3 0-5-8-4-16-1-12 0-48 2-18 4-13 5-6 5 6 9-10 13-9 17-6 20 2 6 6 2 6-2 8-17 13-11 13-7 12-4 14 0 22 2 10 5 10 8 7 28 11 10-6 14-28 4-14 0-10-6-24 6-13 8-1 17 7 8 9 8 20 1 22-3 14-5 8-8 9-20 13-6 8-18 9-16 4zM389 698l-25-2-8-4-1-2 3-4 6-2 21-2 21 2 6 2 3 4-1 2-5 3-20 3z"/><path fill="#ffe2ff" fill-rule="evenodd" d="M362 680l-6 0-13-3-12-9-14-15-12-20-4 7-3-1-5-19-1-22 1-20 3-12 6-16 13-14 13-9 16-5 19 1 6 5 2 6-2 8-5 6-14 10-10 12-5 10-4 14 0 22 2 10 5 10 8 7 28 12 9-4 3-3 14-28 3-12 1-12-6-24 6-12 5-2 5 1 13 6 3 3 5 6 5 10 4 18 0 14-3 14-5 8-8 9-20 13-5 6-18 9-23 5z"/><path fill="#ffdcff" fill-rule="evenodd" d="M361 679l-19-4-11-8-13-14-10-17-8-16-3-20-1-18 1-16 7-16 12-13 13-9 15-5 18 1 6 5 2 5-1 6-20 18-9 12-5 10-4 14 0 22 2 10 5 10 8 7 28 13 10-4 3-4 14-28 4-12 0-12-6-24 3-10 5-4 7 1 13 6 3 3 5 6 5 10 4 18 0 14-3 14-5 8-8 9-20 13-3 3-22 12-22 4z"/><path fill="#ffd6ff" fill-rule="evenodd" d="M361 678l-19-4-11-8-12-14-10-16-7-16-4-20-1-18 1-16 6-14 13-14 12-9 16-5 17 1 5 5 2 4-1 6-18 17-10 13-9 24 0 22 2 10 5 10 8 7 18 11 10 3 7-2 6-5 14-28 5-14 0-12-6-24 3-10 5-3 6 0 13 6 8 10 7 15 2 12 0 14-3 14-5 8-8 9-23 15-22 12-22 4z"/><path fill="#ffcfff" fill-rule="evenodd" d="M362 677l-6 0-13-3-11-8-10-12-14-22-6-14-4-18-1-18 2-14 6-16 12-14 13-8 15-5 17 1 6 6-1 8-18 16-9 14-9 24 0 22 2 10 8 14 9 6 14 8 10 4 10-4 4-4 14-28 4-14 0-12-6-24 4-8 3-4 7 0 14 6 9 12 6 16 1 16-1 12-7 17-14 12-38 21-22 5z"/><path fill="#ffc9ff" fill-rule="evenodd" d="M367 676l-11 0-11-2-15-10-10-13-10-15-7-18-4-18-1-18 2-14 5-16 14-14 11-8 15-5 16 1 5 4 1 4-1 6-18 17-13 23-4 14 0 20 2 14 7 12 9 7 15 8 10 4 7-3 7-6 15-28 4-14 0-12-6-24 4-8 3-4 5 0 15 8 9 12 6 18 0 24-7 17-10 8-22 14-22 12-15 3z"/><path fill="#ffc2ff" fill-rule="evenodd" d="M361 676l-18-4-10-7-13-15-10-14-6-16-4-20-1-18 1-14 6-16 12-13 12-8 15-5 16 1 5 3 1 4-1 5-19 19-12 22-5 16 0 18 3 14 7 12 9 7 14 9 11 3 8-3 7-6 15-28 4-14 0-12-6-24 6-11 5 0 14 7 8 10 7 20 1 14-1 14-8 14-30 20-22 12-21 4z"/><path fill="#ffbfff" fill-rule="evenodd" d="M367 675l-11 0-11-2-14-11-10-12-10-14-7-16-4-20-1-18 2-14 6-16 11-12 12-8 15-6 16 1 5 7 0 4-20 20-8 15-8 23 0 18 2 14 7 12 11 9 13 7 11 4 12-5 4-5 14-28 4-14 0-14-6-22 6-10 4-1 14 7 9 10 6 16 2 16-1 14-7 14-8 7-23 15-22 11-15 4z"/><path fill="#ffbaff" fill-rule="evenodd" d="M367 675l-11 0-11-2-14-11-10-12-10-14-7-16-4-20-1-18 2-14 6-16 11-12 12-8 15-6 16 1 5 7 0 4-20 20-8 15-8 23 0 18 2 14 7 12 11 9 13 7 11 4 12-5 4-5 14-28 4-14 0-14-6-22 6-10 4-1 14 7 9 10 6 16 2 16-1 14-7 14-8 7-23 15-22 11-15 4z"/><path fill="#ffafff" fill-rule="evenodd" d="M367 674l-10 0-12-2-11-8-6-6-17-24-7-16-3-18-1-18 1-14 6-14 13-15 11-7 14-5 16 1 4 6 0 4-20 20-9 17-7 21 0 20 3 12 7 13 7 6 15 9 12 5 5-1 12-8 14-28 5-16 0-14-6-22 6-10 3 0 14 6 8 12 7 18 1 14-1 10-6 16-10 8-22 13-22 12-14 3z"/><path fill="#ffa6ff" fill-rule="evenodd" d="M360 674l-15-3-11-8-13-13-12-22-5-12-3-16 0-28 6-18 13-14 11-7 14-5 16 1 4 5 0 4-19 18-9 16-8 22-1 22 3 12 6 12 9 8 17 10 10 3 9-2 9-7 14-28 4-14 0-16-6-22 3-6 4-4 16 7 8 11 6 18 1 14-1 10-6 14-2 3-29 20-21 11-22 4z"/><path fill="#ff9dff" fill-rule="evenodd" d="M360 674l-15-3-11-8-12-13-12-22-5-12-3-16 0-28 6-18 11-13 7-5 19-8 16 1 4 5-1 4-18 18-9 16-8 22-1 22 2 12 8 14 8 6 17 10 10 3 9-2 9-7 15-30 4-14 0-14-6-22 2-6 4-4 16 8 8 10 6 18 1 14-2 14-7 13-29 20-21 11-22 4z"/><path fill="#ff95ff" fill-rule="evenodd" d="M369 673l-12 0-11-2-17-13-7-8-9-16-7-16-4-18 1-32 5-14 9-11 9-7 19-8 16 1 3 3 0 6-18 17-10 17-8 22-1 22 3 12 7 14 12 9 13 7 11 3 9-2 10-7 15-28 4-14 0-16-7-22 3-6 3-4 15 8 7 10 6 15 2 15-2 12-6 14-8 8-21 14-21 12-13 3z"/><path fill="#ff8cff" fill-rule="evenodd" d="M366 673l-9 0-11-3-16-12-7-8-10-16-6-16-4-16-1-22 1-12 6-14 9-11 11-8 16-7 15 1 4 5 0 4-12 8-7 10-9 16-8 24-3 20 4 14 8 12 6 6 17 10 13 4 5-1 13-9 16-26 5-16 0-16-7-22 2-6 3-3 15 7 7 12 4 14 2 16-1 10-6 14-9 8-23 16-17 10-16 3z"/><path fill="#ff80ff" fill-rule="evenodd" d="M366 673l-8-1-12-3-11-7-9-10-7-9-7-13-5-12-3-16-1-28 2-10 4-10 8-10 9-7 19-9 15 1 4 5-2 4-12 6-7 17-7 11-9 24-3 20 0 4 5 12 11 15 15 10 18 5 10-3 9-7 16-22 6-18-1-18-7-22 1-6 3-3 3 1 12 8 5 10 5 18 1 12-2 12-4 10-5 6-22 17-21 12-16 4z"/><path fill="#ff6fff" fill-rule="evenodd" d="M369 672l-7 0-14-4-17-12-12-14-5-8-4-10-5-22-1-22 2-16 3-6 7-12 10-8 19-9 15 1 2 2 1 2-2 4-14 2-6 2 5 10-3 8-8 12-12 36-4 6 2 10 6 12 12 14 13 9 13 4 8 0 5-1 12-7 14-13 10-14 5-18-4-24-2-8-6-10 2-4 4 0 10 10 6 20 2 16-2 14-8 16-12 11-11 8-16 10-13 3z"/><path fill="#ff5eff" fill-rule="evenodd" d="M365 670l-18-5-13-9-14-14-9-18-5-22-1-22 3-16 5-10 4-8 10-8 18-8 15 1 2 3-2 3-14-1-14 6-8 7-10 15-3 18 2 20 5 22 6 14 15 17 11 8 15 4 14-3 15-8 11-8 10-12 7-16 2-14-3-14-4-16-8-8 2-2 8 10 5 16 2 18-3 12-6 15-10 11-13 11-14 8-15 3zM320 609l-5-3-1-2-1-14 2-14 5-12 9-12 12-5 4 5-2 6-8 14-10 28-5 9z"/><path fill="#ff4dff" fill-rule="evenodd" d="M314 623l-7-23 0-18 2-16 11-19 11-9 13-5 1 1-14 6-10 10-8 16-3 16 4 41zM320 609l-4-3-1-2-1-14 2-14 5-14 9-10 11-5 4 5-2 6-9 14-9 28-5 9zM315 625l0-2 0 2z"/><path fill="#ff3cff" fill-rule="evenodd" d="M320 609l-4-3-1-2-1-14 2-14 6-14 8-10 11-5 4 5-3 6-8 14-9 28-5 9z"/><path fill="#f432f4" fill-rule="evenodd" d="M320 608l-4-2-1-12 2-18 5-14 9-10 10-4 3 4-2 6-8 14-10 28-4 8z"/><path fill="#e32de3" fill-rule="evenodd" d="M319 608l-2-2-2-14 3-18 5-12 5-6 4-4 9-4 2 4-2 8-8 12-9 28-5 8z"/><path fill="#d827d8" fill-rule="evenodd" d="M319 605l-2-13 1-12 5-14 9-12 9-3-1 7-8 14-13 33z"/><path fill="#f5fff5" fill-rule="evenodd" d="M421 684l19-4 19-15 15-19 9-17 0-126-16 1-6 32-9-7-13-8-16-7-18-1-7 2-12 9-4 18-4-1-6 2-19 12-11 13-7 12-4 14 0 22 3 10 5 10 7 7 6 3 13 1 4-1 5-8 3-26 4-14 10-23 3-13 13-4 7 1 13 6 8 9 7 16 2 12 0 14-3 14-5 8-8 9-20 13-9 14 2 4 8 6 12 0z"/><path fill="#efffef" fill-rule="evenodd" d="M421 684l6-1 13-8 19-15 13-18 9-20 2-18 0-78 0-16-4-4-4 2-5 8-5 29-15-13-15-9-17-7-13 0-5 2-9 6-3 4-2 8 1 12-5-3-10-2-19 12-12 15-8 20-1 26 2 10 5 10 10 9 15 1 6-8 3-28 5-14 13-32 1-6-2-6 7 8 10-2 7 1 13 6 4 3 7 10 5 16 1 22-2 10-6 12-8 9-20 13-8 12 2 6 7 6 12 0z"/><path fill="#e9ffe9" fill-rule="evenodd" d="M417 684l9-3 13-7 17-14 14-18 8-18 5-20 0-79-4-5-4 2-3 6-4 24-19-19-14-8-16-6-16 0-11 7-2 2-2 12 3 10 10 9 9-1 17 7 9 9 8 20 1 22-2 10-4 10-11 11-20 13-6 8 1 6 4 7 5 3 5 0zM361 646l7-10 3-26 5-15 14-33-1-4-4-9-13-4-9 3-13 10-9 12-5 10-4 14 0 22 2 10 5 10 10 9 12 1z"/><path fill="#e2ffe2" fill-rule="evenodd" d="M418 682l7-2 13-8 17-12 16-22 7-18 4-16 1-62-3-8-3 0-4 8-2 17-6-9-14-14-16-10-17-6-13 0-14 8-1 8 1 12 9 9 4 1 10 1 13 6 4 3 5 6 5 10 4 18-1 20-5 14-11 11-20 13-4 6 0 8 4 6 4 3 6-1zM359 646l8-10 3-26 5-16 13-32 0-4-4-8-12-3-9 1-13 10-9 12-5 10-4 14 0 22 2 10 5 10 10 9 10 1z"/><path fill="#dcffdc" fill-rule="evenodd" d="M418 682l7-3 13-8 16-12 14-18 8-19 4-18 1-18-8-22-9-14-14-13-16-10-14-5-15-1-13 9-1 6 1 12 9 8 5 2 8 1 13 6 4 3 5 6 5 10 4 18-1 20-5 14-11 11-20 13-2 4-1 10 6 8 7 0zM354 646l6-2 6-8 3-26 4-16 14-32 0-4-3-6-3-2-10-2-6 1-12 6-12 15-8 20-1 24 2 12 5 10 5 5 5 4 5 1z"/><path fill="#d6ffd6" fill-rule="evenodd" d="M418 680l19-9 16-13 14-18 8-20 5-16 0-18-6-18-8-12-3-6-14-12-15-10-14-5-15-1-12 8-1 6 1 12 8 7 22 8 8 5 5 6 5 10 4 18-1 20-5 14-11 11-20 13-1 2-1 12 6 7 6-1zM354 644l5-1 6-7 3-28 5-14 13-32 0-4-5-7-11-2-8 2-8 5-13 14-8 20-1 24 2 12 5 10 7 7 3 2 5-1z"/><path fill="#cfffcf" fill-rule="evenodd" d="M418 680l19-10 16-12 14-18 7-18 5-18 0-18-6-18-4-6-6-10-14-14-15-9-14-6-15 0-11 7-2 10 2 7 7 7 22 9 8 5 4 6 6 10 4 18-1 20-5 14-11 11-20 15-1 12 5 6 6 0zM355 644l4-2 5-6 3-26 5-16 13-32 0-4-3-6-2-1-9-1-6 1-11 5-8 8-5 6-8 20-1 24 2 11 5 11 5 4 5 4 6 0z"/><path fill="#c9ffc9" fill-rule="evenodd" d="M416 680l8-3 12-7 16-13 14-17 8-18 4-18 0-18-5-18-8-12-3-4-14-13-15-10-14-5-14-1-11 7-1 6 1 10 8 8 25 10 8 8 8 16 2 14-1 20-5 14-8 8-21 16-2 4 0 10 5 6 3 0zM358 642l6-6 2-26 5-16 14-32 0-4-5-6-9-2-8 2-12 8-10 11-5 9-4 14 0 20 2 10 6 12 9 7 9-1z"/><path fill="#c2ffc2" fill-rule="evenodd" d="M417 678l19-9 16-12 13-17 9-20 4-16 0-18-6-18-4-6-7-10-13-13-15-9-14-6-14 0-10 6-1 6 1 10 7 7 25 10 9 9 7 16 3 14-1 18-4 14-9 11-23 19-1 9 5 6 4-1zM354 642l4 0 5-6 3-26 5-16 13-32 0-4-4-6-9-1-8 2-6 3-14 12-7 12-4 14 0 12 3 18 6 12 8 6 5 0z"/><path fill="#bfffbf" fill-rule="evenodd" d="M416 678l7-2 13-8 13-10 16-19 8-19 4-16 0-18-6-18-3-6-7-10-13-12-15-10-14-5-13-1-10 6-2 6 2 10 7 7 24 10 10 9 7 16 2 14-1 18-4 14-9 12-23 18-1 8 5 6 3 0zM357 642l6-8 2-24 6-20 13-28-4-9-12-1-5 1-8 5-12 11-7 11-2 8-2 20 4 16 5 12 7 6 9 0z"/><path fill="#baffba" fill-rule="evenodd" d="M416 678l7-2 13-8 13-10 16-19 8-19 4-16 0-18-6-18-3-6-7-10-13-12-15-10-14-5-13-1-10 6-2 6 2 10 7 7 24 10 10 9 7 16 2 14-1 18-4 14-9 12-23 18-1 8 5 6 3 0zM357 642l6-8 2-24 6-20 13-28-4-9-12-1-5 1-8 5-12 11-7 11-2 8-2 20 4 16 5 12 7 6 9 0z"/><path fill="#afffaf" fill-rule="evenodd" d="M416 678l7-3 14-8 14-11 13-18 8-18 4-16 0-18-5-16-5-8-6-10-13-12-15-9-15-6-11 0-10 7-1 6 1 8 7 6 25 10 9 10 7 13 3 17-1 18-4 14-9 12-23 18-1 8 4 6 3 0zM357 640l5-6 2-24 4-13 15-35-3-8-3-1-6-1-7 2-16 11-10 14-5 15 0 18 3 12 5 10 8 7 8-1z"/><path fill="#a6ffa6" fill-rule="evenodd" d="M417 676l5-1 12-7 17-13 13-17 7-18 4-16 1-18-7-18-9-15-13-12-16-10-10-4-15-1-10 6-1 6 1 8 7 6 25 9 10 11 7 14 2 16 0 16-5 16-9 13-21 15-2 2-1 6 1 4 4 3 3-1zM354 640l3 0 4-6 3-26 5-16 13-30-3-8-8-1-7 1-8 5-12 11-7 12-3 10-1 14 3 18 6 10 8 7 4-1z"/><path fill="#9dff9d" fill-rule="evenodd" d="M416 676l18-8 17-13 12-17 8-18 4-16 0-18-6-18-9-15-13-12-16-10-10-3-15-2-9 6-1 6 1 8 6 5 25 10 11 11 6 14 3 16-1 20-4 12-10 13-22 17-1 6 0 4 4 3 2-1zM353 640l4 0 4-6 2-26 5-16 14-30-3-8-8-1-7 1-8 5-11 11-7 12-3 10-1 14 3 18 5 10 8 7 3-1z"/><path fill="#95ff95" fill-rule="evenodd" d="M416 676l8-3 22-15 5-4 12-16 7-18 5-18 0-16-7-18-9-14-12-12-16-10-12-4-13-1-9 5-1 8 1 6 6 4 26 10 7 8 3 4 7 14 2 16 0 20-5 12-10 14-22 16-1 8 4 5 2-1zM356 640l5-6 2-26 3-10 16-36-3-7-10-1-5 1-8 5-11 10-6 10-3 8-2 20 3 16 5 10 4 4 4 2 6 0z"/><path fill="#8cff8c" fill-rule="evenodd" d="M416 676l9-4 21-14 17-20 9-24 2-12 0-14-6-20-10-14-7-8-20-13-15-6-9 0-9 5-2 6 2 7 6 5 25 9 8 7 9 20 3 16-1 20-3 12-10 13-23 17-2 8 4 5 2-1zM352 640l4-1 4-5 3-26 6-18 12-30-3-4-9-2-12 6-11 10-7 12-4 14 0 12 2 12 6 14 7 6 2 0z"/><path fill="#80ff80" fill-rule="evenodd" d="M418 676l18-11 12-9 14-18 9-24 2-14 0-12-5-20-10-14-6-6-22-14-14-6-9 0-9 5-2 5 2 6 6 4 25 9 11 9 6 20 3 16 1 20-5 14-9 10-23 18-2 4 0 6 3 2 4 0zM353 638l3 0 3-4 3-26 5-16 13-32-2-4-11 0-8 4-13 10-6 12-4 14-1 12 3 12 6 13 6 6 3-1z"/><path fill="#6fff6f" fill-rule="evenodd" d="M417 676l30-21 14-19 8-20 3-24-6-22-13-18-19-14-18-7-5 0-12 3-2 4 2 5 28 8 15 11 5 6-3 6 0 4 5 14 1 10 0 12 3 8-4 12-10 12-26 21-2 3 1 4 2 2 3 0zM355 636l3-8 2-20 5-17 13-29-2-4-10 0-7 4-11 10-6 10-4 14 0 12 3 14 7 12 3 2 4 0z"/><path fill="#5eff5e" fill-rule="evenodd" d="M417 674l28-20 15-18 7-20 3-24-6-22-12-17-19-13-21-6-12 1-2 2 0 3 3 2 13-1 16 5 15 10 13 18 3 14 0 8-2-14-3-4-4-4-3 0-3 2 0 6 4 8 2 12 0 12 6 6-5 14-12 14-28 21 0 5 4 0zM353 632l3-12 1-14 5-16 12-26 0-2-2-1-10 3-11 10-6 8-2 8-2 18 2 12 5 10 4 3 1-1zM460 615l0-2 0 2z"/><path fill="#4dff4d" fill-rule="evenodd" d="M450 644l8-9 8-17 2-26-5-22-13-16-9-5 7 7 11 16 3 18-1 6-3-14-3-4-3-4-4 1-2 5 5 16 2 18 3 5 3 1-4 14-6 10 1 0zM351 626l2-20 5-18 10-23-13 11-6 8-4 14 0 10 3 12 3 6zM460 615l0-1 1-1-1 2zM459 618l0-1 0 1zM447 646l1-1-1 1z"/><path fill="#3cff3c" fill-rule="evenodd" d="M461 624l4-10 0-8 1-10-2-12-1-5 1 11-1 10-1 0-4-18-5-7-4 0-2 5 5 18 1 14 4 7 3-8 2 1 1 2-3 6 1 4z"/><path fill="#32f432" fill-rule="evenodd" d="M457 618l6-14-3-4-3-18-4-6-4-1-2 5 6 18 0 14 4 6z"/><path fill="#2de32d" fill-rule="evenodd" d="M457 618l3-10-1-14-3-12-3-6-4 0-1 4 3 8 2 10 1 14 3 6z"/></g><path fill="none" stroke="#000" stroke-width="1.85" stroke-linejoin="round" d="M360.4,673.9 356.4,673.9 355.9,673.4 353.9,673.4 353.4,672.9 349.4,672.4 348.9,671.9 347.4,671.9 346.9,671.4 344.4,670.9 337.9,665.9 334.4,663.9 321.5,649.5 321,648 312,634.5 312,633.5 310.5,631 309.5,627.5 307,622.5 307,621.5 305.5,619 305,616 304.5,615.5 304.5,613.5 304,613 304,611 303.5,610.5 303.5,608.5 303,608 303,606 302.5,605.5 302.5,603.5 302,603 302,601 301.5,600.5 301,583.5 300.5,583 301,582.5 301,577.5 301.5,577 302,567.5 304.5,562 304.5,561 305.5,559.5 305.5,558.5 306.5,557 306.5,556 307.5,554.5 307.5,553.5 315.5,544.5 315.5,544 318.9,540.6 330.9,532.6 337.9,530.6 339.4,529.6 340.4,529.6 344.9,527.6 346.9,527.6 347.4,528.1 356.4,528.1 356.9,528.6 360.4,528.6 361.9,529.6 364.8,533 364.3,536 364.8,536.5 364.8,537.5 357.9,544.8 357.4,544.8 350.9,550.9 350.4,550.9 344.8,557 344.3,560 336.3,572.5 336.3,573.5 335.3,575 335.3,576 334.3,577.5 334.3,578.5 333.3,580 332.3,583.5 331.3,585 330.8,588 329.3,591.5 328.8,595 328.3,595.5 328.2,616 328.7,616.5 329.7,623.5 330.2,624 330.2,626 330.7,626.5 330.7,628.5 337.8,641 339.9,643.1 347.9,649.2 362.9,657.6 365.4,658.1 366.9,659.1 369.4,659.6 372.4,661.1 378.4,660.6 379.4,659.6 386.4,656.1 391,651.5 405.6,622.5 406.1,619.5 407.1,617.5 407.6,614.5 409.6,609 409.6,594 409.1,593.5 409.1,592 408.1,589.5 407.6,586 406.6,584 405.6,578.5 405.1,578 405,576 404,573.5 404,572 403.5,571.5 406,567 406.5,565 408.9,562.6 409.9,562.1 411.9,562.1 414.4,564.1 417.9,565.1 423.9,568.1 424.9,568.1 426.3,569.5 434.2,580.5 434.7,582.5 435.7,584 435.7,585 436.7,586.5 436.7,587.5 437.7,589 437.7,590 438.7,591.5 438.7,592.5 439.7,594 439.7,597 440.2,597.5 440.2,603 440.7,603.5 441.2,613 440.7,613.5 440.7,618 440.2,618.5 439.7,626 434.2,637 431.9,639.3 431.4,639.3 425.9,644.3 421.4,646.9 418.9,648.9 417.4,649.4 414.9,651.4 413.4,651.9 410.9,653.9 409.4,654.4 406.9,656.4 405.4,656.9 402.9,658.9 391.9,663.9 390.9,664.9 388.4,665.9 387.4,666.9 383.9,668.4 380.9,670.4 374.4,671.4 373.9,671.9 371.9,671.9 371.4,672.4 369.4,672.4 368.9,672.9 366.9,672.9 366.4,673.4 363.9,673.4 363.4,672.9 362.9,673.4 360.9,673.4 360.4,673.9Z"/><path fill="none" stroke="#000" stroke-width="1.95" stroke-dasharray="4.2 3.9" d="M415.3,677 422.4,674.9 423.4,673.9 432.4,668.9 433.4,667.9 434.9,667.4 442.9,661.4 447.4,657.4 447.9,657.4 449.9,655.4 450.4,655.4 463.8,638 465.3,635 465.3,634 466.8,631.5 467.8,628 469.3,625.5 470.3,622 471.3,620.5 472.3,615.5 472.8,615 472.8,613.5 473.3,613 473.3,611.5 473.8,611 473.8,609.5 474.3,609 474.3,607.5 474.8,607 474.8,605.5 475.3,605 475.3,603.5 475.8,603 475.8,586 471.8,575 470.3,569.5 467.3,565 466.8,563.5 463.8,559.5 463.3,558 460.3,553.5 446.4,540.6 439.4,536.1 437.9,535.6 436.9,534.6 435.4,534.1 434.4,533.1 432.9,532.6 431.9,531.6 429.9,531.1 428.4,530.1 427.4,530.1 425.9,529.1 424.9,529.1 423.4,528.1 422.4,528.1 420.9,527.1 419.9,527.1 418.4,526.1 417.4,526.1 416.9,525.6 405.4,525.6 396.5,531.5 395.5,537.5 396.5,545.5 402.9,551.8 406.4,552.8 407.9,553.8 410.4,554.3 411.9,555.3 414.4,555.8 415.9,556.8 416.9,556.8 418.4,557.8 419.4,557.8 420.9,558.8 421.9,558.8 423.4,559.8 424.4,559.8 425.9,560.8 427.9,561.3 438.5,572 438.5,573 441.5,578.5 441.5,579.5 445,586.5 446,595 446.5,595.5 446.5,598 447,598.5 447,601 447.5,601.5 447.5,608 447,608.5 447,618 446.5,618.5 446.5,621.5 445.1,625 445.1,626.5 443.6,630 443.5,631.5 442.5,633.5 442.5,634.5 435,644.5 432.4,647.1 411.9,662.1 410.5,664 410.5,666.5 410,667 409.5,672 413.9,677.4 415.3,677ZM353.3,640.5 356.4,640.4 361.3,634.5 361.3,632 361.8,631.5 361.8,629.5 362.3,629 362.8,623.5 363.3,623 363.8,608.5 365.3,605 365.3,603.5 366.8,600 366.8,598.5 367.3,598 368.8,592.5 371.8,586 371.8,585 372.8,583.5 373.8,580 380.3,567.5 380.3,566.5 382.3,561.5 382.3,559.5 379.4,554.1 374.4,553.6 373.9,553.1 371.4,553.1 370.9,552.6 370.4,553.1 368.4,553.1 367.9,553.6 363.9,554.1 359.4,557.1 357.9,557.6 353.4,561.6 352.9,561.6 349.4,565.1 348.9,565.1 344,570 343.5,571.5 341.5,574 341,575.5 339,578 337.5,581 336.5,586.5 335.5,588.5 335.5,590 335,590.5 334.5,594 334,594.5 334,605.5 333.5,606 333.5,609 334,609.5 334,611.5 334.5,612 334.5,614 335,614.5 335,616.5 335.5,617 335.5,619 336,619.5 336.5,623.5 342,634.5 349.4,640.9 352.9,640.9 353.3,640.5Z"/><path fill="none" stroke="#000" stroke-width="1.85" stroke-linejoin="round" d="M319.4,608.2 316.7,606 316.7,604 316.2,603.5 316.2,599 315.7,598.5 315.7,594 315.2,593.5 316.2,579.5 316.7,579 317.2,575.5 318.2,574 318.2,573 319.2,571.5 319.2,570.5 322.2,564 322.2,563 330.7,553.5 330.7,553 340.9,548.3 343.6,551 343.6,551.5 341.6,557 341.1,560 333.1,572.5 333.1,573.5 328.1,585 324.1,599.5 319.4,608.2Z"/><path fill="none" stroke="#000" stroke-width="1.95" stroke-dasharray="4.2 3.9" d="M457.1,618 457.6,615 458.6,613 458.6,611.5 459.6,609.5 459.8,605 459.6,596 459.1,595.5 457.1,583.5 452.4,575.8 448.4,575.8 447.7,580.5 451.2,588.5 452.2,595 452.7,595.5 452.7,597.5 453.2,598 453.2,600.5 453.7,601 453.7,613 454.2,613.5 454.2,615 456.2,618 457.1,618Z"/></g>
<g clip-path="url(#ca2)"><g filter="url(#bl)"><path fill="#fff5ff" fill-rule="evenodd" d="M574 479l-70 0-2-7-3-23-2-51-5-8-1-7 0-66 3-21-3-21 0-18 0-136 1-39 78 0-8 16 7 11 7 5 2 1 0 3 3 3 23-4-4-5 0-2 2-10 2-3-1-11 2-2 4-1 8 6 7 2 5 8-1 7-4 3-17 8 2 16-3 6-6 6-4 10 1 8-2 3 0 12-3 12 0 8-1 3-9 9 7 11-3 13 2 9-3 2 13 9 2 4-1 4-4 5-8 2-40 3 2 4-3 9-3 3-4 2 1 3-1 3 3 7 3 5 7 7 3 7-13 8 1 8 6 4 12 0 6 8 17 8 7 7-1 10-9 8-9 5 1 7-3 4 0 1 11 2 7 11 0 5-5 5 2 2-1 7-6 4-11 2-3 3 1 10 3 4-1 7 6 7 1 10zM678 223l-4-2-4-9-1-9 0-11 3-27 5-8 7 0 1 50-3 10-4 6zM599 343l-10-1-3-4-8-4-1-4 3-3 14-6 4-6 6-3 6-1 5 1 2 4 0 4-5 7 2 4 0 6-15 6z"/><path fill="#ffefff" fill-rule="evenodd" d="M573 479l-60 0-4-15-3-19-2-48-5-6-3-6-1-12-3-18 0-14 4-20 4-28-1-12-8-20 0-7 0-131 6-41 6 0 2 13 3-1 5-12 51 0 2 7-4 9 11 15-1 6 5 7 23-4 8 2 1 8-1 4-8 9-4 10 1 8-2 3 0 12-3 12 0 8-1 3-10 10 7 8 1 4-3 11 1 5-9 6 14 8 3 4-1 4-4 4-8 2-36 3-18 3-8 5-5 9 12-3 2-6 4-3 10-1 4 3-1 8-3 3-5 2 1 3-1 3 6 12 8 7 3 7-14 8 1 8 7 4 12 1 6 7 17 8 7 7-1 10-9 8-9 5 0 7-3 4 1 1 11 2 6 11 0 5-5 5 2 2-1 7-5 4-11 2-3 3 1 10 3 4-1 7 6 7 0 10zM614 114l-7-1-6-5 1-8 2-3-1-6 7-5 14 5 4 8-1 7-3 3-10 5zM677 212l-2 0-2-4-1-10 1-16 4-12 3 6 2 18-1 12-4 6zM605 341l-12 0-8-7-1-3 6-6 7-3 1-6 9-5 6 0 4 5 0 4-5 7 2 4 0 6-9 4z"/><path fill="#ffe9ff" fill-rule="evenodd" d="M510 279l-2 0-3-2-9-15-3-10-2-21 0-56 3-30-1-7 5-36 2-4 2 5 9-7 6-14 43 0 3 8-1 8 7 10 0 13 5 6 1 5 13 0 12-2 4 1 3 5-7 9-4 10 1 8-2 3 0 12-4 23-12 7-2 4 6 3 5 6-2 14-9 6-11 1 18 9 5 4 0 4-3 4-8 2-53 5-15 9zM618 112l-10-1-6-5 2-12 4-5 14 1 5 6 1 4-1 6-9 6zM564 241l-9-9 3 5 6 4zM571 479l-51 0-6-14-2-17 0-52-10-6-4-9 1-8-4-17 0-14 8-36 4-9 11-7 11-4 0-6 5-4 9 0 4 3-1 6-3 3-3 0-2 2 1 3-1 3 6 12 8 7 1 3-3 7-9 5 1 8 4 3 1 3 6-1 10 3 4 4 17 8 7 7-1 10-9 8-10 5 1 7-3 4 1 1 11 2 4 6 2 6 0 4-5 5 2 2-1 7-5 4-11 2-3 3 1 6-1 4 4 6-3 6 7 6-1 10zM603 340l-11-1-3-5 0-4 3-4 8-2-1-5 2-4 6-3 6 0 4 4 0 4-4 6-5 2 5 1 1 6-11 5z"/><path fill="#ffe2ff" fill-rule="evenodd" d="M517 269l-10-1-8-8-2-8-5-32 0-26 4-50-1-6 4-25 5-9 9-7 7-15 37 0 3 8-1 9 5 4 3 6-1 9 1 4 5 6 1 9 7 0 10 5 11 1-5 12 1 8-2 3 0 12-3 12 0 7-4 4-11 6-3 7 7 1 5 6 1 6-2 7-8 6-9 0-10-7-5-10-3 7 0 4 3 4 26 13 4 4 0 3-4 4-8 2-54 5zM620 111l-11-1-5-4-1-5 2-7 3-3 14-1 4 4 2 5-1 7-7 5zM515 169l7-3-15-7 3 8 5 2zM570 479l-41 0-4-4-4-8-4-11-1-26 4-20 3-6 6-3 1-7-11 1-11-4-5-4-3-7 1-7-4-17 0-14 6-20 1-13 9-13 17-9 0-6 4-4 9 0 4 5-1 3-3 3-3 0-2 2 1 3-1 3 2 5 4 7 5 4 1 4-3 10-6 4 0 6 3 4-1 11 5-5 7 0 10 3 5 3 14 6 7 7 0 6-2 4-8 8-10 5 1 7-3 4 1 1 11 2 4 6 2 7 0 3-5 5 2 2-1 7-5 4-11 2-3 3 1 6-4 4 6 5-1 3-3 3 7 7 0 10zM610 326l-7-1-3-4 1-5 7-3 6 1 3 4-1 4-6 4zM602 339l-7 0-3-2-2-4 1-5 8-3 7 3 2 6-3 4-3 1zM548 459l3-1 2-6-6 1 0 6 1 0z"/><path fill="#ffdcff" fill-rule="evenodd" d="M546 264l-30 0-10-4-6-9-6-33 0-25 6-45-3-9 3-25 5-8 9-8 8-16 19-1 13 1 2 1 3 8-2 8 5 5 3 6-1 7 2 6 4 7 1 15 5-3 4 1 17 19-2 4 0 11-6 8 3 6-1 5-4 3-12 6-3 9-3 3 2 1 7-2 6 4 2 7-2 7-8 5-10-1-9-8-2-5 2-5-3-2-2 1-3 4-4 8 0 4 3 4 26 13 3 3-1 3-9 4-21 2zM622 110l-12-1-5-4-1-4 4-9 14-1 4 3 2 5-1 7-5 4zM516 175l10-4 0-4-17-9-6-6 5 19 3 3 5 1zM568 479l-31 0 1-9 10-10 4-1 1-4 3-4-12 0-3 12-5 7-5 0-4-4-5-14-1-19 3-15 9-11-2-5 2-11-10 3-6-1-11-5-4-8 1-7-4-17 0-14 5-20 2-12 8-12 12-9 6-2-1-5 3-4 8 0 4 3 0 4-2 2-7 2 2 2-1 5 2 5 9 15-4 11-4 3 2 10-4 17 8-8 6-2 16 5 15 7 4 3 2 4-2 8-8 7-1 3-8 4 1 6-4 6 13 3 5 7 1 8-5 5 2 2-1 7-5 4-11 2-4 3 0 7-5 3 5 1 3 4-1 3-3 3 8 8-2 9zM611 325l-8-1-2-4 1-3 6-4 6 2 2 5-5 5zM603 338l-9-1-3-4 0-4 8-3 6 2 2 5-4 5zM557 418l-5-5 0 4 5 1z"/><path fill="#ffd6ff" fill-rule="evenodd" d="M553 261l-28-1-12-3-4-6-2-10-7-11-4-13 0-27 4-26 2 1 5 12 4 4 18-6-3-10-17-9-7-7-4-9 4-27 5-7 9-7 3-10 4-7 28 0 4 3 2 9-3 5 7 5 3 6 0 4-2 3 2 7 5 6 0 15 4 3 4-2 3 2 4 6 2 8 0 9-2 10 6 9-1 5-15 9-3 9-3 3-7 1-12 0-10 14 0 5 3 4 23 11 4 4-1 2-3 2-12 2zM624 109l-16-2-3-4 3-10 14-2 3 2 3 8-1 5-3 3zM575 238l-8-1-5-3-6-8 1-5 9-3 5 1 5-2 5 1 3 5 0 8-2 3-7 4zM543 287l-9 0-2-2 0-4 2-2 9 0 2 4-2 4zM535 457l-3 0-3-3-3-13 1-10 4-6-1-3 0-7 5-8-3-5 1-7 1-4-2-2-13 3-12-5-3-7 1-6-5-19 1-14 5-18 0-6 2-9 7-9 9-5 2-4 7-2 6 4-2 5 10 20-3 11-3 2 0 15-5 17 6-4 6-8 5-1 22 6 8 4 4 4 1 5-1 4-8 8-1 4-7 4 0 5-5 8 13 1 6 6 2 10-5 5 2 2-1 7-8 5-14 3 3 3 0 3-6 4-19-1-4 8zM611 324l-7 0-2-3 0-3 6-4 5 1 2 5-4 4zM603 337l-9-1-3-3 1-3 7-3 6 2 2 4-4 4zM560 419l-9-7 0 6 9 1zM544 434l-3-3-4-1 1 2 6 2zM567 479l-26 0-4 0 0-2 3-7 9-9 4-2 1-4 5-3 6 4-1 3-3 3 1 3 7 5-1 8-1 1z"/><path fill="#ffcfff" fill-rule="evenodd" d="M547 258l-17-1-10-4-1-4 2-9-1-3-9-10-9-4-4-12 0-21 3-13 7 10 3 1 13-6 9-2-6-16-17-9-7-7-3-8 3-27 6-7 7-6 4-11 5-7 22 0 8 4 1 8-4 6 7 4 4 6 0 4-3 3 8 14 0 15 10 7 4 5 1 9-3 11 9 13 0 3-3 3-14 6-1 6-3 5-11 2-10-2-18 21-1 3 3 3 23 10 3 3-2 2-8 2zM625 108l-16-1-3-4 3-9 16-1 3 6-1 7-2 2zM575 237l-7 0-5-4-6-7 1-5 8-2 5 1 5-2 4 1 4 5-1 7-2 2-6 4zM543 286l-9 0-2-1 1-4 2-2 8 1 1 3-1 3zM558 449l-17-1-7-3-4-4 0-3 4-4 7-1 5 3-4-6-6-2-5-6 0-8 3-5 3-1-3-5 1-14-3-1-9 3-5 0-10-5-3-7 2-5-5-18 0-14 3-15 2-4 0-6 2-7 5-9 10-6 2-4 7-3 5 4 0 3-2 2 10 20-5 13-2 15-6 23 2-1 2-4 6-4 5-8 4-1 23 6 9 5 3 6-1 4-8 8-2 6-5 3 0 3-7 11 15 1 4 3 4 9-1 4-5 4 3 2 0 3-3 5-6 3-15 3 3 6-5 4zM611 323l-7 0-2-4 6-4 5 1 2 4-4 3zM603 336l-8 0-3-5 7-4 5 2 2 4-3 3zM565 421l-2-1-12-10-2 0 1 8 1 1 14 2zM567 479l-26 0-3 0 0-2 2-7 9-8 7-2-2-4 5-4 5 4 0 3-5 2 3 5 6 4-1 9z"/><path fill="#ffc9ff" fill-rule="evenodd" d="M527 225l-8-1-9-9-7-2-2-4-1-10 2-8 8 7 14-10 6-2 7 1 0-1-10-23-16-8-6-7-4-8 1-17 3-10 13-13 3-10 5-8 20 0 8 5 1 8-4 5 7 5 3 5 0 4-2 3 8 14-1 5 2 4-1 5 13 13 2 9-1 5-3 5 9 13 1 3-3 3-14 6-1 7-3 4-11 2-8-2-4-3-9 10-8 5zM625 107l-16-1-3-3 3-4 0-4 2-2 6 1 5-1 3 1 2 5-2 8zM575 236l-7 0-5-4-5-6 1-4 7-2 5 1 5-3 3 1 4 5-1 6-1 3-6 3zM542 286l-8 0-1-5 2-1 8 0 1 4-2 2zM558 448l-17 0-7-4-4-4 3-5 6-2 6 4 3 0-5-7-7-3-5-5 0-7 3-5 5-2-4-5 1-14-5-3-12 4-10-4-3-7 2-5-5-18 0-14 3-15 2-4 0-5 1-7 7-10 9-5 2-5 6-2 5 4-4 4 3 3 8 17-3 5-4 22-7 25 4 0 13-16 4-2 23 6 8 4 3 6-1 4-8 7-2 7-4 3 0 2-5 5-4 8 17 0 3 3 3 4 1 7-3 4-6 2 5 1 1 4-3 4-6 3-19 4 3 0 4 5 0 2-4 2zM611 323l-6 0-2-4 5-4 4 1 2 3-3 4zM603 336l-8 0-2-5 6-3 5 2 1 3-2 3zM567 421l-10-6-6-6-4 0 2 4 0 5 3 2 15 1zM551 438l-2 0 2 0zM560 460l-2 0-4-3 5-4 5 4-4 3zM566 479l-25 0-2 0 0-2 2-6 8-9 8-2 4 6 6 4-1 9z"/><path fill="#ffc2ff" fill-rule="evenodd" d="M562 214l-9-1-8-4-4-5 2-6-11-25-2-8-4-5-15-7-6-6-3-7 3-26 13-13 4-11 5-8 18 0 1 2 7 3 1 7-4 6 8 6 3 5-1 3-3 2 3 5 1 4 5 6-1 5 2 3-1 5 1 3 11 9 3 6-1 9-3 6 9 13 1 3-2 2-15 7-2 10-6 2zM624 107l-15-1-2-3 2-4 0-4 8 0 7-1 3 5-1 7-2 1zM529 217l-5 0-4-2-3-4 0-5 5-10 9-3 7 3 2 7-3 8-8 6zM576 235l-8 0-4-3-5-6 0-3 7-2 6 1 4-3 3 1 3 4 0 6-6 5zM543 285l-8 0-1 0-1-3 2-2 7 0 1 5zM559 438l-5 0-6-2-5-7-7-3-4-4 0-7 2-5 7-2-5-5 0-7 2-5-2-4-5-1-12 3-10-4-2-6 2-5-5-18 0-14 3-14 2-4 0-6 1-7 7-10 9-5 1-5 6-2 4 5-5 3 4 3 8 18-3 4-4 22-7 26 6-1 3-5 13-12 22 6 8 4 3 5 0 3-9 8-1 6-9 10-5 10 7-1 12 1 4 6 2 5-1 3-5 3-9 0-14-7-5-6-7 1 3 3 0 6 3 2 23 2 9 4-4 6-6 3-14 3zM611 322l-6 0-1-3 4-3 4 0 2 3-3 3zM603 335l-8 0-2-4 6-3 5 2 1 3-2 2zM557 448l-17-1-6-4-3-4 3-4 6-1 5 3 12 2 5 5-1 2-4 2zM561 459l-5-1-1-2 4-3 3 2 1 2-2 2zM565 479l-24 0-1 0-1-2 2-6 8-8 8-2 4 6 6 4-2 8z"/><path fill="#ffbfff" fill-rule="evenodd" d="M564 213l-11 0-7-4-3-5 1-6-14-34-6-6-12-5-6-6-3-7 3-25 5-7 8-6 4-11 5-9 16 0 1 2 7 3 1 7-4 7 8 5 3 5-1 3-3 2 9 15-1 5 2 3-1 5 1 3 12 10 2 5 0 9-4 6 10 14 0 2-16 8-3 10-3 2zM624 106l-14-1-3-2 3-3 0-5 7 1 7-2 2 5-2 7zM576 234l-8 0-6-5-3-4 1-2 7-2 5 2 4-3 2 0 4 4 0 3-2 4-4 3zM542 285l-7 0-1-3 8-1 0 4zM580 421l-9 0-7-3-11-8 1-4-12 1-3-2-2-3 2-12-3-4-5-1-11 3-11-5-1-5 2-4-5-16 0-15 3-15 2-4 0-6 2-9 4-5 7-6 6-1-3-2 2-4 5-1 4 3-1 1-6 3 5 4 8 16-3 5-3 22-8 27 8-1 3-5 12-12 22 6 8 4 2 4 0 3-9 8-1 6-9 9-7 12 9-2 12 2 4 4 2 7-5 5zM610 322l-5 0-1-3 4-3 4 1 2 2-4 3zM602 335l-6 0-3-3 4-3 4 0 4 3-3 3zM564 437l-10 0-5-1-6-8-7-2-4-5 0-6 3-5 9-1 4 3 0 6 3 3 23 2 8 2-3 7-15 5zM558 447l-18-1-6-3-3-4 3-3 6-2 4 4 14 3 3 4-3 2zM560 459l-4-1 0-2 3-2 3 1 1 3-3 1zM564 479l-23 0-1-2 1-5 9-9 7-2 3 6 6 4 0 7-2 1z"/><path fill="#ffbaff" fill-rule="evenodd" d="M564 213l-11 0-7-4-3-5 1-6-14-34-6-6-12-5-6-6-3-7 3-25 5-7 8-6 4-11 5-9 16 0 1 2 7 3 1 7-4 7 8 5 3 5-1 3-3 2 9 15-1 5 2 3-1 5 1 3 12 10 2 5 0 9-4 6 10 14 0 2-16 8-3 10-3 2zM624 106l-14-1-3-2 3-3 0-5 7 1 7-2 2 5-2 7zM576 234l-8 0-6-5-3-4 1-2 7-2 5 2 4-3 2 0 4 4 0 3-2 4-4 3zM542 285l-7 0-1-3 8-1 0 4zM580 421l-9 0-7-3-11-8 1-4-12 1-3-2-2-3 2-12-3-4-5-1-11 3-11-5-1-5 2-4-5-16 0-15 3-15 2-4 0-6 2-9 4-5 7-6 6-1-3-2 2-4 5-1 4 3-1 1-6 3 5 4 8 16-3 5-3 22-8 27 8-1 3-5 12-12 22 6 8 4 2 4 0 3-9 8-1 6-9 9-7 12 9-2 12 2 4 4 2 7-5 5zM610 322l-5 0-1-3 4-3 4 1 2 2-4 3zM602 335l-6 0-3-3 4-3 4 0 4 3-3 3zM564 437l-10 0-5-1-6-8-7-2-4-5 0-6 3-5 9-1 4 3 0 6 3 3 23 2 8 2-3 7-15 5zM558 447l-18-1-6-3-3-4 3-3 6-2 4 4 14 3 3 4-3 2zM560 459l-4-1 0-2 3-2 3 1 1 3-3 1zM564 479l-23 0-1-2 1-5 9-9 7-2 3 6 6 4 0 7-2 1z"/><path fill="#ffafff" fill-rule="evenodd" d="M561 212l-8-1-7-3-2-4 1-6-11-26-2-8-5-5-15-7-8-12 3-25 13-13 4-11 5-9 14 0 0 3 8 3 1 6-4 4 0 4 8 5 3 5-6 3 4 5 2 6 5 6-2 4 3 3-1 7 3 4 10 8 2 4-1 9-3 6 10 15-11 6-6 2-2 10-5 2zM624 105l-14 0-2-2 3-3-1-4 7 1 6-2 3 4-2 6zM574 234l-5 0-4-3-5-7 7-2 5 2 4-3 2 0 3 3-1 6-6 4zM542 284l-7 0-1-1 1-2 6 0 1 3zM534 295l-5 0-2-1 1-2 5-2 3 3-2 2zM552 406l-10 0-4-3 0-7 2-7-3-4-7-1-10 3-9-4-2-4 2-5-5-16 0-15 3-15 3-4-1-6 2-8 4-6 10-6 3 0 4 3 5 12 3 4-3 4-4 23-7 28 6 0 4-1 3-6 4-2 7-9 21 6 8 4 2 3-1 2-8 8-1 6-9 10-5 10-7 3zM611 321l-5 0-2-1 6-3 3 2-2 2zM602 334l-6 0-2-2 5-3 5 3-2 2zM580 420l-8 0-7-2-11-9 3-3 10-2 12 1 4 5 2 6-5 4zM564 436l-10 1-5-2-6-7-6-3-4-4 0-5 2-5 9-1 3 3 0 6 4 3 30 4-2 5-15 5zM558 446l-16 0-7-4-3-3 3-3 5-1 4 4 14 2 2 3-2 2zM561 458l-2 0-3-1 3-3 3 3-1 1zM564 478l-22 1-1-2 1-5 8-8 7-2 3 6 5 3-1 7z"/><path fill="#ffa6ff" fill-rule="evenodd" d="M561 211l-9-1-5-2-2-4 1-7-12-26-1-8-4-4-16-8-8-12 3-23 4-6 9-7 4-11 5-10 12 0 0 4 9 3 0 5-4 3-1 5 10 6 2 4-8 3 5 3 3 4 0 4 5 6-2 4 3 3-1 5 1 5 12 9 2 4 0 8-4 8 10 14-10 5-7 2-1 11-5 1zM623 105l-12-1-2-1 3-3 0-3 5 0 6-2 2 4-2 6zM574 233l-5 0-5-4-3-4 6-2 5 2 5-4 3 3 0 5-6 4zM541 284l-6 0 0-1 6-1 0 2zM532 295l-3 0-1-2 5-2 2 2-3 2zM551 405l-8 0-4-3 1-13-2-5-8-2-10 4-9-4-1-4 3-4-6-19 0-12 3-14 3-5-1-6 2-7 7-8 6-4 3 0 3 2 5 13 3 3-3 4-3 22-8 29 2 1 9-1 3-6 4-2 7-9 22 6 8 5 0 3-9 7-1 7-9 10-4 9-8 3zM610 321l-5-1 5-3 2 2-2 2zM602 334l-6 0-1-2 4-2 4 2-1 2zM581 419l-9 0-5-1-13-9 13-4 12 1 4 5 1 5-3 3zM558 436l-9-2-5-7-6-2-4-3 0-6 2-5 7-1 2 1 2 3-1 5 4 3 23 2 8 3-2 3-6 3-15 3zM556 446l-14-1-5-2-4-4 7-3 3 3 15 3 2 2-4 2zM559 458l-2-1 2-2 3 2-3 1zM563 478l-21 0-1-1 2-5 8-8 6-1 2 5 6 3-1 6-1 1z"/><path fill="#ff9dff" fill-rule="evenodd" d="M564 210l-7 0-9-3-2-4 1-5-4-7-10-28-4-5-16-7-8-12 3-23 4-6 10-7 3-11 6-10 10 0 1 5 7 2 1 4-3 4-2 5 10 6 2 4-7 1-1 2 5 3 3 4 1 5 4 5-2 4 3 3-1 5 2 5 11 9 3 5-1 7-3 8 9 14-16 7-3 11zM621 103l-10 0 2-5 9-1 1 3-2 3zM575 232l-6 0-7-7 5-1 5 1 5-3 2 3 0 4-4 3zM532 294l-2 0 3-1-1 1zM551 405l-8 0-4-3 2-14-3-4-5-2-12 3-8-3-2-2 3-6-5-14-1-17 4-14 2-4 0-8 2-6 4-5 8-5 3 2 8 14-3 3-3 25-7 27 2 2 10-2 3-6 5-2 6-9 22 6 6 4 1 3-8 8-2 7-8 10-5 9-7 3zM609 320l-1 0 1-1 0 1zM601 333l-4 0 2-2 2 2zM579 419l-7 0-6-2-11-8 12-4 12 2 4 9-4 3zM563 435l-12 0-7-8-7-3-3-3 0-5 2-4 7-2 2 2 1 2-1 5 5 3 30 5-1 3-6 3-10 2zM556 445l-13 0-6-3-2-3 5-2 3 3 15 4-2 1zM563 477l-21 0 2-5 7-7 5-1 3 5 5 3-1 5z"/><path fill="#ff95ff" fill-rule="evenodd" d="M563 209l-9 0-5-2-3-4 1-5-4-7-10-28-6-6-13-6-8-11 3-24 3-5 9-7 12-22 6 0 2 6 7 2 1 3-3 4-1 5 11 9-8 4 6 4 3 8 4 5-1 4 3 4-1 3 2 6 11 10 2 4 0 7-4 8 8 13-8 6-6 2-1 6-3 4zM574 231l-4 0-6-5 8 1 5-3 0 5-3 2zM552 404l-9 0-3-2 1-14-3-4-5-3-12 2-8-4 3-5-5-15 0-15 4-13 3-5 2-12 7-7 6 10-2 25-7 29 1 2 3 2 8-2 3-2 3-5 4-2 6-8 21 6 7 4 1 2-8 8-2 6-9 11-5 9-5 2zM578 418l-12-3-8-6 9-2 11 1 4 8-4 2zM558 435l-8-2-6-7-6-2-3-3 0-5 2-4 6-1 2 2 0 6 5 4 23 2 6 3-6 4-15 3zM561 475l-16 0 7-8 3 0 2 3 5 3-1 2z"/><path fill="#ff8cff" fill-rule="evenodd" d="M560 208l-7-1-5-3 0-6-16-38-4-4-14-6-7-10 2-24 4-5 9-7 14-21 3 6 7 3-2 4 0 7 9 7-5 3 0 2 5 4 7 13-1 4 3 4-1 3 2 5 11 11 2 4 0 7-3 8 7 13-7 5-7 3-3 8-3 1zM553 403l-9 0-3-1 0-14-3-5-6-3-11 1-4-3 1-5-3-17 0-11 9-19 1-8 2 25-1 12-5 16 1 3 5 2 8-1 4-4 3-5 4-2 7-7 19 5 8 5-23 34-4 2zM579 415l-6 1-10-5 4-2 9 1 3 5zM563 433l-8 1-4-2-6-7-8-4-1-4 1-3 7 0 0 6 6 5 27 3-4 2-10 3z"/><path fill="#ff80ff" fill-rule="evenodd" d="M561 206l-8 0-4-3 0-5-15-36-6-6-14-7-6-10 0-14 3-9 24-26 7 4 1 9 8 7-4 5 5 4 7 13-1 4 3 4-1 3 2 5 12 12 2 4-1 6-3 7 7 13-6 5-7 3-5 8zM550 403l-6 0-3-2 1-13-4-6-7-4 6-4 5-8 11-8 20 5 5 4 0 2-21 31-7 3zM542 422l-4-2 1-5 3 0 0 7zM557 432l-5-1-3-4 24 2-16 3z"/><path fill="#ff6fff" fill-rule="evenodd" d="M558 202l-4 0-3-3-6-11-10-27-6-7-13-6-6-8 1-17 4-10 19-13 6 3 5 6 1 7 5 5 5 10 4 15 14 18-2 13 4 13-18 12zM554 400l-11 0-1-12-4-10 1-5 4-8 11-5 17 3 4 5 0 3-10 16-11 13z"/><path fill="#ff5eff" fill-rule="evenodd" d="M555 197l-3 0-6-10-7-24-9-10-11-6-6-8 0-15 4-10 5-5 18-1 14 24 4 13 14 20-1 13 2 12-8 5-10 2zM553 398l-8 0-5-25 3-6 12-5 16 2 2 7-11 19-9 8z"/><path fill="#ff4dff" fill-rule="evenodd" d="M557 196l-4 0-5-7-4-17-10-18-13-10-3-6 0-13 4-8 3-2 11-1 14 19 5 11 16 22-1 11 2 12-7 5-8 2zM553 396l-6 0-1-1-5-19 0-4 2-5 12-4 15 3 2 4-4 7-8 13-7 6z"/><path fill="#ff3cff" fill-rule="evenodd" d="M560 194l-6 0-6-7 1-10-6-12-6-20-7-11 1-6 32 30 5 7-2 12 4 11-5 4-5 2zM552 393l-4-1-4-9-2-10 2-4 11-4 13 3 0 4-6 13-3 4-7 4z"/><path fill="#f432f4" fill-rule="evenodd" d="M558 176l-7-3-5-7 0-5 3-5 8 2 8 7-2 7-5 4zM557 192l-5-2-3-4 9-9 7 6 2 4-4 4-6 1zM554 388l-3 1-3-3-3-5 0-9 1-2 8-2 8 1 3 4-3 5 0 4-4 4-4 2z"/><path fill="#e32de3" fill-rule="evenodd" d="M559 168l-7 0-4-3 2-2 7 0 5 3-3 2zM560 189l-7 0-2-2 6-2 7 2-4 2zM557 376l-8 0-2-3 7-2 6 1 2 2-5 2zM556 384l-6 0-2-3 3-2 5 0 4 3-4 2z"/><path fill="#f5fff5" fill-rule="evenodd" d="M580 115l19-4 4-14-1-12-11-3-11 0-9 1-3 3-5 12 9 13 8 4zM676 479l9-18 0-152 0-5-17-18 2-17 1-32-8-34 4-36 4-2 6-8 8-2 0-54-11-19-64 0 7 7 5 1 5 4 2 5-1 7-15 9-5 2 2 16-3 6-6 6-4 10 1 8-2 3 0 12-3 12 0 8-1 3-7 6-2 4 7 10-3 13 1 7 18 12 3 5 0 6-4 7-8 3-36 0-12 2-2 9-4 3-4 2 0 6 6 12 8 7 3 8-13 5-1 2 0 6 2 3 5 3 12 0 6 8 17 8 8 7-1 10-10 8-9 5 1 7-3 4 0 1 11 2 7 11 0 5-5 5 2 2-1 7-6 4-8 1-5 4 1 10 3 4-1 7 6 7 1 10 32 0 2-3 5 3 62 0zM599 343l-6 0-21-4-1-1 1-5-1-5 8-4 5-4 11-2 12-7 6 0 5 5 0 4-5 7 2 4 0 6-16 6zM593 460l-5-1-4-4-1-3 4-7 3 2 3 13z"/><path fill="#efffef" fill-rule="evenodd" d="M588 479l6-5 2-5-1-2-10-6-4-5 0-6 3-5 4-3 5-1 3 2 4 16 12 12 6 2 10 1 13-5 7 5 7 1 8-2 8-7 6-11 4-14 1-26-4-24 7-11 0-66-10-12-14-13 5-18 2-33-1-11-7-20-1-7 6-38 12-7 6-7 2-9 0-20-3-11-7-14-8-12-51 0-1 5 2 2 7 2 4 5 0 10-4 3-9 5 0 3-6 6 0 13-8 9-4 10 1 8-2 3 0 12-3 12 0 8-1 3-9 9 7 11-3 17 17 10 8 7 2 8-3 9-5 4-7 2-34-2-16 2-2 7-4 3-4 2 0 6 3 7 3 5 8 7 3 7 3 2-5 0-11 4-1 3 1 7 6 4 12 0 6 8 17 8 8 7-1 10-10 8-9 5 1 7-3 4 0 1 11 2 6 8 1 8-5 5 2 2-1 7-6 4-8 1-5 4 1 10 3 4-1 7 6 7 1 7 4 3 9 0zM587 112l13-4 1-8 2-3-1-7-8-3-9-1-10 0-8 3-4 9 7 11 3 3 14 0zM601 345l-35-4-1 0 4-6 0-4-2-4-5-2 10-1 6-2 3-4 16-3 10-4 8 1 3 5 0 3-5 7 2 4 0 6-2 1-6 2-6 5z"/><path fill="#e9ffe9" fill-rule="evenodd" d="M631 470l9-5 5-8 6 4 7 1 6-4 5-7 5-12 2-16-1-16-4-15 6-6 8-15 0-45-2-8-10-13-11-11-5-3-8-1 7-8 5-9 4-31-2-18-10-17 2-17 5-13 2-17 15-9 6-16-1-14-3-12-7-15-9-12-4-1-40 1-1 7 6 2 4 5 0 10-10 7 1 5-7 7-2 9-9 11-4 10 1 8-2 3 0 12-3 12 0 8-1 3-5 4-1 4 2 7 5 5-4 3-2 10 22 14 7 7 4 10-3 12-5 4-9 2-34-5-15 1-6 1-1 5-4 3-4 2 0 6 6 12 8 7 4 6 3 1 11 1 6-3 3-5 41-6-4 6 1 5-5 7 2 12-12 9-25-4-14 1 3 5 17 8 8 8-1 9-10 8-9 5 1 7-3 4 0 1 11 2 6 8 1 8-5 5 2 2-1 7-6 4-11 2-2 3 0 5 1 3 4 2 4 5 9-13 6-4 7-1 4 4 3 15 8 9 7 3 13 1zM586 110l9-3 6-4 1-6-2-3-8-4-11-2-10 3-7 5 0 4 6 8 16 2zM562 341l3-3 3-4-1-4-3-3-13-2-9 5 0 6 5 5 15 0z"/><path fill="#e2ffe2" fill-rule="evenodd" d="M640 282l8-4 7-7 3-9 4-17 0-11-2-9-5-8-7-5 4-12 1-19 5-10 1-14 5-1 11-6 5-15 0-14-3-11-7-14-10-14-39 0-1 8 4 1 4 5 0 10-8 6 2 7-8 7-1 9-12 10-3 7-1 4 1 7-2 3 0 12-3 12 0 11-4 8 2 7 8 6-7 6 0 5 28 20 4 7 7 20 3 2 6 0zM589 107l6-3 3-4-1-4-5-3-14-1-6 2-4 4 1 5 4 3 8 2 8-1zM628 468l9-4 4-4 2-5-2-9 2-8 6 9 6 2 7-3 5-9 2-11 0-12-2-11-5-8 13-11 5-7 5-13 0-18-5-27-15-19-10-7-15 1-13-2-5-3-20-2-32-6-12 0-11 2-4 6-4 1 0 6 6 12 8 5 1 4 6 4 11 0 6-2 2-6 22-3 16-6 11 3-7 6-4 10 1 18-8 4-6 5-23-4-9 0-5 3 3 3 14 6 10 7-3 7 2 7-2 3-9 0-1 1-8 3-1 2 1 7-3 4 11 3 6 8 1 8-5 5 2 2-1 7-6 4-8 1-5 4 1 7 11 0 3-2 1-5 14-7 7 7 3 13 5 7 7 5 11 2zM561 340l3-2 3-4-3-6-13-2-9 4 0 6 2 3 17 1z"/><path fill="#dcffdc" fill-rule="evenodd" d="M644 267l4-3 5-7 6-18-1-8-3-7-5-5-7-2 6-13 2-10-1-22 3-10 0-6 10-2 11-6 5-12 0-10-3-15-7-14-12-15-33-1-2 9 5 4 2 5-1 7-5 4-1 3 1 4 3 4-6 1-4 4-1 4 0 5-13 11-5 9 1 8-2 3-2 25 1 11-3 4-1 5 3 5 13 7-9 6 0 3 2 3 23 16 14 14 7 2zM586 105l7-4-1-3-2-2-9-2-7 4 0 3 2 2 10 2zM571 321l6-3 0-7 26-6 7-4 1-4-11-6-30-8-15 0-11 6-5 7 5 10 10 4 0 5 5 5 12 1zM628 466l9-5 3-4-1-11 3-12-1-10 4-12 2-10 17-11 10-8 8-17 2-16-5-30-16-18-9-7-13 2-5-3-11-1-7 1-2 4 2 5 14 3-9 7-4 9-1 5 3 10-1 5-10 5-8 9-9 14 2 10-3 4-12 0-8 4 1 6 4 1-3 5 5 1 5 4 4 8 0 5-5 5 2 2-1 7-6 5-11 1-2 3 0 4 3 3 9 0 3-3-1-8 9-3 5-5 11 11 2 13 5 6 7 6 10 1zM561 339l5-5-1-3-2-2-12-2-6 1-3 2 0 6 2 2 17 1zM588 361l9-3 2-4-4-3-11-3-8 1-5 3 17 9zM592 401l-1 0-5-6 4 0 2 6zM657 431l3-5 1-7-2-7-4-3-4 4-2 9 3 8 2 1 3 0z"/><path fill="#d6ffd6" fill-rule="evenodd" d="M642 254l4-2 4-4 5-10-1-7-4-5-5-4-8-2 5-4 7-16 1-46 12-1 10-5 5-12 0-9-3-16-7-14-11-15-24-1-7 1-1 6 0 3 3 3 2 5-1 7-5 7 5 9-7 1-4 4-1 4 1 5-14 11-4 9-4 35 2 12-4 3-1 4 1 4 6 4 17 5-10 6-1 4 4 4 23 14 10 3zM571 320l4-2 2-2-3-7 21-5 5-3 0-4-12-7-18-5-13 0-10 5-3 4-1 5 4 5 8 4 1 8 4 3 11 1zM629 464l7-4 3-4-1-10 2-12 0-10 2-7 3-16 27-19 5-7 4-10 1-15-5-30-15-17-8-6-13 1-5-3-11-1-7 2-1 6 8 2 11 1-12 10-3 7-1 5 3 9-1 7-10 5-9 9-8 13 1 10-3 5-13-1-7 2-1 3 0 3 2 1 17 1 3 5 0 4 1 11-3 7 1 5 13 13 2 14 5 6 6 4 10 1zM562 338l3-4-2-5-11-1-10 2 0 6 2 1 18 1zM585 427l2-8-4 4 2 4zM577 447l2-5-2-5-7 1-4 2 0 4 1 2 10 1z"/><path fill="#cfffcf" fill-rule="evenodd" d="M631 221l10-5 6-16 2-48 13 0 9-4 2-3 3-10-1-13-2-10-7-14-12-16-28 0-1 8 4 11-4 13 4 6 0 3-7 1-4 4-1 4 2 4-15 11-4 10 0 6-2 6 1 6-2 16 1 13-4 3 0 5 6 5 12 4 19 0zM642 245l5-4 1-5-1-5-5-5-8-2-9 0-8 3-4 4 2 5 9 6 11 3 7 0zM572 319l3-2 1-2-5-8 16-3 4-3 0-4-7-5-14-4-10-1-8 4-4 4 1 5 4 4 8 3-4 2-1 6 4 4 12 0zM627 463l8-4 2-3-1-10 3-12-1-10 4-13 2-10 2-3 13-8 12-8 8-15 2-11-3-26-4-12-18-19-7-1-9 3-2-5-8-2-11 1-2 3 2 4 19 2-2 3-11 9-3 7 0 7 3 6-2 7-11 7-8 9-8 12 2 10-3 4-17 0-6 3 0 3 2 1 19 2 3 5-1 4 2 13-4 5 1 4 13 14 2 13 4 5 6 5 8 1zM562 337l2-4-2-3-9-2-11 2 0 5 3 2 17 0zM578 446l0-4-2-5-6 1-4 2 0 5 2 1 10 0z"/><path fill="#c9ffc9" fill-rule="evenodd" d="M630 220l9-4 7-16 2-49 13 0 9-4 5-12-1-13-2-10-7-13-12-17-26 0-1 8 3 7 1 5-4 12 4 6 0 3-1 1-7 1-3 3-1 4 3 4-16 12-4 9 1 6-3 6 1 6-2 16 2 13-5 4 0 4 8 5 9 3 18 0zM635 237l2-3-3-3-6 0-3 2 4 3 6 1zM575 304l6-2 2-3-2-4-6-3-14-2-5 3-3 3 1 4 5 3 8 1 8 0zM638 303l1-4-3-3-11-1-6 1-1 2 1 4 19 1zM629 461l7-5-1-10 2-12 0-11 3-6 3-17 2-3 24-16 6-7 4-12 0-12-4-29-15-16-7-6-12 2-4 7-11 9-4 9 2 7 2 3-2 3 1 5-12 6-7 8-9 13 2 10-3 5-12-1-9 1-3 2 2 4 20 1 3 5-1 5 2 13-4 5 1 4 13 13 2 14 4 5 6 4 9 0zM571 319l4-2 1-2-5-6-5-3-9 3-1 5 4 4 11 1zM561 337l3-4-2-3-10-1-10 1 1 5 2 1 16 1zM577 446l1-4-2-4-9 2 1 6 9 0z"/><path fill="#c2ffc2" fill-rule="evenodd" d="M630 219l9-4 6-16 2-49 14 0 8-4 2-2 3-9-1-13-2-9-7-14-12-17-24 0-1 8 3 5 1 7-4 12 4 5 0 4-1 2-7 1-3 2 0 5 3 3-18 14-3 7 1 6-3 6 1 6-2 19 2 10-5 4 0 4 7 4 9 3 18 0zM570 300l3-2-3-3-5 0-3 2 2 2 6 1zM638 302l1-4-3-2-11-1-7 3 1 3 1 0 18 1zM629 460l5-3 1-2-1-9 2-12 0-11 4-13 1-10 4-4 23-15 5-7 5-12 0-12-4-28-9-11-12-11-11 2-4 6-11 9-4 9 2 7 3 3-2 3 0 5-12 7-8 8-7 12 1 10-3 6-13-2-12 3 1 3 4 1 18 0 4 6-2 5 2 14-3 4 0 3 13 13 3 15 3 4 5 4 9 0zM572 318l3-2 0-2-8-7-10 3-1 4 4 4 12 0zM562 336l1-3-3-3-16 0-2 2 3 4 17 0zM577 445l-1-6-8 1 0 5 9 0z"/><path fill="#bfffbf" fill-rule="evenodd" d="M630 218l8-4 7-15 1-50 15 0 8-4 4-10 0-13-3-9-6-13-12-18-23 0-1 8 2 5 2 7-4 12 4 5 0 4-2 3-7 1-2 2-1 3 4 5-18 13-3 7 0 6-2 6 1 6-2 19 2 11-5 3-1 3 7 4 10 3 17 0zM638 302l1-3-3-2-11-1-6 2 1 3 18 1zM629 459l5-4-1-9 2-12 0-11 4-13 1-10 4-5 24-15 5-7 4-12 0-11-4-28-14-16-7-5-9 2-4 6-11 9-4 8 1 6 5 4-4 4 1 5-13 7-6 7-9 13 2 9-5 12 4 5-2 5 2 14-4 6 14 14 2 14 4 5 4 3 9 0zM571 318l4-3-6-7-3-1-8 3-1 4 3 3 11 1zM561 336l2-3-3-2-8-1-8 0-1 2 2 3 16 1zM596 391l-1-4-11-1-11 2 1 3 3 1 19-1zM577 445l-1-6-8 1 0 5 9 0z"/><path fill="#baffba" fill-rule="evenodd" d="M630 218l8-4 7-15 1-50 15 0 8-4 4-10 0-13-3-9-6-13-12-18-23 0-1 8 2 5 2 7-4 12 4 5 0 4-2 3-7 1-2 2-1 3 4 5-18 13-3 7 0 6-2 6 1 6-2 19 2 11-5 3-1 3 7 4 10 3 17 0zM638 302l1-3-3-2-11-1-6 2 1 3 18 1zM629 459l5-4-1-9 2-12 0-11 4-13 1-10 4-5 24-15 5-7 4-12 0-11-4-28-14-16-7-5-9 2-4 6-11 9-4 8 1 6 5 4-4 4 1 5-13 7-6 7-9 13 2 9-5 12 4 5-2 5 2 14-4 6 14 14 2 14 4 5 4 3 9 0zM571 318l4-3-6-7-3-1-8 3-1 4 3 3 11 1zM561 336l2-3-3-2-8-1-8 0-1 2 2 3 16 1zM596 391l-1-4-11-1-11 2 1 3 3 1 19-1zM577 445l-1-6-8 1 0 5 9 0z"/><path fill="#afffaf" fill-rule="evenodd" d="M630 217l7-3 6-15 2-52 16 1 8-4 3-9-1-13-2-9-7-13-11-15-1-3-2-1-18 1-1 8 3 6 1 6-4 12 4 4 1 5-3 4-7 1-3 3 8 6-7 2-15 12-3 6 1 6-3 6 1 7-2 18 1 8 2 3-6 3 0 3 6 3 9 3 17 0zM638 301l-1-3-7-2-8 1-3 2 1 1 6 1 12 0zM628 458l5-3-2-9 3-13-1-10 5-13 1-11 4-5 24-15 4-6 5-12 0-11-4-27-8-10-12-10-9 1-3 6-11 8-3 9 1 5 5 4-4 4 0 6-13 7-6 7-8 12 2 10-4 6-1 5 4 4-2 6 2 14-4 6 13 13 3 15 3 4 4 3 7 0zM572 317l2-2-8-8-7 3-1 4 3 3 11 0zM561 335l1-2-3-2-7-1-9 2 3 3 15 0zM595 391l0-2-1-2-10-1-10 2 0 2 3 1 18 0zM576 444l-1-5-7 2 1 3 7 0z"/><path fill="#a6ffa6" fill-rule="evenodd" d="M629 216l8-3 6-15 1-16-2-11 2-5 1-20 5 1 10 0 8-4 3-7 0-13-2-9-6-12-15-21-17 1-2 7 4 7 0 7-3 11 4 5 0 5-2 4-8 1-2 2 5 4 9 2-13 2-15 12-4 7 1 7-3 5 1 6-2 18 1 7 3 4-7 5 8 4 7 2 16 0zM637 301l0-3-4-1-8 0-5 2 0 1 6 1 11 0zM627 457l5-3-2-8 3-9-1-14 4-8 2-16 5-6 23-15 5-6 4-11 0-10-4-28-19-19-8 1-3 6-11 9-3 5 1 6 5 4-4 6 1 5-14 8-8 8-6 9 1 11-5 11 5 4-3 6 2 15-3 5 13 13 3 14 2 4 3 2 7 1zM570 317l4-2-4-5-4-2-7 2 0 4 2 2 9 1zM560 335l2-2-6-2-12 1 1 2 4 1 11 0zM594 390l0-2-9-1-11 2 4 1 16 0zM575 444l0-4-6 1 0 3 6 0z"/><path fill="#9dff9d" fill-rule="evenodd" d="M628 216l8-3 6-15 1-16-1-11 2-7 0-18 16 1 8-4 3-9-3-20-6-12-14-21-16 0-1 3-1 5 4 7 0 7-3 10 4 6 0 5-3 4-8 1-1 2 4 4 10 2-14 2-13 11-5 8 1 6-3 6 1 6-2 18 1 7 3 4-7 5 14 6 15 0zM629 299l-3 0 3 0zM628 456l3-2-2-8 4-13-1-10 3-8 3-16 4-6 24-15 4-6 4-11 0-10-5-28-12-14-6-4-6 1-3 6-12 8-2 6 1 5 5 4-4 6 0 5-14 8-9 11-4 7 1 10-5 11 5 4-3 6 2 15-3 5 13 13 2 14 3 3 3 3 7 0zM571 315l-1-2-4-3-6 3 2 2 9 0zM590 389l-11 0 11 0z"/><path fill="#95ff95" fill-rule="evenodd" d="M630 215l5-2 7-15 1-16-2-11 3-7 0-18 18 0 6-3 2-9-2-20-7-13-13-19-16 0-1 7 2 5 1 9-3 10 4 5 0 6-3 4-9 3 5 4 8 1 4 2-7 0-10 2-13 10-5 8 1 6-3 6 1 7-2 17 1 7 3 4-6 5 14 5 16 0zM644 141l-1-2 1 2zM628 455l2-2-1-7 3-13-1-10 4-8 2-16 5-6 23-16 4-6 4-11 0-8-5-28-17-17-5 1-3 5-11 8-3 5 1 4 6 5-5 6 0 6-15 8-7 8-6 9 1 10-4 9 0 2 4 4-2 6 1 15-3 5 14 13 2 14 5 5 7 0z"/><path fill="#8cff8c" fill-rule="evenodd" d="M660 146l7-4 3-8-3-20-6-12-12-16-1-4-16 0-1 7 3 6 1 8-3 10 3 5 1 6-3 5-9 2 4 3 9 1 7 4 1 5 15 2zM628 215l7-3 5-11 2-9-1-20 2-8 1-22-3-3-6-1-12 3-14 11-3 5 1 7-3 6-1 23 1 8 3 4-6 5 13 5 14 0zM627 454l2-1-1-7 4-14-1-9 4-10 3-15 4-6 22-15 7-17 0-8-5-27-16-15-2 0-4 5-11 8-1 5 5 7-5 7 0 6-15 8-6 6-7 10 1 11-4 8 0 2 4 4-3 6 2 16-3 4 13 12 4 15 4 4 5 0z"/><path fill="#80ff80" fill-rule="evenodd" d="M660 145l6-3 3-9-3-19-6-12-12-16-1-4-14 0-1 7 3 6 1 8-3 10 3 5 1 6-4 6-7 2 18 6 3 6 13 1zM629 214l6-4 6-12 1-7-1-19 2-8 0-21-2-3-6-1-11 2-15 11-2 6 0 6-2 6-2 13 1 14 3 9-4 4 11 4 15 0zM627 452l-1-6 5-14 0-9 4-10 2-15 4-6 22-16 6-15 0-8-6-26-13-14-14 10-2 4 4 4 2 4-1 3-4 4-2 7-16 9-11 14 0 11-5 9 4 5-2 6 2 16-3 4 13 12 4 14 3 3 5 0z"/><path fill="#6fff6f" fill-rule="evenodd" d="M661 142l3-2 2-7-2-18-6-12-12-15-2-6-8 0-1 6 2 6 1 9-2 10 2 4 1 7-5 8 12 4 3 6 12 0zM629 212l4-2 3-4 5-15-2-19 3-11-2-18-6-2-9 1-15 11-2 5 0 7-4 19 1 13 4 9-3 4 9 2 14 0zM622 445l6-13 2-10 3-7 3-17 20-20 6-10 1-15-7-23-6-6-3 3 1 6-2 5-5 6-3 7-19 9-11 12-1 11-4 7 4 7-2 6 1 16-1 4 12 11 5 11z"/><path fill="#5eff5e" fill-rule="evenodd" d="M659 139l2-1 2-6-3-16-5-11-12-16-2-7-2 0-1 6 4 11-2 13 3 9-2 9 7 3 4 6 7 0zM628 210l6-5 4-8 1-6-1-18 3-14-4-14-3-2-9 2-13 9-2 4 0 10-5 16 1 12 5 13 4 1 13 0zM623 434l9-18 1-13 2-5 12-16 8-14 1-10-4-11-10 9-20 8-5 3-5 6-2 10-4 7 2 7 0 25 15 12z"/><path fill="#4dff4d" fill-rule="evenodd" d="M657 135l2-5-3-12-10-18-1 11 2 9 0 8 8 7 2 0zM624 208l5-2 3-2 4-6 1-7 0-12-2-6 5-12-2-6-5-8-8 0-12 8-1 4 0 9-5 13 0 12 2 7 5 7 10 1zM621 427l10-12 1-7-2-5 11-18 4-20-19 3-6 3-4 4-8 15 2 9 0 13 1 9 10 6z"/><path fill="#3cff3c" fill-rule="evenodd" d="M625 205l3-2 6-7 1-16-3-7 6-11-4-9-5-4-9 3-5 4-1 6 2 7-8 13 1 11 2 6 6 5 8 1zM620 421l10-6 0-6-5-6 11-11 1-3-3-10-5-5-8 3-9 13 0 5 4 8-3 6 0 7 3 4 4 1z"/><path fill="#32f432" fill-rule="evenodd" d="M626 201l5-5 2-12 0-5-7-7 5-3 6-7-2-3-7-6-10 4-1 6 6 8-7 2-6 9 1 10 2 6 7 3 6 0zM625 399l10-9-4-5-7-2-4 2-6 8 4 6 7 0zM620 417l8-2 0-6-9-2-2 1-1 7 2 2 2 0z"/><path fill="#2de32d" fill-rule="evenodd" d="M629 168l4-3 2-4-8-5-7 1-1 5 1 2 9 4zM624 198l6-5 1-12-6-6-2 0-5 1-6 6 1 9 3 6 8 1zM626 395l7-5-3-2-7 0-6 5 2 2 7 0zM627 413l-1-2-8 1 1 1 8 0z"/><path fill="#27d827" fill-rule="evenodd" d="M628 163l-2-3-1 1 3 2zM622 194l3-2 1-10-6-2-4 3 1 7 2 3 3 1zM624 394l5-4-5-1-5 5 5 0z"/></g><path fill="none" stroke="#000" stroke-width="1.85" stroke-linejoin="round" d="M561.1,211 553.6,210.5 548.6,208.5 547.2,207.1 545.7,204.1 544.7,203.1 546.2,200.1 546.7,197.6 544.7,194.6 543.7,192.1 542.7,191.1 541.2,183.6 534.7,171.1 534.7,169.6 534.2,169.1 534.2,167.6 533.7,167.1 533.7,165.6 533.2,165.1 532.7,162.6 529.1,158.5 526.1,157 525.1,156 519.6,154.5 513.6,151.5 507.7,145.1 504.7,139.1 505.2,138.1 505.2,134.6 505.7,134.1 505.7,130.1 506.2,129.6 506.2,123.1 506.7,122.6 506.7,120.6 507.2,120.1 507.7,115.1 512.6,109.2 513.1,109.2 521.2,102.6 524.7,91.1 528.3,86.6 530.3,81.6 541.9,81.6 541.9,85.6 542.6,86.3 548.1,87.3 548.6,87.8 549.6,87.8 550.4,88.6 551,93.1 547,97.1 546.5,101.1 546,101.6 547.1,102.7 555.1,107.2 556.5,108.6 558,111.6 557.1,112.5 555.1,112.5 554.6,113 552.6,113 552.1,113.5 550.1,113.5 548.5,114.1 552.6,115.7 555,118.1 557.5,121.6 558,126.1 563,131.6 563,132.1 560,135.1 564,139.1 562,143.1 564,148.6 570.6,154.7 575.1,157.2 576.5,158.6 577,160.6 578,162.1 577.5,170.1 573.1,177.1 577,181.6 580,187.1 584,191.6 583.1,192.5 579.1,193 573.6,197.5 572.1,197.5 570.1,198.5 567.1,199 567,205.6 565.5,208.6 565.5,209.6 564.1,210.5 561.6,210.5 561.1,211ZM623.6,104.9 618.1,104.4 617.6,103.9 616.1,103.9 615.6,104.4 611.1,104.4 608.8,102.1 611.8,100.1 611.8,98.6 611.3,98.1 611.6,96.3 617.6,97.3 623.1,95.3 624.9,98.6 624.9,99.6 622.9,103.1 623.9,104.6 623.6,104.9ZM611.1,96.4 611.1,95.8 611.1,96.4ZM574.6,232.9 569.1,232.9 567.6,231.4 565.6,230.4 563.3,228.1 561.8,225.1 560.8,224.1 567.1,222.8 568.6,223.8 572.1,224.8 575.1,222.3 577.1,221.3 579.9,224.1 579.4,229.1 578.6,230.4 574.6,232.9ZM541.6,283.8 535.1,283.8 534.9,282.1 541.6,281.9 541.6,283.8ZM532.6,294.8 529.1,294.8 527.4,294.1 528.1,292.4 530.6,291.9 531.1,291.4 532.6,291.4 533.1,290.9 535.8,293.1 532.6,294.8ZM551.6,405 542.6,405 538.7,401.6 538.7,396.1 540.7,392.6 540.6,387.6 537.6,384 532.6,382 532.1,382.5 527.1,383 521.6,385.9 520.1,385.9 518.6,384.9 517.6,384.9 516.1,383.9 515.1,383.9 513.6,382.9 511.6,382.4 510.8,381.6 510.3,378.6 509.8,378.1 512.3,375.1 512.8,373.6 509.8,368.1 508.3,360.6 507.8,360.1 507.8,358.1 507.3,357.6 507.3,355.1 506.8,354.6 506.8,342.1 508.8,337.1 508.8,335.6 509.3,335.1 509.8,328.1 512.8,324.1 512.8,322.1 512.3,321.6 512.3,319.1 511.8,318.6 511.8,317.6 512.3,317.1 512.3,315.6 512.8,315.1 513.8,310.1 517.8,305.6 517.8,305.1 519.6,303.3 524.1,300.3 526.6,299.8 527.1,299.3 529.1,299.3 530.1,298.8 533.4,301.6 534.4,303.6 534.4,304.6 535.9,307.1 537.4,312.6 540.9,316.6 540.9,317.1 537.9,320.1 537.4,327.1 536.9,327.6 535.4,335.1 534.9,335.6 534.4,343.1 533.4,345.6 533.4,347.1 532.9,347.6 533,349.1 532.5,349.6 532.5,351.1 532,351.6 532,353.1 531,355.1 531,356.6 529.5,360.1 529.5,361.6 526,371.1 528.1,373.2 534.6,373.2 535.1,372.7 536.6,372.7 539.1,370.6 541.6,365.6 543.1,364.1 545.6,363.6 546.1,363.1 552.1,354.7 555.6,356.2 560.6,357.2 562.6,358.2 564.1,358.2 564.6,358.7 566.1,358.7 571.6,360.7 573.1,360.7 580.1,364.2 581.5,365.6 581.5,366.6 582,367.1 582,368.1 578,372.1 573,376.1 572.5,381.1 572,382.1 568.5,386.1 568.5,386.6 563,392.1 558.5,401.6 557.6,402.5 556.6,402.5 551.6,405ZM610.1,320.8 605.6,320.8 604.9,319.6 608.6,317.4 610.1,317.4 612.3,318.6 610.1,320.8ZM602.1,333.8 596.1,333.8 594.4,331.6 599.1,329.9 603.3,331.6 602.1,333.8ZM579.6,419.4 571.6,419.4 569.6,418.4 565.6,417.4 558.6,412.9 554.3,408.6 557.1,406.8 561.1,406.3 561.6,405.8 563.6,405.8 564.1,405.3 566.1,405.3 566.6,404.8 568.1,404.8 568.6,405.3 578.6,405.8 581.9,409.6 583.9,415.1 583.6,416.4 581.1,418.9 580.1,418.9 579.6,419.4ZM558.6,436 554.1,436 553.6,435.5 549.6,434.5 548.2,433.1 547.2,430.6 543.6,427 537.6,425 533.7,421.1 533.7,415.1 536.1,410.7 538.6,410.7 539.1,410.2 542.1,410.2 543.1,409.7 545.1,411.2 547,413.1 546.5,418.1 546,418.6 550.6,422.2 556.6,422.7 557.1,423.2 560.6,423.2 561.1,423.7 573.6,424.2 574.1,424.7 576.1,424.7 576.6,425.2 578.6,425.2 581,426.1 579.5,429.6 578.6,430.5 573.6,433 568.6,434 568.1,434.5 566.6,434.5 566.1,435 564.1,435 563.6,435.5 559.1,435.5 558.6,436ZM556.6,445.9 546.1,445.9 545.6,445.4 542.1,445.4 539.6,444.4 538.6,443.4 535.6,441.9 532.8,439.1 535.1,436.8 540.1,435.8 543.6,439.3 545.6,439.3 546.1,439.8 551.1,440.3 551.6,440.8 553.6,440.8 554.1,441.3 556.6,441.3 557.6,441.8 559.9,444.1 556.6,445.9ZM559.6,457.8 558.6,457.8 556.4,456.6 559.1,454.9 561.8,456.6 559.6,457.8ZM563.6,477.9 541.6,477.9 541.3,476.6 541.8,476.1 542.8,472.1 551.1,463.8 556.1,463.3 556.6,462.8 557.4,463.6 557.9,465.6 559.4,468.1 564.1,470.3 564.9,471.1 564.4,477.1 563.6,477.9Z"/><path fill="none" stroke="#000" stroke-width="1.95" stroke-dasharray="4.2 3.9" d="M629,215.6 631.6,215 634.6,213.5 635.6,213.5 636.5,212.6 639.5,206.6 640,204.1 641,202.6 642,198.6 642.5,198.1 643,192.6 643.5,192.1 643.5,181.1 643,180.6 643,176.1 642.5,175.6 642.5,172.1 642,171.6 642,170.6 642.5,170.1 643.5,164.6 644,164.1 644,147.1 644.5,146.6 644.5,145.6 649.6,146.5 650.1,147 660.6,147 667.6,143.5 668.5,142.6 668.5,141.1 670,137.6 670.5,134.6 671,134.1 671,126.6 670.5,126.1 670.5,122.1 669.5,119.6 669.5,117.6 669,117.1 668.5,113.6 662,100.6 650,85.1 649.5,82.1 648.6,81.5 631.2,81.6 629.7,89.1 632.2,92.6 633.2,95.1 633.7,103.1 633.2,103.6 633.2,106.1 632.7,106.6 632.7,107.6 629.7,113.1 634.2,118.1 634.7,123.6 633.7,124.6 632.1,127.7 631.1,128.2 624.1,128.7 622.2,130.6 622.2,131.1 627.6,135.5 636.7,136.6 632.1,136.7 631.6,137.2 624.1,138.7 618.6,142.2 613.6,147.2 608.6,150.2 607.7,151.1 604.7,157.1 605.2,158.1 605.2,160.6 605.7,161.1 605.7,163.6 602.7,169.1 603.2,170.1 603.2,172.6 603.7,173.1 603.7,176.6 603.2,177.1 602.7,181.6 602.2,182.1 602.2,190.1 601.7,190.6 601.7,193.6 602.2,194.1 602.7,201.1 605.7,205.1 602.6,206.7 601.6,207.7 599.1,208.7 598.2,209.6 604.6,213.5 607.6,214 613.1,216 628.6,216 629,215.6ZM637.6,137.2 637,137.1 637.6,137.2ZM636.8,300.6 637.3,300.1 637.1,298.4 633.6,297.9 633.1,297.4 631.1,297.4 630.6,296.9 625.1,296.9 624.6,297.4 622.1,297.4 621.6,297.9 619.9,298.1 620.1,299.8 625.6,300.3 626.1,300.8 636.8,300.6ZM627,456.6 632,454.1 632,452.6 631.5,452.1 631.5,450.6 631,450.1 631,448.6 630.5,448.1 630,445.6 630.5,445.1 632,437.6 632.5,437.1 632.5,433.6 633,433.1 633,427.1 632.5,426.6 632.5,423.1 632,422.1 635.5,415.1 636.5,409.6 637,409.1 637,407.1 637.5,406.6 638,398.1 642.1,393 648.6,390 652.1,387.5 656.1,385.5 666.5,377.6 670.5,371.6 670.5,370.6 673.5,364.1 674,361.1 674.5,360.6 675,350.1 674.5,349.6 674,344.1 673.5,343.6 673.5,341.1 673,340.6 672.5,331.1 672,330.6 672,328.6 671,326.1 671,324.6 670.5,324.1 670.5,322.6 666.4,318.1 666.4,317.6 662.9,314.1 662.9,313.6 657.1,307.8 656.6,307.8 652.1,303.8 649.6,303.8 649.1,304.3 644.1,304.8 641.3,310.6 636.1,313.7 629.7,319.1 626.7,326.1 627.2,326.6 627.7,330.6 633.7,335.1 628.7,340.1 629.2,341.1 629.2,343.6 629.7,344.1 629.7,346.1 623.6,350.2 616.1,353.7 609.2,360.6 601.7,372.1 603.2,375.1 603.7,382.1 599.7,388.1 599.2,392.1 598.7,392.6 600.1,394 601.6,394.5 603.7,396.1 600.7,402.1 601.2,403.1 601.2,406.6 601.7,407.1 601.7,410.6 602.2,411.1 602.7,418.1 598.7,422.1 603.1,427 606.6,429 612.7,435.6 614.7,450.1 620.1,456 621.1,456.5 623.6,456.5 624.1,457 626.6,457 627,456.6ZM569.8,316.6 572.6,315.3 573.6,315.3 573.8,314.6 570.1,310.4 567.1,308.9 566.1,307.9 565.6,308.4 564.1,308.4 562.1,309.4 560.6,309.4 558.9,310.1 558.9,311.1 557.9,313.1 561.1,316.3 563.6,316.3 564.1,316.8 569.8,316.6ZM560.3,334.6 561.6,332.4 557.1,331.9 556.6,331.4 554.1,331.4 553.6,330.9 551.6,330.9 551.1,331.4 543.9,331.6 544.4,332.1 544.4,333.6 545.6,334.3 548.1,334.3 548.6,334.8 560.3,334.6ZM594.3,390.1 594.3,389.1 594.8,388.6 594.6,387.9 586.1,387.4 585.6,386.9 573.9,388.1 574.6,389.8 576.6,389.8 577.1,390.3 594.3,390.1ZM575.8,443.6 575.8,441.6 575.1,439.9 574.1,439.9 573.6,440.4 568.9,440.6 569.1,443.8 575.8,443.6Z"/><path fill="none" stroke="#000" stroke-width="1.85" stroke-linejoin="round" d="M557.6,168.5 552.6,168.5 548.2,164.1 550.1,163.2 552.1,163.2 552.6,162.7 556.1,162.7 556.6,163.2 560.6,164.2 562,165.1 559.1,168 558.1,168 557.6,168.5ZM560.1,189 553.1,188.9 550.8,186.1 557.1,184.7 557.6,185.2 559.1,185.2 559.6,185.7 561.1,185.7 563.5,186.6 560.1,189ZM557.6,376 549.1,376 546.7,372.1 547.1,371.7 549.6,371.7 550.1,371.2 553.1,371.2 553.6,370.7 554.6,370.7 555.1,371.2 560.1,371.7 562,373.6 561.6,374.5 560.6,374.5 557.6,376ZM556.6,384 550.1,384 548.7,381.1 547.7,380.1 548.1,379.7 554.1,379.2 555.1,378.7 560,381.1 556.6,384Z"/><path fill="none" stroke="#000" stroke-width="1.95" stroke-dasharray="4.2 3.9" d="M628.5,167.6 632.1,164.9 634.9,161.1 627.1,155.7 620.1,157.2 619.2,159.1 619.2,160.6 618.7,161.1 620.2,163.1 622.6,165.5 627.6,168 628.5,167.6ZM623.5,197.6 628.6,194.5 629.5,193.1 630,187.6 630.5,187.1 630.5,183.6 631,183.1 631,180.1 625.1,175.2 623.1,175.2 622.6,175.7 618.1,175.7 611.8,181.1 612.3,182.1 612.8,191.1 615.2,196.1 616.1,197 617.1,197.5 620.1,197.5 620.6,198 623.1,198 623.5,197.6ZM624.5,395.1 628.6,393.5 633,389.6 629.6,387.7 623.1,387.7 616.7,393.1 618.1,395 619.1,395.5 624.1,395.5 624.5,395.1ZM627,413.1 627,411.1 626.6,410.7 619.1,410.7 618.7,411.1 618.7,413.1 619.1,413.5 626.6,413.5 627,413.1Z"/></g>
<g clip-path="url(#cb2)"><g filter="url(#bl)"><path fill="#fff5ff" fill-rule="evenodd" d="M595 674l-18 0-17-2-25-6-10-5-5 6-4 2-3-1-3-4-3-9-3-19-5-54 8-36 6-12 3 0 5 4 18-14 17-3 7 1 11 6 9 0 4 1 1 1 1 10-4 4-11 1-10 11-4 12-6 8-2 8-5 10-3 10 2 6 8 16 5 8 9 10 0 6 2-2 18-24-5-7-1-9 1-10 4-8 5-4 9 0 7 2 5 4 1 10-1 16 4 10-1 16-15 26-6 4z"/><path fill="#ffefff" fill-rule="evenodd" d="M587 671l-19-1-11-3-7-4-15-1-12-6-7-8-3-1-3-7-3-14-4-40 4-20 9-16 12-14 13-9 18-3 9 4 4 4 9-2 8 4 0 6-2 3-6 2-7 0-10 11-3 10-7 10-2 8-6 10-2 8 1 8 4 8 16 22-1 13 9-2 11-17 10-10-7-6-3-6 0-10 4-8 6-3 8 0 7 4 4 7 1 8-3 6 3 3 3 9-2 18-12 22-16 3z"/><path fill="#ffe9ff" fill-rule="evenodd" d="M552 661l-14 0-12-5-10-12-4-16-6-28-1-18 5-18 7-13 8-9 16-13 17-3 11 6 3 4 0 8-1 4-7 8-6 12-14 34 1 8 18 32-2 14-9 5zM583 544l-6-1-5-3 2-6 6-2 7 2 1 6-5 4zM599 620l-5-1-4-2-4-9 3-10 7-4 9 3 5 9-3 8-8 6zM589 668l-21-1-8-3-1-4 4-4 11-3 9-13 12-15 9-6 7 0 4 3 2 6-2 18-11 18-15 4z"/><path fill="#ffe2ff" fill-rule="evenodd" d="M551 660l-13-1-11-4-9-11-11-44-1-18 5-16 8-14 7-9 16-13 16-2 10 4 3 12-14 23-4 9-1 8-9 18 1 8 13 20 4 12-1 12-9 6zM582 542l-6-2-1-2 1-2 4-2 4 2 1 2-3 4zM599 616l-6-2-4-6 2-6 5-4 6 2 4 6-2 6-5 4zM588 666l-15-2-6-4 2-2 6-2 4-8 17-22 9-6 5 0 7 10-2 16-3 6-9 11-15 3z"/><path fill="#ffdcff" fill-rule="evenodd" d="M550 659l-12-1-11-4-9-12-9-42-2-18 5-16 7-14 8-8 15-13 16-2 10 5 2 10-14 22-4 10-1 8-9 16 1 10 11 18 6 14-2 12-8 5zM599 611l-3 0-2-3 0-2 2-3 3 0 2 3 0 2-2 3zM588 665l-8-2-3-3 2-10 17-22 10-7 4 0 6 11 0 12-4 8-10 10-14 3z"/><path fill="#ffd6ff" fill-rule="evenodd" d="M550 658l-12-1-10-4-9-11-10-42-1-18 5-16 7-13 8-9 15-12 15-2 9 4 2 12-14 20-3 8-2 10-9 16 2 10 11 18 5 14-1 12-8 4zM588 664l-4-1-6-3-1-4 3-6 17-22 9-6 3 0 6 10 0 12-4 8-11 10-12 2z"/><path fill="#ffcfff" fill-rule="evenodd" d="M551 657l-13-1-10-4-8-10-10-42-1-18 4-16 8-12 7-9 15-12 15-2 8 3 2 12-14 20-3 8-2 10-8 16 1 10 11 18 5 14-1 10-6 5zM588 663l-3 0-6-3-1-4 3-6 17-22 8-5 3 0 6 9-1 12-4 8-10 9-12 2z"/><path fill="#ffc9ff" fill-rule="evenodd" d="M552 656l-13 0-11-5-8-9-9-44-1-16 4-16 7-12 8-8 14-12 15-3 8 4 1 11-13 19-4 9-1 10-9 16 1 10 11 18 6 14-1 10-5 4zM592 662l-6 0-6-2-1-4 1-4 18-23 8-5 3 0 5 6-1 14-4 8-8 8-9 2z"/><path fill="#ffc2ff" fill-rule="evenodd" d="M550 656l-11-1-10-4-8-9-10-44-1-16 4-14 8-14 7-8 15-12 14-2 8 4 1 10-14 20-4 8-1 10-6 8-3 8 2 12 11 18 5 12-1 10-6 4zM587 662l-7-4 2-8 16-20 9-6 2 0 4 6 0 6 0 8-5 8-9 8-12 2z"/><path fill="#ffbfff" fill-rule="evenodd" d="M551 655l-12 0-10-4-7-9-10-44-1-16 4-14 7-14 7-8 15-12 14-2 7 4 1 8-14 22-3 8-1 10-6 8-3 8 1 12 11 18 6 12-2 10-4 3zM591 661l-5 0-6-3 2-6 14-20 12-8 5 8-1 12-4 8-7 6-10 3z"/><path fill="#ffbaff" fill-rule="evenodd" d="M551 655l-12 0-10-4-7-9-10-44-1-16 4-14 7-14 7-8 15-12 14-2 7 4 1 8-14 22-3 8-1 10-6 8-3 8 1 12 11 18 6 12-2 10-4 3zM591 661l-5 0-6-3 2-6 14-20 12-8 5 8-1 12-4 8-7 6-10 3z"/><path fill="#ffafff" fill-rule="evenodd" d="M551 654l-12 0-10-4-7-10-9-42-1-16 4-14 7-12 7-9 14-12 14-2 6 3 2 8-14 20-4 10-1 10-9 16 1 12 11 18 6 12-1 10-4 2zM591 660l-5 0-5-2 2-6 14-19 11-8 4 7-1 12-4 8-7 6-9 2z"/><path fill="#ffa6ff" fill-rule="evenodd" d="M549 654l-10-1-10-4-6-9-9-40-2-18 4-14 11-17 17-15 14-2 6 2 1 8-13 20-4 8-1 10-9 18 1 12 10 16 7 14-1 10-6 2zM587 660l-6-2 2-6 14-18 11-8 3 6 0 4 0 8-4 8-8 6-12 2z"/><path fill="#ff9dff" fill-rule="evenodd" d="M549 654l-11-1-9-4-6-9-9-40-1-16 3-14 11-19 17-15 13-2 6 2 2 8-13 20-5 10-1 8-6 10-3 8 2 12 9 16 7 14-1 10-5 2zM590 659l-7-1 1-6 14-18 9-7 4 5 0 4-1 6-4 9-8 7-8 1z"/><path fill="#ff95ff" fill-rule="evenodd" d="M551 653l-11 0-7-3-3-2-7-8-9-40-1-16 3-14 11-18 18-16 12-2 6 3 1 7-13 20-4 10-1 8-6 10-3 8 1 12 11 18 6 12-1 8-3 3zM593 657l-7 0-2-1 13-18 10-9 2 3 0 10-4 7-7 7-5 1z"/><path fill="#ff8cff" fill-rule="evenodd" d="M549 653l-9-1-10-4-6-8-10-42-1-14 4-15 8-13 7-8 13-11 12-2 6 3 1 6-14 20-4 10-1 8-6 10-3 8 1 12 12 19 5 13-1 6-4 3zM593 654l-4 0 10-15 7-6 0 9-4 6-5 5-4 1z"/><path fill="#ff80ff" fill-rule="evenodd" d="M549 652l-9-1-9-3-6-8-10-42-1-14 4-15 7-13 7-8 13-10 12-2 5 2 1 6-13 20-4 10-2 8-5 8-3 10 1 12 11 19 6 13-2 6-3 2z"/><path fill="#ff6fff" fill-rule="evenodd" d="M548 650l-8-1-8-3-5-8-9-38-1-16 3-14 7-12 7-9 12-9 11-2 3 2 0 4-12 18-5 10-1 10-5 8-4 8 2 16 11 18 5 12-1 4-2 2z"/><path fill="#ff5eff" fill-rule="evenodd" d="M547 647l-6-1-7-3-5-7-9-40 0-12 3-12 7-13 8-9 9-6 9-3 1 2-12 19-4 10-2 8-5 8-4 10 2 16 13 23 3 7-1 3z"/><path fill="#ff4dff" fill-rule="evenodd" d="M526 604l-2-20 2-10 7-12 7-9 9-6-11 21-3 10-8 18-1 8zM542 642l-6-2-3-4-3-16 10 16 2 6z"/><path fill="#f5fff5" fill-rule="evenodd" d="M624 688l28-15 17-17 16-32 0-37-7-13-10-14-14-16-11-8-9-10-16-9-10-1-10 2-5 4-5 6 2 12-5 4-11 1-9 11-4 12-4 4-4 12-6 10-2 10 1 6 8 16 12 16 4 0 5-4 3-6-1-26 2-18 7 0 12-4 10-6 7 2-1 38 4 10 0 10-4 12-15 24 5 7 6 5 6 2 8 0z"/><path fill="#efffef" fill-rule="evenodd" d="M623 684l27-14 14-14 16-30 4-16-1-14-1-6-7-14-23-28-12-8-10-12-14-7-8-1-12 4-6 8-1 9-4 3-11 1-9 11-4 12-4 4-4 12-6 10-2 10 1 6 4 8 10 16 5 6 6-6 3-8 1-43 11 1 11-3 11-7 11 3-4 41 3 10-1 16-4 8-8 12-2 6 2 6 6 6 5 2 7 0z"/><path fill="#e9ffe9" fill-rule="evenodd" d="M621 682l28-14 14-14 15-28 3-16 0-14-9-20-22-26-12-8-10-12-13-7-7 0-10 3-6 8-2 10-18 4-7 8-3 6 5 12 12 7 6 1 10-3 12-8 8 1 5 3 2 2-5 47 1 4-1 16-12 22 1 6 4 6 4 3 7 1zM563 634l5-4 3-8 2-28-2-8-3-6-4-4-5-1-4 1-2 8-6 10-2 10 1 6 8 16 6 9 3-1z"/><path fill="#e2ffe2" fill-rule="evenodd" d="M622 680l26-14 13-14 15-26 4-16-1-14-9-20-21-25-12-8-10-12-12-6-7 0-7 1-4 3-4 7-1 10-18 4-9 8-1 4 4 12 11 6 6 0 10-3 12-8 12 3 5 4-7 68-4 8-5 6-1 6 1 8 3 4 5 4 6 0zM563 628l4-4 2-6 2-20-4-12-4-4-4-1-5 3-3 6-3 8 0 10 1 8 5 10 4 3 5-1z"/><path fill="#dcffdc" fill-rule="evenodd" d="M620 678l27-13 13-13 15-28 3-14 0-14-9-19-21-25-12-8-9-12-12-6-6 0-7 1-4 3-3 6-3 11-4 0-14 4-7 7-2 4 4 11 11 6 14-3 13-8 12 3 6 5-7 62-3 10-6 10-1 6 1 6 2 5 4 3 5 0zM562 622l5-8 1-12-2-10-6-5-4 2-3 4-2 15 4 12 3 3 4-1z"/><path fill="#d6ffd6" fill-rule="evenodd" d="M620 678l26-14 13-12 15-28 3-16 0-12-9-18-21-26-12-8-9-11-12-6-5 0-7 1-3 2-3 6-3 12-5 0-13 4-7 6-1 4 3 10 10 5 14-2 7-6 6-2 9 1 7 3 3 5-6 62-4 11-6 9 0 6 0 6 2 4 3 3 5 1zM561 616l3-4 1-8-1-6-4-4-4 3-1 9 2 8 4 2z"/><path fill="#cfffcf" fill-rule="evenodd" d="M620 676l26-13 13-13 14-26 3-16 0-12-8-18-21-24-12-8-9-12-12-6-5 0-7 1-3 3-2 4-3 14-6-1-12 3-7 6-2 4 4 10 9 4 13-2 8-6 6-2 16 4 4 6-7 62-3 12-6 8-1 6 1 6 2 4 3 2 4 0z"/><path fill="#c9ffc9" fill-rule="evenodd" d="M621 676l24-13 13-13 14-26 3-16 0-12-8-18-21-24-12-8-9-11-11-6-5 0-7 1-4 4-3 17-6-1-13 3-7 7-1 2 3 9 9 5 13-3 7-5 7-3 17 5 4 6-7 62-3 12-6 8-1 6 0 6 3 4 3 2 4 0z"/><path fill="#c2ffc2" fill-rule="evenodd" d="M621 674l24-12 12-12 15-26 3-16-1-12-7-16-21-26-12-8-9-11-12-6-4 0-7 2-3 5-4 15-6-1-12 4-7 6-1 2 3 8 8 5 13-3 7-5 7-3 9 2 8 3 5 7-7 62-4 12-5 10-1 4 0 6 2 3 3 2 4-1z"/><path fill="#bfffbf" fill-rule="evenodd" d="M622 674l23-12 12-12 14-26 3-16 0-12-8-16-21-25-12-8-8-11-12-6-4 0-6 1-4 5-3 16-7-1-12 3-7 6 0 2 2 8 9 4 12-2 7-6 7-3 10 2 7 3 5 6-6 64-4 12-6 10 0 4 0 6 3 4 6 0z"/><path fill="#baffba" fill-rule="evenodd" d="M622 674l23-12 12-12 14-26 3-16 0-12-8-16-21-25-12-8-8-11-12-6-4 0-6 1-4 5-3 16-7-1-12 3-7 6 0 2 2 8 9 4 12-2 7-6 7-3 10 2 7 3 5 6-6 64-4 12-6 10 0 4 0 6 3 4 6 0z"/><path fill="#afffaf" fill-rule="evenodd" d="M619 674l25-13 12-11 14-26 3-16 0-12-7-14-21-26-13-8-8-11-11-6-4 0-6 1-2 4-5 17-7-1-10 2-8 8 2 7 8 5 11-3 7-6 9-2 9 1 8 4 5 6-6 64-4 12-6 10 0 10 3 3 2 1z"/><path fill="#a6ffa6" fill-rule="evenodd" d="M620 672l24-12 12-12 14-26 3-14-1-12-7-16-21-24-12-8-9-11-10-5-4 0-6 1-2 3-4 18-8-1-10 2-8 7 2 6 8 5 11-3 7-6 9-2 9 1 9 4 5 7-7 66-4 12-5 8-1 10 4 3 2-1z"/><path fill="#9dff9d" fill-rule="evenodd" d="M619 672l25-12 11-12 14-26 3-14-1-12-7-16-20-24-13-8-8-11-13-5-7 1-2 3-4 18-8-1-10 2-7 7 2 6 7 5 11-3 7-6 9-2 9 1 9 4 6 7-7 66-4 12-6 8 0 8 4 4z"/><path fill="#95ff95" fill-rule="evenodd" d="M619 672l24-13 11-11 14-26 3-12 0-14-8-15-20-24-12-8-9-11-12-5-6 1-2 3-4 18-9-1-11 3-5 5 2 6 7 4 9-3 7-5 7-3 13 1 8 4 6 8-7 66-3 12-6 8-1 8 4 4z"/><path fill="#8cff8c" fill-rule="evenodd" d="M622 670l21-12 10-10 14-26 3-12 0-12-8-16-16-20-16-12-8-11-12-5-5 1-2 3-4 18-11-1-8 2-6 5 1 5 7 4 9-3 7-5 7-3 13 1 9 4 6 9-7 66-3 12-6 10 0 6 1 2 4 0z"/><path fill="#80ff80" fill-rule="evenodd" d="M620 668l22-11 10-10 14-25 2-12 0-12-7-16-16-20-16-11-8-11-10-5-5 1-2 2-4 19-11 0-9 2-4 5 1 2 5 3 8-2 10-7 9-2 10 2 8 4 8 8-1 14-3 20-3 34-4 13-6 9 0 6 2 0z"/><path fill="#6fff6f" fill-rule="evenodd" d="M625 660l14-7 10-9 13-24 2-12 0-10-6-12-17-21-14-11-9-10-9-4-3 14 14 2 10 4 9 12 0 14-7 54-7 20zM586 564l4-2-9 2 5 0z"/><path fill="#5eff5e" fill-rule="evenodd" d="M637 646l6-6 13-22 2-10 0-10-5-8-7-9-9 65z"/></g><path fill="none" stroke="#000" stroke-width="1.85" stroke-linejoin="round" d="M549.6,653.9 539.1,653.4 530.6,649.4 529.6,649.4 522.7,640.5 522.2,638 521.7,637.5 521.7,636 521.2,635.5 521.2,634 520.7,633.5 520.7,632 520.2,631.5 520.2,630 518.7,626 518.7,624 518.2,623.5 517.7,619 517.2,618.5 517.2,616.5 516.7,616 516.7,614 516.2,613.5 516.2,611.5 515.7,611 515.7,609 515.2,608.5 515.2,606.5 514.7,606 514.7,604 514.2,603.5 514.2,601.5 513.7,601 513.7,599 513.2,598.5 513.2,594 512.7,593.5 512.7,585.5 512.2,585 512.2,582.5 513.2,580.5 513.2,579 513.7,578.5 513.7,577 514.2,576.5 514.2,575 514.7,574.5 514.7,573 515.2,572.5 515.2,571 515.7,570.5 516.2,568 517.2,567 523.2,555.5 526.7,552 526.7,551.5 530.2,548 530.2,547.5 534.6,543.1 544.6,535.6 558.1,533.6 564,536.5 564,537.5 564.5,538 564.5,542 565,542.5 565,544.5 558,555 552,563 547.5,573.5 547.5,576.5 547,577 546.5,583 540.5,591.5 540.5,592.5 537.5,599 537.5,605 538,605.5 538,610 538.5,610.5 538.5,612 541.5,616 542,617.5 545,621.5 549,629 550,630 552.5,635 552.5,636 553.5,637.5 554.5,641 555.5,642.5 554.5,651.5 549.6,653.9ZM587.1,659.8 586.1,659.8 581.3,657.5 581.8,655 582.8,653.5 583.3,651.5 584.8,650 585.8,648 587.3,646.5 591.3,640.5 594.3,637.5 594.3,637 597.3,634 597.3,633.5 600.1,630.7 607.6,625.7 611.4,631.5 611.4,636 610.9,636.5 610.9,643 606.9,651 598.6,658.3 595.1,658.3 594.6,658.8 591.6,658.8 591.1,659.3 587.6,659.3 587.1,659.8Z"/><path fill="none" stroke="#000" stroke-width="1.95" stroke-dasharray="4.2 3.9" d="M619.5,672.5 624.1,670.9 625.1,669.9 627.6,668.9 632.1,665.9 643.6,660.4 655.5,648.5 663,633 669.5,623 670,619 670.5,618.5 670.5,616.5 671,616 671,614 671.5,613.5 671.5,611.5 672,611 672,609 672.5,608.5 672,608 672,596 671.5,595.5 671.5,594 664.5,580.5 657.5,572 656,569.5 644.5,557 644.5,556.5 640.6,553.6 639.1,553.1 636.6,551.1 632.1,548.6 623.6,537.1 612.6,531.6 609.1,531.6 608.6,532.1 603.6,532.6 600.7,536.5 600.2,537.5 600.2,540 599.7,540.5 599.7,543 599.2,543.5 599.2,546 598.7,546.5 598.7,549 598.2,549.5 598.2,552 597.7,552.5 597.6,554.1 592.6,553.6 592.1,553.1 589.6,553.1 589.1,552.6 588.6,553.1 587.1,553.1 586.6,553.6 579.1,555.1 578.6,555.6 577.6,555.6 573.6,559.6 573.1,559.6 571.2,561.5 571.2,562 572.2,564 572.2,565.5 572.7,566 573.2,568.5 574.1,569.4 581.1,572.9 583.6,572.9 585.6,571.9 587.1,571.9 589.1,570.9 592.1,570.4 599.1,564.4 600.1,564.4 605.6,561.9 608.6,561.9 609.1,562.4 614.6,562.9 615.1,563.4 617.6,563.4 620.1,564.9 621.1,564.9 623.6,566.4 625.6,566.9 627.7,569 628.7,571 631.2,574 630.7,586 630.2,586.5 630.2,589 629.7,589.5 629.7,592 629.2,592.5 628.7,598 628.2,598.5 628.2,601 627.7,601.5 627.7,604.5 627.2,605 627.2,609.5 626.7,610 626.7,614.5 626.2,615 626.2,619.5 625.7,620 625.7,624.5 625.2,625 624.7,634.5 624.2,635 624.2,639.5 623.7,640 622.7,645 621.2,648.5 620.7,651.5 614.7,660 614.2,669 617.6,672.9 619.5,672.5Z"/></g>
<line x1="89.6" y1="325.5" x2="278.9" y2="325.5" stroke="#f0f" stroke-width="3.6" stroke-dasharray="3.7 4.52"/>
<line x1="291.9" y1="325.5" x2="481.2" y2="325.5" stroke="#f0f" stroke-width="3.6" stroke-dasharray="3.7 4.52"/>
<line x1="494.1" y1="325.5" x2="683.4000000000001" y2="325.5" stroke="#f0f" stroke-width="3.6" stroke-dasharray="3.7 4.52"/>
<rect x="88.6" y="83.6" width="190.3" height="392.8" fill="none" stroke="#000" stroke-width="1.8" stroke-linejoin="round"/>
<rect x="88.6" y="505.5" width="190.3" height="190.0" fill="none" stroke="#000" stroke-width="1.8" stroke-linejoin="round"/>
<rect x="290.9" y="83.6" width="190.3" height="392.8" fill="none" stroke="#000" stroke-width="1.8" stroke-linejoin="round"/>
<rect x="290.9" y="505.5" width="190.3" height="190.0" fill="none" stroke="#000" stroke-width="1.8" stroke-linejoin="round"/>
<rect x="493.1" y="83.6" width="190.3" height="392.8" fill="none" stroke="#000" stroke-width="1.8" stroke-linejoin="round"/>
<rect x="493.1" y="505.5" width="190.3" height="190.0" fill="none" stroke="#000" stroke-width="1.8" stroke-linejoin="round"/>
<path fill="none" stroke="#000" stroke-width="1.8" d="M80.6,83.6H88.6M84.1,149.1H88.6M80.6,214.5H88.6M84.1,280.0H88.6M80.6,345.5H88.6M84.1,410.9H88.6M88.6,476.4V484.4M136.2,476.4V480.4M183.8,476.4V484.4M231.3,476.4V480.4M278.9,476.4V484.4M80.6,505.5H88.6M84.1,553.0H88.6M80.6,600.5H88.6M84.1,648.0H88.6M80.6,695.5H88.6M88.6,695.5V703.5M136.2,695.5V699.5M183.8,695.5V703.5M231.3,695.5V699.5M278.9,695.5V703.5M282.9,83.6H290.9M286.4,149.1H290.9M282.9,214.5H290.9M286.4,280.0H290.9M282.9,345.5H290.9M286.4,410.9H290.9M290.9,476.4V484.4M338.5,476.4V480.4M386.0,476.4V484.4M433.6,476.4V480.4M481.2,476.4V484.4M282.9,505.5H290.9M286.4,553.0H290.9M282.9,600.5H290.9M286.4,648.0H290.9M282.9,695.5H290.9M290.9,695.5V703.5M338.5,695.5V699.5M386.0,695.5V703.5M433.6,695.5V699.5M481.2,695.5V703.5M485.1,83.6H493.1M488.6,149.1H493.1M485.1,214.5H493.1M488.6,280.0H493.1M485.1,345.5H493.1M488.6,410.9H493.1M493.1,476.4V484.4M540.7,476.4V480.4M588.2,476.4V484.4M635.8,476.4V480.4M683.4,476.4V484.4M485.1,505.5H493.1M488.6,553.0H493.1M485.1,600.5H493.1M488.6,648.0H493.1M485.1,695.5H493.1M493.1,695.5V703.5M540.7,695.5V699.5M588.2,695.5V703.5M635.8,695.5V699.5M683.4,695.5V703.5"/>
<g filter="url(#gs)"><g transform="translate(96.40,29.88) scale(1.036,1.036)"><text font-size="27" font-style="italic">f</text></g>
<g transform="translate(104.37,38.80) scale(1.026,0.962)"><text font-size="18">AC</text></g>
<g transform="translate(132.71,29.36) scale(1.192,0.943)"><text font-size="27">=</text></g>
<g transform="translate(153.49,30.05) scale(1.038,1.064)"><text font-size="27">1/8,</text></g>
<g transform="translate(203.70,29.90) scale(1.116,0.994)"><text font-size="27" font-style="italic">K</text></g>
<g transform="translate(226.57,29.36) scale(1.231,0.943)"><text font-size="27">=</text></g>
<g transform="translate(246.22,29.90) scale(1.011,1.011)"><text font-size="27">3</text></g>
<g transform="translate(298.65,29.88) scale(1.036,1.036)"><text font-size="27" font-style="italic">f</text></g>
<g transform="translate(306.62,38.80) scale(1.026,0.962)"><text font-size="18">AC</text></g>
<g transform="translate(334.96,29.36) scale(1.192,0.943)"><text font-size="27">=</text></g>
<g transform="translate(355.74,30.05) scale(1.038,1.064)"><text font-size="27">1/8,</text></g>
<g transform="translate(405.95,29.90) scale(1.116,0.994)"><text font-size="27" font-style="italic">K</text></g>
<g transform="translate(428.82,29.36) scale(1.231,0.943)"><text font-size="27">=</text></g>
<g transform="translate(448.47,29.90) scale(1.011,1.011)"><text font-size="27">3</text></g>
<g transform="translate(511.70,29.88) scale(1.036,1.036)"><text font-size="27" font-style="italic">f</text></g>
<g transform="translate(519.97,38.80) scale(1.030,0.962)"><text font-size="18">AC</text></g>
<g transform="translate(548.09,29.36) scale(1.208,0.943)"><text font-size="27">=</text></g>
<g transform="translate(568.51,30.02) scale(1.089,1.045)"><text font-size="27">0,</text></g>
<g transform="translate(597.70,30.20) scale(1.074,1.056)"><text font-size="27" font-style="italic">K</text></g>
<g transform="translate(620.62,29.36) scale(1.185,0.943)"><text font-size="27">=</text></g>
<g transform="translate(641.14,30.50) scale(1.072,1.072)"><text font-size="27">0</text></g>
<g transform="translate(155.86,64.20) scale(1.239,1.039)"><text font-size="28">Ω</text></g>
<g transform="translate(179.05,73.10) scale(0.948,0.893)"><text font-size="18">full</text></g>
<g transform="translate(348.70,63.60) scale(1.200,1.022)"><text font-size="28">Ω</text></g>
<g transform="translate(370.54,73.08) scale(0.957,0.929)"><text font-size="18">partial</text></g>
<g transform="translate(550.60,63.60) scale(1.200,1.022)"><text font-size="28">Ω</text></g>
<g transform="translate(572.44,73.08) scale(0.957,0.929)"><text font-size="18">partial</text></g>
<g transform="translate(0.69,91.86) scale(1.006,1.020)"><text font-size="34">(a)</text></g>
<g transform="translate(0.32,513.40) scale(0.984,1.000)"><text font-size="34">(b)</text></g>
<g transform="translate(64.76,91.70) scale(1.036,1.029)"><text font-size="25">0</text></g>
<g transform="translate(53.50,224.10) scale(0.975,1.012)"><text font-size="25">40</text></g>
<g transform="translate(53.21,354.50) scale(0.987,1.035)"><text font-size="25">80</text></g>
<g transform="translate(41.73,484.30) scale(0.937,1.018)"><text font-size="25">120</text></g>
<g transform="translate(32.43,314.52) scale(1.054,0.959)"><text font-size="34" transform="rotate(-90)"><tspan font-style="italic">t</tspan> [ms]</text></g>
<g transform="translate(31.00,592.92) scale(1.005,1.023)"><text font-size="33" transform="rotate(-90)">D</text></g>
<g transform="translate(31.40,606.00) scale(1.064,1.000)"><text font-size="33" transform="rotate(-90)">/</text></g>
<g transform="translate(31.00,624.70) scale(0.913,1.133)"><text font-size="33" transform="rotate(-90)" font-style="italic">z</text></g>
<g transform="translate(65.05,513.70) scale(1.000,1.000)"><text font-size="25">1</text></g>
<g transform="translate(65.21,608.70) scale(0.991,1.029)"><text font-size="25">0</text></g>
<g transform="translate(51.36,702.80) scale(0.942,1.000)"><text font-size="25">−1</text></g>
<g transform="translate(80.74,725.90) scale(0.962,0.959)"><text font-size="25">−1</text></g>
<g transform="translate(177.36,725.90) scale(1.036,0.959)"><text font-size="25">0</text></g>
<g transform="translate(268.07,725.90) scale(0.959,0.959)"><text font-size="25">1</text></g>
<g transform="translate(150.20,759.60) scale(1.100,1.053)"><text font-size="32" font-style="italic">x</text></g>
<g transform="translate(170.50,759.60) scale(0.989,1.095)"><text font-size="32">/</text></g>
<g transform="translate(184.27,759.20) scale(1.033,1.005)"><text font-size="32">D</text></g>
<g transform="translate(282.99,725.90) scale(0.963,0.959)"><text font-size="25">−1</text></g>
<g transform="translate(379.61,725.90) scale(1.036,0.959)"><text font-size="25">0</text></g>
<g transform="translate(470.32,725.90) scale(0.959,0.959)"><text font-size="25">1</text></g>
<g transform="translate(352.45,759.60) scale(1.100,1.053)"><text font-size="32" font-style="italic">x</text></g>
<g transform="translate(372.75,759.60) scale(0.989,1.095)"><text font-size="32">/</text></g>
<g transform="translate(386.52,759.20) scale(1.033,1.005)"><text font-size="32">D</text></g>
<g transform="translate(485.24,725.90) scale(0.963,0.959)"><text font-size="25">−1</text></g>
<g transform="translate(581.86,725.90) scale(1.036,0.959)"><text font-size="25">0</text></g>
<g transform="translate(672.57,725.90) scale(0.959,0.959)"><text font-size="25">1</text></g>
<g transform="translate(554.70,759.60) scale(1.100,1.053)"><text font-size="32" font-style="italic">x</text></g>
<g transform="translate(575.00,759.60) scale(0.989,1.095)"><text font-size="32">/</text></g>
<g transform="translate(588.77,759.20) scale(1.033,1.005)"><text font-size="32">D</text></g>
<g transform="translate(24.24,798.70) scale(1.161,1.028)"><text font-size="28">D</text></g>
<g transform="translate(46.67,798.70) scale(1.033,0.908)"><text font-size="28" font-style="italic">u</text></g>
<g transform="translate(60.10,807.70) scale(1.000,0.844)"><text font-size="19" font-style="italic">x</text></g>
<g transform="translate(30.15,840.50) scale(1.150,1.028)"><text font-size="28">D</text></g>
<g transform="translate(51.49,840.50) scale(1.014,1.069)"><text font-size="28" font-style="italic">t</text></g>
<g transform="translate(85.00,818.48) scale(0.900,1.030)"><text font-size="31">[m/s<tspan font-size="20" dy="-12">2</tspan><tspan dy="12">]</tspan></text></g>
<g transform="translate(170.89,845.20) scale(1.010,0.994)"><text font-size="25">−<tspan dx="2.5">20</tspan></text></g>
<g transform="translate(249.66,845.20) scale(1.036,0.994)"><text font-size="25">−<tspan dx="2.5">12</tspan></text></g>
<g transform="translate(352.50,845.20) scale(1.000,0.994)"><text font-size="25">-4</text></g>
<g transform="translate(440.54,845.20) scale(0.994,0.994)"><text font-size="25">4</text></g>
<g transform="translate(519.54,845.20) scale(0.932,0.994)"><text font-size="25">12</text></g>
<g transform="translate(601.63,845.20) scale(0.974,0.994)"><text font-size="25">20</text></g></g>
<line x1="19.7" y1="813.8" x2="74.6" y2="813.8" stroke="#000" stroke-width="2"/>
<rect x="196.5" y="778.4" width="417.3" height="37.2" fill="url(#cbg)"/>
<line x1="280.0" y1="778.4" x2="280.0" y2="815.6" stroke="#000" stroke-width="1.6" stroke-dasharray="3.5 4.7"/>
<line x1="363.4" y1="778.4" x2="363.4" y2="815.6" stroke="#000" stroke-width="1.6" stroke-dasharray="3.5 4.7"/>
<line x1="446.9" y1="778.4" x2="446.9" y2="815.6" stroke="#000" stroke-width="1.6"/>
<line x1="530.3" y1="778.4" x2="530.3" y2="815.6" stroke="#000" stroke-width="1.6"/>
<path d="M196.5,778.4H613.8V815.6H196.5" fill="none" stroke="#000" stroke-width="1.6"/>
<line x1="196.5" y1="778.4" x2="196.5" y2="815.6" stroke="#000" stroke-width="1.8" stroke-dasharray="3.5 4.7"/>
</svg></body></html>
